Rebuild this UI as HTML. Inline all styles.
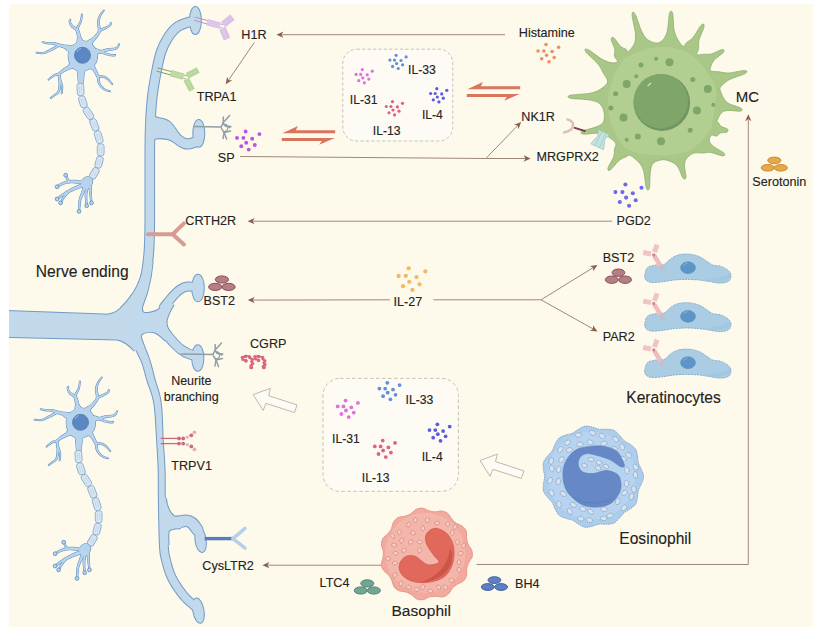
<!DOCTYPE html>
<html><head><meta charset="utf-8"><style>html,body{margin:0;padding:0;background:#fff;width:813px;height:630px;overflow:hidden}</style></head><body><svg width="813" height="630" viewBox="0 0 813 630" style="display:block;font-family:'Liberation Sans',sans-serif"><rect x="0" y="0" width="813" height="630" fill="#ffffff"/>
<rect x="9" y="4" width="804" height="623" fill="#FEFAEB"/>
<g id="nerve"><path d="M193,21.5C192.33,21.58 191.63,21.08 189,22C186.37,22.92 180.73,24.37 177.2,27C173.67,29.63 170.5,33.63 167.8,37.8C165.1,41.97 162.9,46.35 161,52C159.1,57.65 157.82,64.53 156.4,71.7C154.98,78.87 153.48,86.95 152.5,95C151.52,103.05 150.95,110.83 150.5,120C150.05,129.17 149.92,133.33 149.8,150C149.68,166.67 149.93,203.33 149.8,220C149.67,236.67 149.55,241.33 149,250C148.45,258.67 147.58,265.67 146.5,272C145.42,278.33 143.17,285.33 142.5,288" fill="none" stroke="#6F9BC6" stroke-width="10.6" stroke-linecap="round" stroke-linejoin="round"/><path d="M170,132C171.12,133.08 174.37,136.63 176.7,138.5C179.03,140.37 181.78,142.32 184,143.2C186.22,144.08 187.83,144.17 190,143.8C192.17,143.43 195.83,141.47 197,141" fill="none" stroke="#6F9BC6" stroke-width="11.2" stroke-linecap="round" stroke-linejoin="round"/><path d="M164,307C164.67,306.17 166.33,304 168,302C169.67,300 172,297.08 174,295C176,292.92 177.83,290.92 180,289.5C182.17,288.08 184.17,286.92 187,286.5C189.83,286.08 195.33,286.92 197,287" fill="none" stroke="#6F9BC6" stroke-width="10" stroke-linecap="round" stroke-linejoin="round"/><path d="M163,331C163.67,331.67 165.17,333 167,335C168.83,337 171.67,340.58 174,343C176.33,345.42 178.5,347.67 181,349.5C183.5,351.33 186.33,352.92 189,354C191.67,355.08 195.67,355.67 197,356" fill="none" stroke="#6F9BC6" stroke-width="10.4" stroke-linecap="round" stroke-linejoin="round"/><path d="M179,522.2C180.17,521.97 183.83,520.67 186,520.8C188.17,520.93 190.08,521.47 192,523C193.92,524.53 196.58,528.83 197.5,530" fill="none" stroke="#6F9BC6" stroke-width="12.5" stroke-linecap="round" stroke-linejoin="round"/><path d="M131.62,339.83 L131.96,340.52 L132.39,341.42 L132.89,342.49 L133.44,343.69 L134.03,344.98 L134.65,346.34 L135.28,347.71 L135.9,349.08 L136.51,350.4 L137.08,351.65 L137.65,352.85 L138.21,354 L138.77,355.1 L139.31,356.18 L139.84,357.25 L140.37,358.32 L140.89,359.43 L141.41,360.6 L141.92,361.84 L142.44,363.19 L142.93,364.64 L143.41,366.18 L143.89,367.8 L144.37,369.5 L144.85,371.26 L145.35,373.08 L145.87,374.97 L146.4,376.92 L146.95,378.92 L147.54,380.99 L148.21,383.1 L148.93,385.18 L149.68,387.23 L150.43,389.28 L151.18,391.37 L151.91,393.52 L152.6,395.78 L153.24,398.16 L153.83,400.72 L154.33,403.47 L154.77,406.52 L155.15,409.89 L155.47,413.51 L155.75,417.31 L156,421.21 L156.23,425.17 L156.44,429.1 L156.65,432.96 L156.87,436.67 L157.1,440.16 L157.3,443.46 L157.48,446.63 L157.67,449.7 L157.84,452.69 L158.01,455.61 L158.17,458.5 L158.31,461.37 L158.44,464.25 L158.56,467.15 L158.65,470.09 L158.73,473 L158.76,475.79 L158.78,478.54 L158.77,481.28 L158.76,484.06 L158.75,486.92 L158.75,489.91 L158.77,493.07 L158.82,496.45 L158.9,500.08 L158.94,504.13 L158.99,508.63 L159.08,513.46 L159.17,518.49 L159.28,523.58 L159.4,528.59 L159.53,533.4 L159.66,537.87 L159.79,541.87 L159.91,545.26 L160.1,547.99 L160.27,550.2 L160.44,552 L160.61,553.5 L160.79,554.81 L161.01,555.99 L161.25,557.11 L161.53,558.24 L161.84,559.47 L162.22,560.95 L162.64,562.63 L163.09,564.39 L163.57,566.21 L164.09,568.07 L164.66,569.98 L165.29,571.91 L165.98,573.86 L166.74,575.82 L167.58,577.79 L168.51,579.74 L169.52,581.68 L170.62,583.65 L171.8,585.62 L173.04,587.6 L174.33,589.55 L175.65,591.47 L176.99,593.34 L178.34,595.15 L179.68,596.87 L181.02,598.52 L182.45,600.14 L183.98,601.73 L185.56,603.26 L187.15,604.71 L188.7,606.07 L190.17,607.33 L191.52,608.46 L192.71,609.45 L193.68,610.27 L194.42,610.92 L199.58,605.08 L198.77,604.36 L197.72,603.47 L196.52,602.48 L195.21,601.37 L193.8,600.18 L192.36,598.91 L190.91,597.58 L189.5,596.22 L188.19,594.85 L186.98,593.48 L185.78,592.01 L184.54,590.42 L183.28,588.74 L182.03,586.99 L180.8,585.2 L179.6,583.38 L178.45,581.55 L177.38,579.74 L176.38,577.97 L175.49,576.26 L174.7,574.58 L173.97,572.88 L173.3,571.15 L172.68,569.4 L172.11,567.65 L171.58,565.9 L171.09,564.15 L170.63,562.42 L170.2,560.72 L169.78,559.05 L169.41,557.55 L169.1,556.34 L168.85,555.34 L168.66,554.46 L168.49,553.57 L168.35,552.53 L168.2,551.22 L168.05,549.55 L167.88,547.41 L167.69,544.74 L167.39,541.43 L167.09,537.49 L166.78,533.06 L166.48,528.29 L166.18,523.3 L165.89,518.23 L165.61,513.22 L165.35,508.41 L165.11,503.93 L164.9,499.92 L164.81,496.33 L164.75,493.01 L164.72,489.88 L164.71,486.92 L164.71,484.07 L164.71,481.28 L164.71,478.52 L164.68,475.73 L164.63,472.87 L164.55,469.91 L164.42,466.91 L164.28,463.97 L164.12,461.07 L163.94,458.17 L163.75,455.26 L163.55,452.32 L163.34,449.33 L163.13,446.27 L162.91,443.11 L162.7,439.84 L162.54,436.37 L162.41,432.69 L162.28,428.85 L162.14,424.9 L162,420.91 L161.82,416.95 L161.62,413.07 L161.36,409.34 L161.05,405.81 L160.67,402.53 L160.19,399.5 L159.63,396.68 L159.01,394.05 L158.34,391.58 L157.64,389.26 L156.94,387.05 L156.26,384.96 L155.61,382.94 L155.01,380.97 L154.46,379.01 L153.93,377.02 L153.41,375.05 L152.91,373.11 L152.43,371.22 L151.96,369.37 L151.49,367.56 L151.02,365.8 L150.55,364.09 L150.06,362.42 L149.56,360.81 L149.08,359.27 L148.59,357.83 L148.11,356.48 L147.63,355.21 L147.16,354 L146.69,352.84 L146.23,351.72 L145.79,350.61 L145.35,349.5 L144.92,348.35 L144.45,347.09 L143.94,345.73 L143.4,344.33 L142.87,342.91 L142.34,341.52 L141.84,340.19 L141.38,338.95 L140.97,337.84 L140.64,336.91 L140.38,336.17Z" fill="#6F9BC6" stroke="#6F9BC6" stroke-width="2" stroke-linejoin="round"/><path d="M149.5,150 C151,142 153,138.3 158,138.3 C164,138.3 169,138.5 173.5,141.7" fill="none" stroke="#6F9BC6" stroke-width="2"/><path d="M179.9,135.3 C176,130 172.5,124 169,121.5 C166,119.5 161,118.5 158,118 C153.5,117.5 151,112 149.5,104" fill="none" stroke="#6F9BC6" stroke-width="2"/><path d="M165.8,498 C166.5,505 169,512 173.8,516.3 C176,517 178,516.5 181,516.2" fill="none" stroke="#6F9BC6" stroke-width="2"/><path d="M181,528.2 C176,528.5 171,528.5 168.7,531 C168,535 168.3,540 168.6,545" fill="none" stroke="#6F9BC6" stroke-width="2"/><path d="M-5,310.6 L104,314.6 C110,315 115,313.5 120,309 C125,304 130,298 134,292 C139,284 143,272 144.9,262" fill="none" stroke="#6F9BC6" stroke-width="2" stroke-linejoin="round"/><path d="M152.6,262 C151.8,272 150,282 147.5,291 C146,297 143.5,302 142.3,306.5 C141,311.5 143,313.5 148,313 C153,312.6 157,311.5 160.5,307.8 L166.6,300.2" fill="none" stroke="#6F9BC6" stroke-width="2" stroke-linejoin="round"/><path d="M173.8,304.5 C170.5,310 167.6,315.5 166.6,320.5 C166,325.5 168,330 171.5,333.5" fill="none" stroke="#6F9BC6" stroke-width="2" stroke-linejoin="round"/><path d="M165.3,340.5 C161.5,337 157.5,332.6 153,332 C149,331.6 144,332.3 141.6,334.2 C140.2,336.5 140.6,341 143,348" fill="none" stroke="#6F9BC6" stroke-width="2" stroke-linejoin="round"/><path d="M134.6,351 C131,347 126,341 117,339.4 L-5,336.6" fill="none" stroke="#6F9BC6" stroke-width="2" stroke-linejoin="round"/><ellipse cx="195.4" cy="20.5" rx="5.5" ry="13.6" transform="rotate(0 195.4 20.5)" fill="#6F9BC6" stroke="#6F9BC6" stroke-width="2"/><ellipse cx="198.8" cy="133.3" rx="5.5" ry="13.4" transform="rotate(0 198.8 133.3)" fill="#6F9BC6" stroke="#6F9BC6" stroke-width="2"/><ellipse cx="198" cy="288" rx="5.8" ry="13.3" transform="rotate(0 198 288)" fill="#6F9BC6" stroke="#6F9BC6" stroke-width="2"/><ellipse cx="197.8" cy="358" rx="5.6" ry="12.8" transform="rotate(0 197.8 358)" fill="#6F9BC6" stroke="#6F9BC6" stroke-width="2"/><ellipse cx="200.6" cy="540.2" rx="5.1" ry="12" transform="rotate(-8 200.6 540.2)" fill="#6F9BC6" stroke="#6F9BC6" stroke-width="2"/><ellipse cx="198.4" cy="610.7" rx="5.1" ry="12.3" transform="rotate(-10 198.4 610.7)" fill="#6F9BC6" stroke="#6F9BC6" stroke-width="2"/><path d="M193,21.5C192.33,21.58 191.63,21.08 189,22C186.37,22.92 180.73,24.37 177.2,27C173.67,29.63 170.5,33.63 167.8,37.8C165.1,41.97 162.9,46.35 161,52C159.1,57.65 157.82,64.53 156.4,71.7C154.98,78.87 153.48,86.95 152.5,95C151.52,103.05 150.95,110.83 150.5,120C150.05,129.17 149.92,133.33 149.8,150C149.68,166.67 149.93,203.33 149.8,220C149.67,236.67 149.55,241.33 149,250C148.45,258.67 147.58,265.67 146.5,272C145.42,278.33 143.17,285.33 142.5,288" fill="none" stroke="#C2D9EB" stroke-width="8.6" stroke-linecap="round" stroke-linejoin="round"/><path d="M170,132C171.12,133.08 174.37,136.63 176.7,138.5C179.03,140.37 181.78,142.32 184,143.2C186.22,144.08 187.83,144.17 190,143.8C192.17,143.43 195.83,141.47 197,141" fill="none" stroke="#C2D9EB" stroke-width="9.2" stroke-linecap="round" stroke-linejoin="round"/><path d="M164,307C164.67,306.17 166.33,304 168,302C169.67,300 172,297.08 174,295C176,292.92 177.83,290.92 180,289.5C182.17,288.08 184.17,286.92 187,286.5C189.83,286.08 195.33,286.92 197,287" fill="none" stroke="#C2D9EB" stroke-width="8" stroke-linecap="round" stroke-linejoin="round"/><path d="M163,331C163.67,331.67 165.17,333 167,335C168.83,337 171.67,340.58 174,343C176.33,345.42 178.5,347.67 181,349.5C183.5,351.33 186.33,352.92 189,354C191.67,355.08 195.67,355.67 197,356" fill="none" stroke="#C2D9EB" stroke-width="8.4" stroke-linecap="round" stroke-linejoin="round"/><path d="M179,522.2C180.17,521.97 183.83,520.67 186,520.8C188.17,520.93 190.08,521.47 192,523C193.92,524.53 196.58,528.83 197.5,530" fill="none" stroke="#C2D9EB" stroke-width="10.5" stroke-linecap="round" stroke-linejoin="round"/><path d="M-5,310.6 L104,314.6 C110,315 115,313.5 120,309 C125,304 130,298 134,292 C139,284 143,272 144.9,262 L152.6,262 C151.8,272 150,282 147.5,291 C146,297 143.5,302 142.3,306.5 C141,311.5 143,313.5 148,313 C153,312.6 157,311.5 160.5,307.8 L166.6,300.2 L173.8,304.5 C170.5,310 167.6,315.5 166.6,320.5 C166,325.5 168,330 171.5,333.5 L165.3,340.5 C161.5,337 157.5,332.6 153,332 C149,331.6 144,332.3 141.6,334.2 C140.2,336.5 140.6,341 143,348 L134.6,351 C131,347 126,341 117,339.4 L-5,336.6 Z" fill="#C2D9EB"/><path d="M131.62,339.83 L131.96,340.52 L132.39,341.42 L132.89,342.49 L133.44,343.69 L134.03,344.98 L134.65,346.34 L135.28,347.71 L135.9,349.08 L136.51,350.4 L137.08,351.65 L137.65,352.85 L138.21,354 L138.77,355.1 L139.31,356.18 L139.84,357.25 L140.37,358.32 L140.89,359.43 L141.41,360.6 L141.92,361.84 L142.44,363.19 L142.93,364.64 L143.41,366.18 L143.89,367.8 L144.37,369.5 L144.85,371.26 L145.35,373.08 L145.87,374.97 L146.4,376.92 L146.95,378.92 L147.54,380.99 L148.21,383.1 L148.93,385.18 L149.68,387.23 L150.43,389.28 L151.18,391.37 L151.91,393.52 L152.6,395.78 L153.24,398.16 L153.83,400.72 L154.33,403.47 L154.77,406.52 L155.15,409.89 L155.47,413.51 L155.75,417.31 L156,421.21 L156.23,425.17 L156.44,429.1 L156.65,432.96 L156.87,436.67 L157.1,440.16 L157.3,443.46 L157.48,446.63 L157.67,449.7 L157.84,452.69 L158.01,455.61 L158.17,458.5 L158.31,461.37 L158.44,464.25 L158.56,467.15 L158.65,470.09 L158.73,473 L158.76,475.79 L158.78,478.54 L158.77,481.28 L158.76,484.06 L158.75,486.92 L158.75,489.91 L158.77,493.07 L158.82,496.45 L158.9,500.08 L158.94,504.13 L158.99,508.63 L159.08,513.46 L159.17,518.49 L159.28,523.58 L159.4,528.59 L159.53,533.4 L159.66,537.87 L159.79,541.87 L159.91,545.26 L160.1,547.99 L160.27,550.2 L160.44,552 L160.61,553.5 L160.79,554.81 L161.01,555.99 L161.25,557.11 L161.53,558.24 L161.84,559.47 L162.22,560.95 L162.64,562.63 L163.09,564.39 L163.57,566.21 L164.09,568.07 L164.66,569.98 L165.29,571.91 L165.98,573.86 L166.74,575.82 L167.58,577.79 L168.51,579.74 L169.52,581.68 L170.62,583.65 L171.8,585.62 L173.04,587.6 L174.33,589.55 L175.65,591.47 L176.99,593.34 L178.34,595.15 L179.68,596.87 L181.02,598.52 L182.45,600.14 L183.98,601.73 L185.56,603.26 L187.15,604.71 L188.7,606.07 L190.17,607.33 L191.52,608.46 L192.71,609.45 L193.68,610.27 L194.42,610.92 L199.58,605.08 L198.77,604.36 L197.72,603.47 L196.52,602.48 L195.21,601.37 L193.8,600.18 L192.36,598.91 L190.91,597.58 L189.5,596.22 L188.19,594.85 L186.98,593.48 L185.78,592.01 L184.54,590.42 L183.28,588.74 L182.03,586.99 L180.8,585.2 L179.6,583.38 L178.45,581.55 L177.38,579.74 L176.38,577.97 L175.49,576.26 L174.7,574.58 L173.97,572.88 L173.3,571.15 L172.68,569.4 L172.11,567.65 L171.58,565.9 L171.09,564.15 L170.63,562.42 L170.2,560.72 L169.78,559.05 L169.41,557.55 L169.1,556.34 L168.85,555.34 L168.66,554.46 L168.49,553.57 L168.35,552.53 L168.2,551.22 L168.05,549.55 L167.88,547.41 L167.69,544.74 L167.39,541.43 L167.09,537.49 L166.78,533.06 L166.48,528.29 L166.18,523.3 L165.89,518.23 L165.61,513.22 L165.35,508.41 L165.11,503.93 L164.9,499.92 L164.81,496.33 L164.75,493.01 L164.72,489.88 L164.71,486.92 L164.71,484.07 L164.71,481.28 L164.71,478.52 L164.68,475.73 L164.63,472.87 L164.55,469.91 L164.42,466.91 L164.28,463.97 L164.12,461.07 L163.94,458.17 L163.75,455.26 L163.55,452.32 L163.34,449.33 L163.13,446.27 L162.91,443.11 L162.7,439.84 L162.54,436.37 L162.41,432.69 L162.28,428.85 L162.14,424.9 L162,420.91 L161.82,416.95 L161.62,413.07 L161.36,409.34 L161.05,405.81 L160.67,402.53 L160.19,399.5 L159.63,396.68 L159.01,394.05 L158.34,391.58 L157.64,389.26 L156.94,387.05 L156.26,384.96 L155.61,382.94 L155.01,380.97 L154.46,379.01 L153.93,377.02 L153.41,375.05 L152.91,373.11 L152.43,371.22 L151.96,369.37 L151.49,367.56 L151.02,365.8 L150.55,364.09 L150.06,362.42 L149.56,360.81 L149.08,359.27 L148.59,357.83 L148.11,356.48 L147.63,355.21 L147.16,354 L146.69,352.84 L146.23,351.72 L145.79,350.61 L145.35,349.5 L144.92,348.35 L144.45,347.09 L143.94,345.73 L143.4,344.33 L142.87,342.91 L142.34,341.52 L141.84,340.19 L141.38,338.95 L140.97,337.84 L140.64,336.91 L140.38,336.17Z" fill="#C2D9EB"/><path d="M149.5,104 L149.5,150 C151,142 153,138.3 158,138.3 C164,138.3 169,138.5 173.5,141.7 L179.9,135.3 C176,130 172.5,124 169,121.5 C166,119.5 161,118.5 158,118 C153.5,117.5 151,112 149.5,104 Z" fill="#C2D9EB"/><path d="M161,495 L165.8,498 C166.5,505 169,512 173.8,516.3 C176,517 178,516.5 181,516.2 L181,528.2 C176,528.5 171,528.5 168.7,531 C168,535 168.3,540 168.6,545 L161,545 Z" fill="#C2D9EB"/><ellipse cx="195.4" cy="20.5" rx="5.5" ry="13.6" transform="rotate(0 195.4 20.5)" fill="#C2D9EB"/><ellipse cx="198.8" cy="133.3" rx="5.5" ry="13.4" transform="rotate(0 198.8 133.3)" fill="#C2D9EB"/><ellipse cx="198" cy="288" rx="5.8" ry="13.3" transform="rotate(0 198 288)" fill="#C2D9EB"/><ellipse cx="197.8" cy="358" rx="5.6" ry="12.8" transform="rotate(0 197.8 358)" fill="#C2D9EB"/><ellipse cx="200.6" cy="540.2" rx="5.1" ry="12" transform="rotate(-8 200.6 540.2)" fill="#C2D9EB"/><ellipse cx="198.4" cy="610.7" rx="5.1" ry="12.3" transform="rotate(-10 198.4 610.7)" fill="#C2D9EB"/></g>
<g transform="translate(0 0)"><g fill="#6592C4" stroke="#6592C4" stroke-width="1.1" stroke-linejoin="round"><path d="M81.67,41.7 L81.56,41.22 L81.42,40.58 L81.27,39.81 L81.09,38.94 L80.9,38.01 L80.71,37.06 L80.5,36.11 L80.3,35.2 L80.09,34.37 L79.89,33.65 L79.7,33.05 L79.54,32.51 L79.37,32 L79.2,31.51 L79.02,31.04 L78.81,30.57 L78.57,30.11 L78.29,29.66 L77.97,29.21 L77.58,28.75 L77.11,28.29 L76.58,27.88 L76.03,27.51 L75.47,27.18 L74.91,26.87 L74.37,26.58 L73.86,26.28 L73.39,25.99 L73,25.71 L72.67,25.41 L72.36,25.07 L72.06,24.67 L71.77,24.24 L71.5,23.8 L71.25,23.34 L71.02,22.89 L70.83,22.45 L70.65,22.05 L70.51,21.68 L70.41,21.38 L70.35,21.16 L70.33,20.97 L70.34,20.8 L70.37,20.63 L70.43,20.46 L70.51,20.3 L70.6,20.13 L70.68,19.97 L70.77,19.8 L70.81,19.66 L70.19,19.34 L70.12,19.41 L70.03,19.49 L69.9,19.62 L69.75,19.78 L69.59,19.97 L69.44,20.22 L69.3,20.5 L69.2,20.84 L69.16,21.22 L69.19,21.62 L69.27,22.03 L69.37,22.47 L69.51,22.94 L69.68,23.45 L69.88,23.97 L70.1,24.51 L70.36,25.04 L70.65,25.58 L70.97,26.09 L71.33,26.59 L71.77,27.07 L72.26,27.5 L72.78,27.9 L73.31,28.27 L73.84,28.63 L74.35,28.97 L74.82,29.3 L75.23,29.63 L75.56,29.94 L75.82,30.25 L76.03,30.58 L76.21,30.9 L76.35,31.22 L76.47,31.55 L76.58,31.9 L76.68,32.29 L76.77,32.72 L76.87,33.21 L76.99,33.75 L77.11,34.35 L77.25,35.02 L77.39,35.8 L77.54,36.68 L77.68,37.61 L77.82,38.55 L77.95,39.48 L78.07,40.35 L78.18,41.13 L78.26,41.8 L78.33,42.3Z"/><path d="M77.57,30.37 L77.64,30.16 L77.72,29.91 L77.82,29.63 L77.93,29.31 L78.06,28.95 L78.2,28.57 L78.35,28.16 L78.52,27.73 L78.69,27.28 L78.88,26.81 L79.09,26.33 L79.34,25.79 L79.62,25.22 L79.91,24.61 L80.22,23.98 L80.52,23.33 L80.81,22.67 L81.09,22 L81.33,21.33 L81.53,20.66 L81.69,19.96 L81.82,19.22 L81.92,18.45 L82.01,17.68 L82.07,16.92 L82.12,16.2 L82.16,15.52 L82.2,14.93 L82.22,14.43 L82.25,14.04 L81.55,13.96 L81.49,14.35 L81.42,14.86 L81.35,15.45 L81.27,16.12 L81.18,16.83 L81.07,17.57 L80.95,18.31 L80.81,19.04 L80.65,19.72 L80.47,20.34 L80.25,20.94 L80,21.55 L79.7,22.16 L79.39,22.78 L79.06,23.39 L78.72,23.99 L78.39,24.58 L78.08,25.14 L77.78,25.68 L77.52,26.19 L77.29,26.65 L77.07,27.1 L76.86,27.52 L76.67,27.92 L76.49,28.3 L76.33,28.64 L76.18,28.94 L76.04,29.21 L75.93,29.44 L75.83,29.63Z"/><path d="M70.42,46.35 L69.99,46.27 L69.41,46.15 L68.73,46 L67.97,45.84 L67.16,45.66 L66.33,45.47 L65.51,45.29 L64.72,45.11 L63.99,44.95 L63.36,44.82 L62.81,44.7 L62.31,44.6 L61.84,44.5 L61.41,44.42 L61,44.34 L60.6,44.26 L60.2,44.18 L59.8,44.09 L59.38,44 L58.95,43.89 L58.52,43.78 L58.09,43.65 L57.65,43.51 L57.19,43.35 L56.72,43.19 L56.22,43.03 L55.69,42.87 L55.14,42.73 L54.56,42.61 L53.94,42.52 L53.29,42.46 L52.6,42.43 L51.89,42.43 L51.17,42.44 L50.45,42.46 L49.73,42.48 L49.03,42.5 L48.37,42.51 L47.74,42.51 L47.17,42.48 L46.62,42.44 L46.06,42.37 L45.5,42.29 L44.96,42.2 L44.44,42.11 L43.96,42.02 L43.51,41.93 L43.11,41.86 L42.76,41.8 L42.48,41.76 L42.32,42.44 L42.58,42.53 L42.91,42.64 L43.29,42.77 L43.73,42.91 L44.22,43.05 L44.74,43.2 L45.29,43.35 L45.86,43.49 L46.44,43.61 L47.03,43.72 L47.65,43.8 L48.32,43.86 L49.01,43.9 L49.72,43.94 L50.44,43.97 L51.15,44 L51.84,44.05 L52.5,44.1 L53.11,44.18 L53.66,44.28 L54.16,44.4 L54.63,44.55 L55.09,44.72 L55.53,44.9 L55.97,45.1 L56.41,45.3 L56.85,45.51 L57.3,45.72 L57.77,45.92 L58.25,46.11 L58.71,46.27 L59.13,46.42 L59.53,46.57 L59.93,46.7 L60.33,46.84 L60.74,46.97 L61.16,47.11 L61.61,47.26 L62.1,47.41 L62.64,47.58 L63.26,47.77 L63.97,47.99 L64.75,48.22 L65.57,48.45 L66.39,48.69 L67.18,48.92 L67.93,49.14 L68.6,49.34 L69.16,49.51 L69.58,49.65Z"/><path d="M58.1,44.63 L57.66,44.92 L57.08,45.28 L56.41,45.7 L55.65,46.18 L54.83,46.68 L53.98,47.2 L53.11,47.72 L52.25,48.22 L51.43,48.68 L50.65,49.1 L49.89,49.5 L49.13,49.91 L48.36,50.31 L47.6,50.7 L46.84,51.08 L46.09,51.43 L45.35,51.75 L44.62,52.03 L43.9,52.26 L43.2,52.44 L42.48,52.56 L41.72,52.62 L40.92,52.63 L40.11,52.6 L39.32,52.54 L38.56,52.47 L37.85,52.39 L37.21,52.32 L36.66,52.27 L36.23,52.25 L36.17,52.95 L36.58,53.01 L37.1,53.1 L37.73,53.21 L38.44,53.34 L39.22,53.46 L40.04,53.56 L40.88,53.63 L41.74,53.67 L42.58,53.65 L43.4,53.56 L44.19,53.4 L44.99,53.19 L45.79,52.93 L46.59,52.64 L47.4,52.31 L48.2,51.96 L48.99,51.6 L49.79,51.23 L50.57,50.86 L51.35,50.5 L52.17,50.11 L53.04,49.67 L53.94,49.2 L54.84,48.71 L55.73,48.22 L56.58,47.75 L57.36,47.31 L58.05,46.93 L58.64,46.61 L59.1,46.37Z"/><path d="M88.96,44.4 L89.25,44.18 L89.63,43.89 L90.1,43.55 L90.63,43.17 L91.2,42.76 L91.79,42.33 L92.38,41.89 L92.94,41.46 L93.47,41.04 L93.93,40.65 L94.31,40.3 L94.65,39.98 L94.97,39.67 L95.28,39.36 L95.57,39.05 L95.86,38.72 L96.14,38.37 L96.42,37.99 L96.71,37.58 L97,37.14 L97.31,36.69 L97.66,36.22 L98.04,35.7 L98.44,35.14 L98.84,34.53 L99.23,33.89 L99.59,33.2 L99.9,32.47 L100.15,31.69 L100.31,30.85 L100.36,29.97 L100.31,29.05 L100.17,28.13 L99.99,27.2 L99.78,26.27 L99.57,25.36 L99.38,24.47 L99.22,23.63 L99.12,22.85 L99.1,22.13 L99.14,21.44 L99.21,20.75 L99.31,20.09 L99.45,19.43 L99.61,18.8 L99.79,18.17 L100,17.56 L100.22,16.95 L100.46,16.35 L100.71,15.76 L101,15.17 L101.35,14.56 L101.74,13.94 L102.15,13.32 L102.58,12.72 L103.01,12.15 L103.4,11.62 L103.76,11.15 L104.06,10.74 L104.28,10.41 L103.72,9.99 L103.47,10.28 L103.15,10.65 L102.75,11.1 L102.32,11.6 L101.85,12.15 L101.38,12.74 L100.9,13.36 L100.45,13.99 L100.04,14.62 L99.69,15.24 L99.38,15.85 L99.08,16.46 L98.8,17.09 L98.54,17.73 L98.29,18.39 L98.07,19.07 L97.88,19.78 L97.72,20.51 L97.59,21.27 L97.5,22.07 L97.48,22.93 L97.54,23.85 L97.67,24.77 L97.82,25.71 L97.99,26.64 L98.15,27.54 L98.28,28.41 L98.35,29.21 L98.36,29.93 L98.29,30.55 L98.14,31.11 L97.92,31.67 L97.64,32.21 L97.32,32.74 L96.96,33.25 L96.57,33.76 L96.17,34.25 L95.76,34.73 L95.36,35.2 L95,35.66 L94.68,36.05 L94.4,36.37 L94.14,36.65 L93.89,36.9 L93.64,37.13 L93.38,37.35 L93.1,37.57 L92.79,37.81 L92.45,38.07 L92.07,38.35 L91.65,38.66 L91.15,39 L90.6,39.37 L90.01,39.75 L89.42,40.13 L88.84,40.5 L88.29,40.84 L87.79,41.14 L87.37,41.4 L87.04,41.6Z"/><path d="M99.68,31.57 L100.05,31.39 L100.53,31.16 L101.1,30.89 L101.75,30.58 L102.45,30.26 L103.17,29.92 L103.89,29.57 L104.59,29.23 L105.25,28.89 L105.84,28.57 L106.39,28.26 L106.94,27.94 L107.48,27.63 L108.02,27.31 L108.54,26.98 L109.03,26.66 L109.49,26.34 L109.91,26.02 L110.28,25.7 L110.6,25.38 L110.86,25.03 L111.04,24.66 L111.15,24.29 L111.19,23.95 L111.19,23.63 L111.17,23.34 L111.13,23.09 L111.09,22.89 L111.06,22.74 L111.05,22.63 L110.35,22.57 L110.32,22.74 L110.31,22.95 L110.31,23.16 L110.31,23.38 L110.29,23.61 L110.26,23.83 L110.2,24.04 L110.11,24.24 L109.99,24.43 L109.8,24.62 L109.54,24.84 L109.2,25.08 L108.8,25.33 L108.36,25.59 L107.88,25.87 L107.36,26.14 L106.82,26.42 L106.27,26.69 L105.71,26.97 L105.16,27.23 L104.57,27.51 L103.92,27.8 L103.22,28.1 L102.49,28.4 L101.76,28.7 L101.06,28.99 L100.4,29.25 L99.81,29.49 L99.3,29.68 L98.92,29.83Z"/><path d="M94.59,52.1 L94.9,52.14 L95.29,52.23 L95.8,52.35 L96.39,52.5 L97.04,52.65 L97.74,52.8 L98.47,52.93 L99.23,53.02 L100,53.06 L100.77,53.02 L101.51,52.91 L102.23,52.74 L102.92,52.52 L103.59,52.28 L104.25,52.02 L104.91,51.74 L105.58,51.48 L106.24,51.22 L106.92,50.98 L107.61,50.78 L108.37,50.6 L109.21,50.45 L110.11,50.31 L111.05,50.17 L112.01,50.03 L112.96,49.88 L113.89,49.7 L114.76,49.49 L115.57,49.23 L116.3,48.91 L116.93,48.49 L117.47,47.99 L117.93,47.45 L118.31,46.88 L118.63,46.32 L118.9,45.77 L119.12,45.26 L119.31,44.82 L119.46,44.46 L119.59,44.19 L119.01,43.81 L118.8,44.08 L118.57,44.44 L118.32,44.86 L118.05,45.32 L117.75,45.79 L117.41,46.27 L117.04,46.71 L116.63,47.11 L116.19,47.44 L115.7,47.69 L115.12,47.89 L114.42,48.05 L113.61,48.18 L112.74,48.29 L111.81,48.37 L110.86,48.44 L109.91,48.51 L108.96,48.59 L108.05,48.69 L107.19,48.82 L106.38,48.99 L105.6,49.19 L104.86,49.4 L104.16,49.62 L103.48,49.82 L102.84,50.01 L102.24,50.17 L101.66,50.28 L101.13,50.36 L100.63,50.38 L100.13,50.34 L99.58,50.26 L99,50.13 L98.41,49.97 L97.82,49.78 L97.26,49.59 L96.72,49.39 L96.22,49.2 L95.77,49.03 L95.41,48.9Z"/><path d="M100.33,52.57 L100.66,52.69 L101.07,52.86 L101.56,53.06 L102.12,53.29 L102.74,53.54 L103.39,53.79 L104.07,54.05 L104.78,54.3 L105.49,54.52 L106.19,54.72 L106.93,54.9 L107.74,55.08 L108.6,55.26 L109.48,55.43 L110.37,55.59 L111.23,55.74 L112.05,55.86 L112.79,55.96 L113.43,56.02 L113.97,56.05 L114.42,56.02 L114.8,55.93 L115.11,55.75 L115.32,55.48 L115.41,55.2 L115.42,54.96 L115.39,54.78 L115.36,54.66 L115.33,54.63 L115.32,54.64 L114.68,54.36 L114.61,54.51 L114.58,54.69 L114.57,54.83 L114.56,54.94 L114.54,54.99 L114.52,54.99 L114.52,54.96 L114.48,54.96 L114.33,54.97 L114.03,54.95 L113.56,54.89 L112.96,54.79 L112.25,54.66 L111.46,54.5 L110.62,54.32 L109.76,54.12 L108.9,53.91 L108.07,53.7 L107.3,53.49 L106.61,53.28 L105.97,53.06 L105.32,52.81 L104.67,52.54 L104.03,52.26 L103.41,51.98 L102.83,51.7 L102.3,51.44 L101.82,51.2 L101.4,50.99 L101.07,50.83Z"/><path d="M72.24,63.98 L71.83,64.22 L71.26,64.52 L70.58,64.89 L69.82,65.29 L69.01,65.72 L68.18,66.16 L67.37,66.6 L66.6,67.02 L65.91,67.4 L65.33,67.74 L64.85,68.03 L64.44,68.28 L64.08,68.52 L63.76,68.73 L63.47,68.94 L63.2,69.15 L62.94,69.35 L62.67,69.56 L62.38,69.79 L62.04,70.04 L61.67,70.34 L61.3,70.65 L60.94,70.97 L60.58,71.29 L60.22,71.61 L59.86,71.93 L59.51,72.23 L59.14,72.51 L58.77,72.77 L58.4,73 L58.03,73.2 L57.62,73.37 L57.19,73.52 L56.72,73.67 L56.22,73.82 L55.7,73.98 L55.16,74.16 L54.61,74.38 L54.05,74.64 L53.49,74.96 L52.91,75.36 L52.31,75.82 L51.68,76.34 L51.05,76.88 L50.42,77.44 L49.83,77.98 L49.28,78.49 L48.79,78.95 L48.39,79.34 L48.08,79.63 L48.52,80.17 L48.87,79.91 L49.32,79.56 L49.84,79.14 L50.43,78.67 L51.05,78.18 L51.7,77.67 L52.35,77.18 L52.98,76.73 L53.58,76.34 L54.11,76.04 L54.6,75.81 L55.09,75.63 L55.58,75.49 L56.08,75.38 L56.58,75.28 L57.09,75.19 L57.61,75.09 L58.13,74.96 L58.67,74.8 L59.2,74.6 L59.7,74.35 L60.18,74.09 L60.63,73.81 L61.07,73.52 L61.49,73.22 L61.89,72.94 L62.28,72.66 L62.65,72.4 L63.01,72.17 L63.36,71.96 L63.7,71.76 L64.01,71.58 L64.3,71.43 L64.57,71.28 L64.84,71.14 L65.12,71 L65.43,70.85 L65.78,70.68 L66.19,70.49 L66.67,70.26 L67.25,69.99 L67.95,69.66 L68.73,69.3 L69.55,68.92 L70.4,68.53 L71.23,68.15 L72.01,67.79 L72.72,67.48 L73.31,67.21 L73.76,67.02Z"/><path d="M57.77,73.99 L57.86,74.42 L57.99,74.95 L58.14,75.55 L58.31,76.23 L58.47,76.96 L58.63,77.73 L58.78,78.54 L58.9,79.36 L58.98,80.18 L59.03,81.01 L59.04,81.9 L59.04,82.89 L59.03,83.94 L58.99,85.02 L58.93,86.1 L58.85,87.17 L58.73,88.2 L58.57,89.15 L58.38,90.01 L58.15,90.73 L57.87,91.34 L57.53,91.87 L57.13,92.36 L56.67,92.8 L56.18,93.22 L55.67,93.6 L55.14,93.97 L54.62,94.34 L54.12,94.71 L53.67,95.09 L53.26,95.46 L52.85,95.82 L52.45,96.15 L52.06,96.48 L51.69,96.78 L51.34,97.06 L51.01,97.32 L50.73,97.55 L50.48,97.75 L50.29,97.92 L50.71,98.48 L50.92,98.34 L51.18,98.17 L51.49,97.97 L51.83,97.74 L52.21,97.48 L52.61,97.2 L53.03,96.9 L53.47,96.58 L53.91,96.25 L54.33,95.91 L54.77,95.58 L55.25,95.27 L55.78,94.94 L56.34,94.58 L56.92,94.2 L57.49,93.76 L58.06,93.26 L58.58,92.69 L59.05,92.02 L59.45,91.27 L59.76,90.41 L60.01,89.46 L60.21,88.43 L60.38,87.35 L60.5,86.23 L60.6,85.11 L60.67,84 L60.72,82.93 L60.75,81.92 L60.77,80.99 L60.77,80.08 L60.71,79.17 L60.62,78.28 L60.5,77.41 L60.36,76.59 L60.23,75.83 L60.09,75.13 L59.98,74.52 L59.89,74.02 L59.83,73.61Z"/><path d="M59.05,80.29 L59.23,80.68 L59.46,81.17 L59.74,81.74 L60.04,82.38 L60.34,83.06 L60.65,83.77 L60.93,84.5 L61.19,85.22 L61.39,85.92 L61.53,86.57 L61.61,87.25 L61.64,88 L61.63,88.81 L61.59,89.63 L61.53,90.46 L61.46,91.25 L61.39,91.99 L61.32,92.66 L61.27,93.23 L61.25,93.67 L61.95,93.73 L62.01,93.31 L62.1,92.76 L62.22,92.1 L62.34,91.36 L62.45,90.56 L62.56,89.72 L62.65,88.86 L62.7,88.02 L62.71,87.2 L62.67,86.43 L62.56,85.66 L62.38,84.88 L62.15,84.09 L61.89,83.3 L61.62,82.54 L61.34,81.82 L61.08,81.16 L60.85,80.57 L60.67,80.09 L60.55,79.71Z"/><path d="M89.65,66.04 L89.86,66.26 L90.12,66.55 L90.41,66.87 L90.74,67.23 L91.08,67.62 L91.43,68.04 L91.79,68.47 L92.14,68.91 L92.48,69.34 L92.79,69.77 L93.11,70.22 L93.44,70.74 L93.78,71.29 L94.13,71.87 L94.48,72.46 L94.82,73.04 L95.15,73.6 L95.45,74.12 L95.74,74.59 L95.98,74.95 L96.11,75.15 L96.16,75.21 L96.18,75.22 L96.2,75.28 L96.23,75.49 L96.35,75.93 L96.67,76.34 L97.02,76.56 L97.37,76.7 L97.82,76.85 L98.43,76.99 L99.13,77.08 L99.89,77.15 L100.71,77.21 L101.56,77.29 L102.43,77.38 L103.29,77.51 L104.12,77.69 L104.89,77.93 L105.59,78.24 L106.29,78.67 L107.03,79.24 L107.8,79.91 L108.57,80.66 L109.33,81.43 L110.05,82.2 L110.72,82.93 L111.32,83.59 L111.83,84.14 L112.24,84.54 L112.76,84.06 L112.39,83.63 L111.93,83.06 L111.37,82.37 L110.74,81.6 L110.05,80.78 L109.31,79.95 L108.55,79.14 L107.77,78.38 L106.99,77.71 L106.21,77.16 L105.38,76.73 L104.5,76.4 L103.59,76.14 L102.66,75.94 L101.75,75.79 L100.88,75.66 L100.08,75.54 L99.37,75.43 L98.8,75.3 L98.38,75.15 L98.09,75.01 L97.95,74.91 L98,74.92 L98.18,75.14 L98.27,75.37 L98.31,75.34 L98.34,75.09 L98.31,74.71 L98.2,74.28 L98.02,73.85 L97.81,73.43 L97.59,72.96 L97.33,72.43 L97.06,71.85 L96.76,71.24 L96.45,70.61 L96.14,69.98 L95.82,69.37 L95.51,68.78 L95.21,68.23 L94.89,67.71 L94.56,67.18 L94.22,66.67 L93.88,66.17 L93.55,65.7 L93.23,65.26 L92.95,64.85 L92.7,64.5 L92.5,64.2 L92.35,63.96Z"/><path d="M97.16,76.11 L97.22,76.52 L97.29,77.07 L97.35,77.74 L97.43,78.51 L97.52,79.33 L97.64,80.2 L97.79,81.07 L97.97,81.92 L98.21,82.74 L98.51,83.49 L98.85,84.17 L99.24,84.83 L99.66,85.47 L100.11,86.09 L100.6,86.69 L101.12,87.26 L101.65,87.81 L102.21,88.32 L102.78,88.8 L103.38,89.25 L104.03,89.65 L104.76,90.03 L105.54,90.36 L106.34,90.66 L107.13,90.92 L107.9,91.16 L108.61,91.37 L109.25,91.55 L109.78,91.7 L110.18,91.83 L110.42,91.17 L110.02,91 L109.49,90.81 L108.86,90.59 L108.17,90.35 L107.43,90.08 L106.67,89.78 L105.93,89.46 L105.22,89.11 L104.58,88.74 L104.02,88.35 L103.51,87.93 L103.01,87.46 L102.52,86.96 L102.06,86.43 L101.61,85.87 L101.2,85.3 L100.81,84.71 L100.46,84.11 L100.15,83.51 L99.89,82.91 L99.68,82.28 L99.51,81.57 L99.38,80.79 L99.29,79.98 L99.21,79.17 L99.16,78.37 L99.13,77.62 L99.1,76.94 L99.08,76.35 L99.04,75.89Z"/><path d="M87.75,179.22 L87.27,179.32 L86.64,179.44 L85.92,179.58 L85.12,179.74 L84.26,179.9 L83.37,180.05 L82.46,180.2 L81.58,180.33 L80.73,180.43 L79.96,180.5 L79.23,180.53 L78.49,180.53 L77.73,180.49 L76.95,180.44 L76.15,180.38 L75.34,180.32 L74.51,180.26 L73.66,180.24 L72.8,180.25 L71.94,180.3 L71.1,180.39 L70.26,180.5 L69.42,180.63 L68.58,180.78 L67.74,180.95 L66.91,181.15 L66.09,181.36 L65.28,181.6 L64.48,181.86 L63.7,182.15 L62.9,182.5 L62.08,182.9 L61.26,183.35 L60.45,183.82 L59.67,184.3 L58.94,184.76 L58.27,185.2 L57.68,185.6 L57.19,185.93 L56.8,186.18 L57.4,187.22 L57.82,187.01 L58.36,186.73 L58.99,186.38 L59.68,186 L60.43,185.59 L61.21,185.18 L62.01,184.78 L62.8,184.42 L63.57,184.1 L64.3,183.85 L65.03,183.64 L65.78,183.45 L66.55,183.29 L67.33,183.14 L68.12,183.02 L68.91,182.92 L69.71,182.83 L70.5,182.77 L71.29,182.72 L72.06,182.7 L72.8,182.71 L73.54,182.75 L74.29,182.84 L75.06,182.94 L75.85,183.06 L76.65,183.18 L77.47,183.3 L78.31,183.4 L79.17,183.47 L80.04,183.5 L80.94,183.48 L81.88,183.43 L82.84,183.36 L83.8,183.27 L84.74,183.16 L85.63,183.06 L86.45,182.96 L87.18,182.88 L87.78,182.82 L88.25,182.78Z"/><path d="M69.78,181.05 L69.64,180.85 L69.46,180.58 L69.25,180.26 L69.02,179.91 L68.77,179.52 L68.52,179.13 L68.27,178.73 L68.03,178.35 L67.81,177.99 L67.62,177.68 L67.44,177.37 L67.27,177.06 L67.1,176.75 L66.93,176.44 L66.77,176.14 L66.62,175.85 L66.48,175.59 L66.36,175.35 L66.25,175.15 L66.16,174.99 L65.24,175.41 L65.3,175.58 L65.37,175.79 L65.46,176.04 L65.56,176.32 L65.68,176.63 L65.8,176.95 L65.94,177.29 L66.08,177.64 L66.23,177.98 L66.38,178.32 L66.55,178.68 L66.74,179.07 L66.95,179.48 L67.17,179.91 L67.39,180.33 L67.6,180.73 L67.8,181.11 L67.97,181.45 L68.12,181.73 L68.22,181.95Z"/><path d="M86.48,182.38 L85.96,182.58 L85.29,182.81 L84.5,183.09 L83.59,183.4 L82.61,183.74 L81.58,184.1 L80.53,184.47 L79.48,184.87 L78.45,185.27 L77.47,185.68 L76.52,186.1 L75.56,186.54 L74.57,187 L73.59,187.48 L72.6,187.97 L71.63,188.46 L70.68,188.95 L69.76,189.44 L68.89,189.92 L68.06,190.39 L67.27,190.84 L66.52,191.3 L65.81,191.76 L65.13,192.21 L64.47,192.65 L63.84,193.09 L63.24,193.53 L62.65,193.95 L62.08,194.36 L61.51,194.77 L60.94,195.19 L60.36,195.62 L59.79,196.06 L59.24,196.49 L58.7,196.91 L58.21,197.31 L57.75,197.68 L57.35,198.01 L57.01,198.29 L56.75,198.51 L57.45,199.49 L57.75,199.3 L58.13,199.06 L58.56,198.78 L59.05,198.45 L59.57,198.1 L60.13,197.73 L60.71,197.35 L61.3,196.97 L61.9,196.59 L62.49,196.23 L63.08,195.87 L63.68,195.5 L64.3,195.12 L64.92,194.74 L65.56,194.36 L66.23,193.97 L66.91,193.59 L67.62,193.2 L68.36,192.81 L69.14,192.41 L69.97,192.01 L70.85,191.59 L71.77,191.16 L72.72,190.73 L73.7,190.3 L74.68,189.87 L75.67,189.45 L76.65,189.05 L77.6,188.67 L78.53,188.32 L79.47,187.99 L80.46,187.66 L81.5,187.33 L82.54,187.01 L83.56,186.71 L84.54,186.43 L85.45,186.18 L86.27,185.96 L86.97,185.77 L87.52,185.62Z"/><path d="M67.3,191.43 L67.08,191.73 L66.79,192.11 L66.43,192.56 L66.03,193.07 L65.6,193.62 L65.14,194.2 L64.69,194.8 L64.24,195.41 L63.81,196.02 L63.42,196.61 L63.05,197.22 L62.66,197.88 L62.28,198.57 L61.89,199.27 L61.53,199.97 L61.18,200.64 L60.86,201.27 L60.58,201.82 L60.34,202.29 L60.16,202.66 L61.04,203.14 L61.25,202.8 L61.53,202.34 L61.84,201.8 L62.19,201.2 L62.57,200.55 L62.97,199.88 L63.38,199.21 L63.79,198.56 L64.19,197.94 L64.58,197.39 L64.98,196.86 L65.41,196.31 L65.88,195.75 L66.35,195.19 L66.83,194.64 L67.29,194.12 L67.72,193.65 L68.1,193.22 L68.44,192.86 L68.7,192.57Z"/><path d="M83.58,185.53 L83.49,185.89 L83.38,186.34 L83.24,186.86 L83.09,187.45 L82.91,188.08 L82.72,188.76 L82.52,189.46 L82.32,190.17 L82.1,190.89 L81.89,191.59 L81.66,192.28 L81.4,192.97 L81.12,193.7 L80.81,194.46 L80.5,195.26 L80.18,196.09 L79.88,196.96 L79.6,197.87 L79.35,198.82 L79.15,199.83 L78.99,200.93 L78.86,202.15 L78.75,203.46 L78.67,204.8 L78.61,206.15 L78.56,207.46 L78.52,208.67 L78.49,209.76 L78.47,210.67 L78.45,211.36 L79.55,211.44 L79.63,210.74 L79.72,209.83 L79.81,208.75 L79.91,207.54 L80.02,206.25 L80.15,204.92 L80.29,203.6 L80.45,202.34 L80.64,201.18 L80.85,200.17 L81.09,199.28 L81.37,198.43 L81.69,197.62 L82.03,196.83 L82.38,196.07 L82.74,195.32 L83.1,194.59 L83.46,193.86 L83.8,193.13 L84.11,192.41 L84.4,191.69 L84.68,190.98 L84.95,190.27 L85.21,189.58 L85.46,188.92 L85.7,188.3 L85.92,187.73 L86.11,187.23 L86.28,186.8 L86.42,186.47Z"/><path d="M85.81,186.83 L85.78,187.28 L85.72,187.86 L85.64,188.54 L85.54,189.32 L85.44,190.18 L85.34,191.09 L85.26,192.04 L85.19,193.02 L85.15,194 L85.15,194.99 L85.19,196.02 L85.26,197.17 L85.36,198.39 L85.48,199.65 L85.61,200.9 L85.75,202.12 L85.89,203.24 L86.01,204.25 L86.12,205.09 L86.2,205.74 L87.2,205.66 L87.18,205.01 L87.15,204.15 L87.09,203.14 L87.03,202.01 L86.96,200.8 L86.9,199.55 L86.85,198.3 L86.82,197.1 L86.82,195.99 L86.85,195.01 L86.92,194.1 L87.02,193.18 L87.16,192.26 L87.31,191.36 L87.47,190.49 L87.64,189.67 L87.8,188.91 L87.95,188.23 L88.08,187.64 L88.19,187.17Z"/><path d="M88.8,185.07 L88.86,185.54 L88.93,186.12 L89.01,186.81 L89.09,187.59 L89.17,188.44 L89.26,189.34 L89.35,190.27 L89.45,191.21 L89.55,192.15 L89.65,193.07 L89.77,194.03 L89.89,195.08 L90.03,196.21 L90.17,197.36 L90.31,198.51 L90.45,199.62 L90.58,200.65 L90.7,201.58 L90.81,202.35 L90.9,202.95 L91.9,202.85 L91.88,202.25 L91.84,201.47 L91.79,200.54 L91.72,199.5 L91.65,198.39 L91.58,197.23 L91.51,196.08 L91.45,194.95 L91.39,193.89 L91.35,192.93 L91.31,192.02 L91.28,191.09 L91.26,190.15 L91.24,189.22 L91.22,188.32 L91.2,187.47 L91.19,186.69 L91.19,185.99 L91.19,185.4 L91.2,184.93Z"/><path d="M85.23,45.2 L84.56,44.27 L83.79,42.87 L82.98,41.23 L82.18,39.6 L81.41,38.2 L80.74,37.27 L77.6,37.88 L77.32,38.99 L77.14,40.58 L77,42.39 L76.86,44.21 L76.67,45.79 L76.39,46.9Z"/><path d="M75.53,46.09 L74.36,46.13 L72.74,45.99 L70.89,45.75 L69.04,45.51 L67.42,45.36 L66.25,45.4 L65.03,48.36 L65.83,49.21 L67.08,50.25 L68.56,51.38 L70.04,52.52 L71.29,53.56 L72.09,54.41Z"/><path d="M89.87,49.63 L90.13,48.56 L90.69,47.14 L91.39,45.54 L92.09,43.94 L92.65,42.52 L92.92,41.44 L90.46,39.4 L89.45,39.85 L88.15,40.65 L86.71,41.63 L85.26,42.61 L83.96,43.42 L82.95,43.87Z"/><path d="M91.63,56.49 L92.57,55.94 L93.96,55.35 L95.57,54.76 L97.19,54.16 L98.58,53.57 L99.52,53.02 L99.29,49.83 L98.28,49.42 L96.82,49.04 L95.14,48.67 L93.46,48.31 L92,47.92 L90.99,47.51Z"/><path d="M73.27,58.85 L72.72,59.85 L71.79,61.12 L70.66,62.53 L69.53,63.95 L68.59,65.22 L68.04,66.22 L69.91,68.81 L71.03,68.6 L72.53,68.11 L74.23,67.48 L75.93,66.85 L77.43,66.36 L78.55,66.15Z"/><path d="M85,64.97 L86.01,65.44 L87.29,66.28 L88.73,67.29 L90.16,68.3 L91.45,69.13 L92.45,69.6 L94.95,67.6 L94.7,66.52 L94.16,65.08 L93.48,63.46 L92.8,61.85 L92.26,60.41 L92.02,59.33Z"/><path d="M82.7,41C86.28,40.67 90.08,42.83 92.5,45C94.92,47.17 96.7,50.92 97.2,54C97.7,57.08 97.03,60.92 95.5,63.5C93.97,66.08 90.5,68.17 88,69.5C85.5,70.83 83.17,71.92 80.5,71.5C77.83,71.08 74.03,69.42 72,67C69.97,64.58 68.47,60.33 68.3,57C68.13,53.67 68.6,49.67 71,47C73.4,44.33 79.12,41.33 82.7,41Z"/><path d="M77,67 L85,67 L83,84 L78.5,84Z"/><path d="M86,177C87.67,176.58 91.08,177.17 92,178.5C92.92,179.83 92.33,183.25 91.5,185C90.67,186.75 88.58,188.83 87,189C85.42,189.17 82.83,187.33 82,186C81.17,184.67 81.33,182.5 82,181C82.67,179.5 84.33,177.42 86,177Z"/></g><g fill="#B8D4EC"><path d="M81.67,41.7 L81.56,41.22 L81.42,40.58 L81.27,39.81 L81.09,38.94 L80.9,38.01 L80.71,37.06 L80.5,36.11 L80.3,35.2 L80.09,34.37 L79.89,33.65 L79.7,33.05 L79.54,32.51 L79.37,32 L79.2,31.51 L79.02,31.04 L78.81,30.57 L78.57,30.11 L78.29,29.66 L77.97,29.21 L77.58,28.75 L77.11,28.29 L76.58,27.88 L76.03,27.51 L75.47,27.18 L74.91,26.87 L74.37,26.58 L73.86,26.28 L73.39,25.99 L73,25.71 L72.67,25.41 L72.36,25.07 L72.06,24.67 L71.77,24.24 L71.5,23.8 L71.25,23.34 L71.02,22.89 L70.83,22.45 L70.65,22.05 L70.51,21.68 L70.41,21.38 L70.35,21.16 L70.33,20.97 L70.34,20.8 L70.37,20.63 L70.43,20.46 L70.51,20.3 L70.6,20.13 L70.68,19.97 L70.77,19.8 L70.81,19.66 L70.19,19.34 L70.12,19.41 L70.03,19.49 L69.9,19.62 L69.75,19.78 L69.59,19.97 L69.44,20.22 L69.3,20.5 L69.2,20.84 L69.16,21.22 L69.19,21.62 L69.27,22.03 L69.37,22.47 L69.51,22.94 L69.68,23.45 L69.88,23.97 L70.1,24.51 L70.36,25.04 L70.65,25.58 L70.97,26.09 L71.33,26.59 L71.77,27.07 L72.26,27.5 L72.78,27.9 L73.31,28.27 L73.84,28.63 L74.35,28.97 L74.82,29.3 L75.23,29.63 L75.56,29.94 L75.82,30.25 L76.03,30.58 L76.21,30.9 L76.35,31.22 L76.47,31.55 L76.58,31.9 L76.68,32.29 L76.77,32.72 L76.87,33.21 L76.99,33.75 L77.11,34.35 L77.25,35.02 L77.39,35.8 L77.54,36.68 L77.68,37.61 L77.82,38.55 L77.95,39.48 L78.07,40.35 L78.18,41.13 L78.26,41.8 L78.33,42.3Z"/><path d="M77.57,30.37 L77.64,30.16 L77.72,29.91 L77.82,29.63 L77.93,29.31 L78.06,28.95 L78.2,28.57 L78.35,28.16 L78.52,27.73 L78.69,27.28 L78.88,26.81 L79.09,26.33 L79.34,25.79 L79.62,25.22 L79.91,24.61 L80.22,23.98 L80.52,23.33 L80.81,22.67 L81.09,22 L81.33,21.33 L81.53,20.66 L81.69,19.96 L81.82,19.22 L81.92,18.45 L82.01,17.68 L82.07,16.92 L82.12,16.2 L82.16,15.52 L82.2,14.93 L82.22,14.43 L82.25,14.04 L81.55,13.96 L81.49,14.35 L81.42,14.86 L81.35,15.45 L81.27,16.12 L81.18,16.83 L81.07,17.57 L80.95,18.31 L80.81,19.04 L80.65,19.72 L80.47,20.34 L80.25,20.94 L80,21.55 L79.7,22.16 L79.39,22.78 L79.06,23.39 L78.72,23.99 L78.39,24.58 L78.08,25.14 L77.78,25.68 L77.52,26.19 L77.29,26.65 L77.07,27.1 L76.86,27.52 L76.67,27.92 L76.49,28.3 L76.33,28.64 L76.18,28.94 L76.04,29.21 L75.93,29.44 L75.83,29.63Z"/><path d="M70.42,46.35 L69.99,46.27 L69.41,46.15 L68.73,46 L67.97,45.84 L67.16,45.66 L66.33,45.47 L65.51,45.29 L64.72,45.11 L63.99,44.95 L63.36,44.82 L62.81,44.7 L62.31,44.6 L61.84,44.5 L61.41,44.42 L61,44.34 L60.6,44.26 L60.2,44.18 L59.8,44.09 L59.38,44 L58.95,43.89 L58.52,43.78 L58.09,43.65 L57.65,43.51 L57.19,43.35 L56.72,43.19 L56.22,43.03 L55.69,42.87 L55.14,42.73 L54.56,42.61 L53.94,42.52 L53.29,42.46 L52.6,42.43 L51.89,42.43 L51.17,42.44 L50.45,42.46 L49.73,42.48 L49.03,42.5 L48.37,42.51 L47.74,42.51 L47.17,42.48 L46.62,42.44 L46.06,42.37 L45.5,42.29 L44.96,42.2 L44.44,42.11 L43.96,42.02 L43.51,41.93 L43.11,41.86 L42.76,41.8 L42.48,41.76 L42.32,42.44 L42.58,42.53 L42.91,42.64 L43.29,42.77 L43.73,42.91 L44.22,43.05 L44.74,43.2 L45.29,43.35 L45.86,43.49 L46.44,43.61 L47.03,43.72 L47.65,43.8 L48.32,43.86 L49.01,43.9 L49.72,43.94 L50.44,43.97 L51.15,44 L51.84,44.05 L52.5,44.1 L53.11,44.18 L53.66,44.28 L54.16,44.4 L54.63,44.55 L55.09,44.72 L55.53,44.9 L55.97,45.1 L56.41,45.3 L56.85,45.51 L57.3,45.72 L57.77,45.92 L58.25,46.11 L58.71,46.27 L59.13,46.42 L59.53,46.57 L59.93,46.7 L60.33,46.84 L60.74,46.97 L61.16,47.11 L61.61,47.26 L62.1,47.41 L62.64,47.58 L63.26,47.77 L63.97,47.99 L64.75,48.22 L65.57,48.45 L66.39,48.69 L67.18,48.92 L67.93,49.14 L68.6,49.34 L69.16,49.51 L69.58,49.65Z"/><path d="M58.1,44.63 L57.66,44.92 L57.08,45.28 L56.41,45.7 L55.65,46.18 L54.83,46.68 L53.98,47.2 L53.11,47.72 L52.25,48.22 L51.43,48.68 L50.65,49.1 L49.89,49.5 L49.13,49.91 L48.36,50.31 L47.6,50.7 L46.84,51.08 L46.09,51.43 L45.35,51.75 L44.62,52.03 L43.9,52.26 L43.2,52.44 L42.48,52.56 L41.72,52.62 L40.92,52.63 L40.11,52.6 L39.32,52.54 L38.56,52.47 L37.85,52.39 L37.21,52.32 L36.66,52.27 L36.23,52.25 L36.17,52.95 L36.58,53.01 L37.1,53.1 L37.73,53.21 L38.44,53.34 L39.22,53.46 L40.04,53.56 L40.88,53.63 L41.74,53.67 L42.58,53.65 L43.4,53.56 L44.19,53.4 L44.99,53.19 L45.79,52.93 L46.59,52.64 L47.4,52.31 L48.2,51.96 L48.99,51.6 L49.79,51.23 L50.57,50.86 L51.35,50.5 L52.17,50.11 L53.04,49.67 L53.94,49.2 L54.84,48.71 L55.73,48.22 L56.58,47.75 L57.36,47.31 L58.05,46.93 L58.64,46.61 L59.1,46.37Z"/><path d="M88.96,44.4 L89.25,44.18 L89.63,43.89 L90.1,43.55 L90.63,43.17 L91.2,42.76 L91.79,42.33 L92.38,41.89 L92.94,41.46 L93.47,41.04 L93.93,40.65 L94.31,40.3 L94.65,39.98 L94.97,39.67 L95.28,39.36 L95.57,39.05 L95.86,38.72 L96.14,38.37 L96.42,37.99 L96.71,37.58 L97,37.14 L97.31,36.69 L97.66,36.22 L98.04,35.7 L98.44,35.14 L98.84,34.53 L99.23,33.89 L99.59,33.2 L99.9,32.47 L100.15,31.69 L100.31,30.85 L100.36,29.97 L100.31,29.05 L100.17,28.13 L99.99,27.2 L99.78,26.27 L99.57,25.36 L99.38,24.47 L99.22,23.63 L99.12,22.85 L99.1,22.13 L99.14,21.44 L99.21,20.75 L99.31,20.09 L99.45,19.43 L99.61,18.8 L99.79,18.17 L100,17.56 L100.22,16.95 L100.46,16.35 L100.71,15.76 L101,15.17 L101.35,14.56 L101.74,13.94 L102.15,13.32 L102.58,12.72 L103.01,12.15 L103.4,11.62 L103.76,11.15 L104.06,10.74 L104.28,10.41 L103.72,9.99 L103.47,10.28 L103.15,10.65 L102.75,11.1 L102.32,11.6 L101.85,12.15 L101.38,12.74 L100.9,13.36 L100.45,13.99 L100.04,14.62 L99.69,15.24 L99.38,15.85 L99.08,16.46 L98.8,17.09 L98.54,17.73 L98.29,18.39 L98.07,19.07 L97.88,19.78 L97.72,20.51 L97.59,21.27 L97.5,22.07 L97.48,22.93 L97.54,23.85 L97.67,24.77 L97.82,25.71 L97.99,26.64 L98.15,27.54 L98.28,28.41 L98.35,29.21 L98.36,29.93 L98.29,30.55 L98.14,31.11 L97.92,31.67 L97.64,32.21 L97.32,32.74 L96.96,33.25 L96.57,33.76 L96.17,34.25 L95.76,34.73 L95.36,35.2 L95,35.66 L94.68,36.05 L94.4,36.37 L94.14,36.65 L93.89,36.9 L93.64,37.13 L93.38,37.35 L93.1,37.57 L92.79,37.81 L92.45,38.07 L92.07,38.35 L91.65,38.66 L91.15,39 L90.6,39.37 L90.01,39.75 L89.42,40.13 L88.84,40.5 L88.29,40.84 L87.79,41.14 L87.37,41.4 L87.04,41.6Z"/><path d="M99.68,31.57 L100.05,31.39 L100.53,31.16 L101.1,30.89 L101.75,30.58 L102.45,30.26 L103.17,29.92 L103.89,29.57 L104.59,29.23 L105.25,28.89 L105.84,28.57 L106.39,28.26 L106.94,27.94 L107.48,27.63 L108.02,27.31 L108.54,26.98 L109.03,26.66 L109.49,26.34 L109.91,26.02 L110.28,25.7 L110.6,25.38 L110.86,25.03 L111.04,24.66 L111.15,24.29 L111.19,23.95 L111.19,23.63 L111.17,23.34 L111.13,23.09 L111.09,22.89 L111.06,22.74 L111.05,22.63 L110.35,22.57 L110.32,22.74 L110.31,22.95 L110.31,23.16 L110.31,23.38 L110.29,23.61 L110.26,23.83 L110.2,24.04 L110.11,24.24 L109.99,24.43 L109.8,24.62 L109.54,24.84 L109.2,25.08 L108.8,25.33 L108.36,25.59 L107.88,25.87 L107.36,26.14 L106.82,26.42 L106.27,26.69 L105.71,26.97 L105.16,27.23 L104.57,27.51 L103.92,27.8 L103.22,28.1 L102.49,28.4 L101.76,28.7 L101.06,28.99 L100.4,29.25 L99.81,29.49 L99.3,29.68 L98.92,29.83Z"/><path d="M94.59,52.1 L94.9,52.14 L95.29,52.23 L95.8,52.35 L96.39,52.5 L97.04,52.65 L97.74,52.8 L98.47,52.93 L99.23,53.02 L100,53.06 L100.77,53.02 L101.51,52.91 L102.23,52.74 L102.92,52.52 L103.59,52.28 L104.25,52.02 L104.91,51.74 L105.58,51.48 L106.24,51.22 L106.92,50.98 L107.61,50.78 L108.37,50.6 L109.21,50.45 L110.11,50.31 L111.05,50.17 L112.01,50.03 L112.96,49.88 L113.89,49.7 L114.76,49.49 L115.57,49.23 L116.3,48.91 L116.93,48.49 L117.47,47.99 L117.93,47.45 L118.31,46.88 L118.63,46.32 L118.9,45.77 L119.12,45.26 L119.31,44.82 L119.46,44.46 L119.59,44.19 L119.01,43.81 L118.8,44.08 L118.57,44.44 L118.32,44.86 L118.05,45.32 L117.75,45.79 L117.41,46.27 L117.04,46.71 L116.63,47.11 L116.19,47.44 L115.7,47.69 L115.12,47.89 L114.42,48.05 L113.61,48.18 L112.74,48.29 L111.81,48.37 L110.86,48.44 L109.91,48.51 L108.96,48.59 L108.05,48.69 L107.19,48.82 L106.38,48.99 L105.6,49.19 L104.86,49.4 L104.16,49.62 L103.48,49.82 L102.84,50.01 L102.24,50.17 L101.66,50.28 L101.13,50.36 L100.63,50.38 L100.13,50.34 L99.58,50.26 L99,50.13 L98.41,49.97 L97.82,49.78 L97.26,49.59 L96.72,49.39 L96.22,49.2 L95.77,49.03 L95.41,48.9Z"/><path d="M100.33,52.57 L100.66,52.69 L101.07,52.86 L101.56,53.06 L102.12,53.29 L102.74,53.54 L103.39,53.79 L104.07,54.05 L104.78,54.3 L105.49,54.52 L106.19,54.72 L106.93,54.9 L107.74,55.08 L108.6,55.26 L109.48,55.43 L110.37,55.59 L111.23,55.74 L112.05,55.86 L112.79,55.96 L113.43,56.02 L113.97,56.05 L114.42,56.02 L114.8,55.93 L115.11,55.75 L115.32,55.48 L115.41,55.2 L115.42,54.96 L115.39,54.78 L115.36,54.66 L115.33,54.63 L115.32,54.64 L114.68,54.36 L114.61,54.51 L114.58,54.69 L114.57,54.83 L114.56,54.94 L114.54,54.99 L114.52,54.99 L114.52,54.96 L114.48,54.96 L114.33,54.97 L114.03,54.95 L113.56,54.89 L112.96,54.79 L112.25,54.66 L111.46,54.5 L110.62,54.32 L109.76,54.12 L108.9,53.91 L108.07,53.7 L107.3,53.49 L106.61,53.28 L105.97,53.06 L105.32,52.81 L104.67,52.54 L104.03,52.26 L103.41,51.98 L102.83,51.7 L102.3,51.44 L101.82,51.2 L101.4,50.99 L101.07,50.83Z"/><path d="M72.24,63.98 L71.83,64.22 L71.26,64.52 L70.58,64.89 L69.82,65.29 L69.01,65.72 L68.18,66.16 L67.37,66.6 L66.6,67.02 L65.91,67.4 L65.33,67.74 L64.85,68.03 L64.44,68.28 L64.08,68.52 L63.76,68.73 L63.47,68.94 L63.2,69.15 L62.94,69.35 L62.67,69.56 L62.38,69.79 L62.04,70.04 L61.67,70.34 L61.3,70.65 L60.94,70.97 L60.58,71.29 L60.22,71.61 L59.86,71.93 L59.51,72.23 L59.14,72.51 L58.77,72.77 L58.4,73 L58.03,73.2 L57.62,73.37 L57.19,73.52 L56.72,73.67 L56.22,73.82 L55.7,73.98 L55.16,74.16 L54.61,74.38 L54.05,74.64 L53.49,74.96 L52.91,75.36 L52.31,75.82 L51.68,76.34 L51.05,76.88 L50.42,77.44 L49.83,77.98 L49.28,78.49 L48.79,78.95 L48.39,79.34 L48.08,79.63 L48.52,80.17 L48.87,79.91 L49.32,79.56 L49.84,79.14 L50.43,78.67 L51.05,78.18 L51.7,77.67 L52.35,77.18 L52.98,76.73 L53.58,76.34 L54.11,76.04 L54.6,75.81 L55.09,75.63 L55.58,75.49 L56.08,75.38 L56.58,75.28 L57.09,75.19 L57.61,75.09 L58.13,74.96 L58.67,74.8 L59.2,74.6 L59.7,74.35 L60.18,74.09 L60.63,73.81 L61.07,73.52 L61.49,73.22 L61.89,72.94 L62.28,72.66 L62.65,72.4 L63.01,72.17 L63.36,71.96 L63.7,71.76 L64.01,71.58 L64.3,71.43 L64.57,71.28 L64.84,71.14 L65.12,71 L65.43,70.85 L65.78,70.68 L66.19,70.49 L66.67,70.26 L67.25,69.99 L67.95,69.66 L68.73,69.3 L69.55,68.92 L70.4,68.53 L71.23,68.15 L72.01,67.79 L72.72,67.48 L73.31,67.21 L73.76,67.02Z"/><path d="M57.77,73.99 L57.86,74.42 L57.99,74.95 L58.14,75.55 L58.31,76.23 L58.47,76.96 L58.63,77.73 L58.78,78.54 L58.9,79.36 L58.98,80.18 L59.03,81.01 L59.04,81.9 L59.04,82.89 L59.03,83.94 L58.99,85.02 L58.93,86.1 L58.85,87.17 L58.73,88.2 L58.57,89.15 L58.38,90.01 L58.15,90.73 L57.87,91.34 L57.53,91.87 L57.13,92.36 L56.67,92.8 L56.18,93.22 L55.67,93.6 L55.14,93.97 L54.62,94.34 L54.12,94.71 L53.67,95.09 L53.26,95.46 L52.85,95.82 L52.45,96.15 L52.06,96.48 L51.69,96.78 L51.34,97.06 L51.01,97.32 L50.73,97.55 L50.48,97.75 L50.29,97.92 L50.71,98.48 L50.92,98.34 L51.18,98.17 L51.49,97.97 L51.83,97.74 L52.21,97.48 L52.61,97.2 L53.03,96.9 L53.47,96.58 L53.91,96.25 L54.33,95.91 L54.77,95.58 L55.25,95.27 L55.78,94.94 L56.34,94.58 L56.92,94.2 L57.49,93.76 L58.06,93.26 L58.58,92.69 L59.05,92.02 L59.45,91.27 L59.76,90.41 L60.01,89.46 L60.21,88.43 L60.38,87.35 L60.5,86.23 L60.6,85.11 L60.67,84 L60.72,82.93 L60.75,81.92 L60.77,80.99 L60.77,80.08 L60.71,79.17 L60.62,78.28 L60.5,77.41 L60.36,76.59 L60.23,75.83 L60.09,75.13 L59.98,74.52 L59.89,74.02 L59.83,73.61Z"/><path d="M59.05,80.29 L59.23,80.68 L59.46,81.17 L59.74,81.74 L60.04,82.38 L60.34,83.06 L60.65,83.77 L60.93,84.5 L61.19,85.22 L61.39,85.92 L61.53,86.57 L61.61,87.25 L61.64,88 L61.63,88.81 L61.59,89.63 L61.53,90.46 L61.46,91.25 L61.39,91.99 L61.32,92.66 L61.27,93.23 L61.25,93.67 L61.95,93.73 L62.01,93.31 L62.1,92.76 L62.22,92.1 L62.34,91.36 L62.45,90.56 L62.56,89.72 L62.65,88.86 L62.7,88.02 L62.71,87.2 L62.67,86.43 L62.56,85.66 L62.38,84.88 L62.15,84.09 L61.89,83.3 L61.62,82.54 L61.34,81.82 L61.08,81.16 L60.85,80.57 L60.67,80.09 L60.55,79.71Z"/><path d="M89.65,66.04 L89.86,66.26 L90.12,66.55 L90.41,66.87 L90.74,67.23 L91.08,67.62 L91.43,68.04 L91.79,68.47 L92.14,68.91 L92.48,69.34 L92.79,69.77 L93.11,70.22 L93.44,70.74 L93.78,71.29 L94.13,71.87 L94.48,72.46 L94.82,73.04 L95.15,73.6 L95.45,74.12 L95.74,74.59 L95.98,74.95 L96.11,75.15 L96.16,75.21 L96.18,75.22 L96.2,75.28 L96.23,75.49 L96.35,75.93 L96.67,76.34 L97.02,76.56 L97.37,76.7 L97.82,76.85 L98.43,76.99 L99.13,77.08 L99.89,77.15 L100.71,77.21 L101.56,77.29 L102.43,77.38 L103.29,77.51 L104.12,77.69 L104.89,77.93 L105.59,78.24 L106.29,78.67 L107.03,79.24 L107.8,79.91 L108.57,80.66 L109.33,81.43 L110.05,82.2 L110.72,82.93 L111.32,83.59 L111.83,84.14 L112.24,84.54 L112.76,84.06 L112.39,83.63 L111.93,83.06 L111.37,82.37 L110.74,81.6 L110.05,80.78 L109.31,79.95 L108.55,79.14 L107.77,78.38 L106.99,77.71 L106.21,77.16 L105.38,76.73 L104.5,76.4 L103.59,76.14 L102.66,75.94 L101.75,75.79 L100.88,75.66 L100.08,75.54 L99.37,75.43 L98.8,75.3 L98.38,75.15 L98.09,75.01 L97.95,74.91 L98,74.92 L98.18,75.14 L98.27,75.37 L98.31,75.34 L98.34,75.09 L98.31,74.71 L98.2,74.28 L98.02,73.85 L97.81,73.43 L97.59,72.96 L97.33,72.43 L97.06,71.85 L96.76,71.24 L96.45,70.61 L96.14,69.98 L95.82,69.37 L95.51,68.78 L95.21,68.23 L94.89,67.71 L94.56,67.18 L94.22,66.67 L93.88,66.17 L93.55,65.7 L93.23,65.26 L92.95,64.85 L92.7,64.5 L92.5,64.2 L92.35,63.96Z"/><path d="M97.16,76.11 L97.22,76.52 L97.29,77.07 L97.35,77.74 L97.43,78.51 L97.52,79.33 L97.64,80.2 L97.79,81.07 L97.97,81.92 L98.21,82.74 L98.51,83.49 L98.85,84.17 L99.24,84.83 L99.66,85.47 L100.11,86.09 L100.6,86.69 L101.12,87.26 L101.65,87.81 L102.21,88.32 L102.78,88.8 L103.38,89.25 L104.03,89.65 L104.76,90.03 L105.54,90.36 L106.34,90.66 L107.13,90.92 L107.9,91.16 L108.61,91.37 L109.25,91.55 L109.78,91.7 L110.18,91.83 L110.42,91.17 L110.02,91 L109.49,90.81 L108.86,90.59 L108.17,90.35 L107.43,90.08 L106.67,89.78 L105.93,89.46 L105.22,89.11 L104.58,88.74 L104.02,88.35 L103.51,87.93 L103.01,87.46 L102.52,86.96 L102.06,86.43 L101.61,85.87 L101.2,85.3 L100.81,84.71 L100.46,84.11 L100.15,83.51 L99.89,82.91 L99.68,82.28 L99.51,81.57 L99.38,80.79 L99.29,79.98 L99.21,79.17 L99.16,78.37 L99.13,77.62 L99.1,76.94 L99.08,76.35 L99.04,75.89Z"/><path d="M87.75,179.22 L87.27,179.32 L86.64,179.44 L85.92,179.58 L85.12,179.74 L84.26,179.9 L83.37,180.05 L82.46,180.2 L81.58,180.33 L80.73,180.43 L79.96,180.5 L79.23,180.53 L78.49,180.53 L77.73,180.49 L76.95,180.44 L76.15,180.38 L75.34,180.32 L74.51,180.26 L73.66,180.24 L72.8,180.25 L71.94,180.3 L71.1,180.39 L70.26,180.5 L69.42,180.63 L68.58,180.78 L67.74,180.95 L66.91,181.15 L66.09,181.36 L65.28,181.6 L64.48,181.86 L63.7,182.15 L62.9,182.5 L62.08,182.9 L61.26,183.35 L60.45,183.82 L59.67,184.3 L58.94,184.76 L58.27,185.2 L57.68,185.6 L57.19,185.93 L56.8,186.18 L57.4,187.22 L57.82,187.01 L58.36,186.73 L58.99,186.38 L59.68,186 L60.43,185.59 L61.21,185.18 L62.01,184.78 L62.8,184.42 L63.57,184.1 L64.3,183.85 L65.03,183.64 L65.78,183.45 L66.55,183.29 L67.33,183.14 L68.12,183.02 L68.91,182.92 L69.71,182.83 L70.5,182.77 L71.29,182.72 L72.06,182.7 L72.8,182.71 L73.54,182.75 L74.29,182.84 L75.06,182.94 L75.85,183.06 L76.65,183.18 L77.47,183.3 L78.31,183.4 L79.17,183.47 L80.04,183.5 L80.94,183.48 L81.88,183.43 L82.84,183.36 L83.8,183.27 L84.74,183.16 L85.63,183.06 L86.45,182.96 L87.18,182.88 L87.78,182.82 L88.25,182.78Z"/><path d="M69.78,181.05 L69.64,180.85 L69.46,180.58 L69.25,180.26 L69.02,179.91 L68.77,179.52 L68.52,179.13 L68.27,178.73 L68.03,178.35 L67.81,177.99 L67.62,177.68 L67.44,177.37 L67.27,177.06 L67.1,176.75 L66.93,176.44 L66.77,176.14 L66.62,175.85 L66.48,175.59 L66.36,175.35 L66.25,175.15 L66.16,174.99 L65.24,175.41 L65.3,175.58 L65.37,175.79 L65.46,176.04 L65.56,176.32 L65.68,176.63 L65.8,176.95 L65.94,177.29 L66.08,177.64 L66.23,177.98 L66.38,178.32 L66.55,178.68 L66.74,179.07 L66.95,179.48 L67.17,179.91 L67.39,180.33 L67.6,180.73 L67.8,181.11 L67.97,181.45 L68.12,181.73 L68.22,181.95Z"/><path d="M86.48,182.38 L85.96,182.58 L85.29,182.81 L84.5,183.09 L83.59,183.4 L82.61,183.74 L81.58,184.1 L80.53,184.47 L79.48,184.87 L78.45,185.27 L77.47,185.68 L76.52,186.1 L75.56,186.54 L74.57,187 L73.59,187.48 L72.6,187.97 L71.63,188.46 L70.68,188.95 L69.76,189.44 L68.89,189.92 L68.06,190.39 L67.27,190.84 L66.52,191.3 L65.81,191.76 L65.13,192.21 L64.47,192.65 L63.84,193.09 L63.24,193.53 L62.65,193.95 L62.08,194.36 L61.51,194.77 L60.94,195.19 L60.36,195.62 L59.79,196.06 L59.24,196.49 L58.7,196.91 L58.21,197.31 L57.75,197.68 L57.35,198.01 L57.01,198.29 L56.75,198.51 L57.45,199.49 L57.75,199.3 L58.13,199.06 L58.56,198.78 L59.05,198.45 L59.57,198.1 L60.13,197.73 L60.71,197.35 L61.3,196.97 L61.9,196.59 L62.49,196.23 L63.08,195.87 L63.68,195.5 L64.3,195.12 L64.92,194.74 L65.56,194.36 L66.23,193.97 L66.91,193.59 L67.62,193.2 L68.36,192.81 L69.14,192.41 L69.97,192.01 L70.85,191.59 L71.77,191.16 L72.72,190.73 L73.7,190.3 L74.68,189.87 L75.67,189.45 L76.65,189.05 L77.6,188.67 L78.53,188.32 L79.47,187.99 L80.46,187.66 L81.5,187.33 L82.54,187.01 L83.56,186.71 L84.54,186.43 L85.45,186.18 L86.27,185.96 L86.97,185.77 L87.52,185.62Z"/><path d="M67.3,191.43 L67.08,191.73 L66.79,192.11 L66.43,192.56 L66.03,193.07 L65.6,193.62 L65.14,194.2 L64.69,194.8 L64.24,195.41 L63.81,196.02 L63.42,196.61 L63.05,197.22 L62.66,197.88 L62.28,198.57 L61.89,199.27 L61.53,199.97 L61.18,200.64 L60.86,201.27 L60.58,201.82 L60.34,202.29 L60.16,202.66 L61.04,203.14 L61.25,202.8 L61.53,202.34 L61.84,201.8 L62.19,201.2 L62.57,200.55 L62.97,199.88 L63.38,199.21 L63.79,198.56 L64.19,197.94 L64.58,197.39 L64.98,196.86 L65.41,196.31 L65.88,195.75 L66.35,195.19 L66.83,194.64 L67.29,194.12 L67.72,193.65 L68.1,193.22 L68.44,192.86 L68.7,192.57Z"/><path d="M83.58,185.53 L83.49,185.89 L83.38,186.34 L83.24,186.86 L83.09,187.45 L82.91,188.08 L82.72,188.76 L82.52,189.46 L82.32,190.17 L82.1,190.89 L81.89,191.59 L81.66,192.28 L81.4,192.97 L81.12,193.7 L80.81,194.46 L80.5,195.26 L80.18,196.09 L79.88,196.96 L79.6,197.87 L79.35,198.82 L79.15,199.83 L78.99,200.93 L78.86,202.15 L78.75,203.46 L78.67,204.8 L78.61,206.15 L78.56,207.46 L78.52,208.67 L78.49,209.76 L78.47,210.67 L78.45,211.36 L79.55,211.44 L79.63,210.74 L79.72,209.83 L79.81,208.75 L79.91,207.54 L80.02,206.25 L80.15,204.92 L80.29,203.6 L80.45,202.34 L80.64,201.18 L80.85,200.17 L81.09,199.28 L81.37,198.43 L81.69,197.62 L82.03,196.83 L82.38,196.07 L82.74,195.32 L83.1,194.59 L83.46,193.86 L83.8,193.13 L84.11,192.41 L84.4,191.69 L84.68,190.98 L84.95,190.27 L85.21,189.58 L85.46,188.92 L85.7,188.3 L85.92,187.73 L86.11,187.23 L86.28,186.8 L86.42,186.47Z"/><path d="M85.81,186.83 L85.78,187.28 L85.72,187.86 L85.64,188.54 L85.54,189.32 L85.44,190.18 L85.34,191.09 L85.26,192.04 L85.19,193.02 L85.15,194 L85.15,194.99 L85.19,196.02 L85.26,197.17 L85.36,198.39 L85.48,199.65 L85.61,200.9 L85.75,202.12 L85.89,203.24 L86.01,204.25 L86.12,205.09 L86.2,205.74 L87.2,205.66 L87.18,205.01 L87.15,204.15 L87.09,203.14 L87.03,202.01 L86.96,200.8 L86.9,199.55 L86.85,198.3 L86.82,197.1 L86.82,195.99 L86.85,195.01 L86.92,194.1 L87.02,193.18 L87.16,192.26 L87.31,191.36 L87.47,190.49 L87.64,189.67 L87.8,188.91 L87.95,188.23 L88.08,187.64 L88.19,187.17Z"/><path d="M88.8,185.07 L88.86,185.54 L88.93,186.12 L89.01,186.81 L89.09,187.59 L89.17,188.44 L89.26,189.34 L89.35,190.27 L89.45,191.21 L89.55,192.15 L89.65,193.07 L89.77,194.03 L89.89,195.08 L90.03,196.21 L90.17,197.36 L90.31,198.51 L90.45,199.62 L90.58,200.65 L90.7,201.58 L90.81,202.35 L90.9,202.95 L91.9,202.85 L91.88,202.25 L91.84,201.47 L91.79,200.54 L91.72,199.5 L91.65,198.39 L91.58,197.23 L91.51,196.08 L91.45,194.95 L91.39,193.89 L91.35,192.93 L91.31,192.02 L91.28,191.09 L91.26,190.15 L91.24,189.22 L91.22,188.32 L91.2,187.47 L91.19,186.69 L91.19,185.99 L91.19,185.4 L91.2,184.93Z"/><path d="M85.23,45.2 L84.56,44.27 L83.79,42.87 L82.98,41.23 L82.18,39.6 L81.41,38.2 L80.74,37.27 L77.6,37.88 L77.32,38.99 L77.14,40.58 L77,42.39 L76.86,44.21 L76.67,45.79 L76.39,46.9Z"/><path d="M75.53,46.09 L74.36,46.13 L72.74,45.99 L70.89,45.75 L69.04,45.51 L67.42,45.36 L66.25,45.4 L65.03,48.36 L65.83,49.21 L67.08,50.25 L68.56,51.38 L70.04,52.52 L71.29,53.56 L72.09,54.41Z"/><path d="M89.87,49.63 L90.13,48.56 L90.69,47.14 L91.39,45.54 L92.09,43.94 L92.65,42.52 L92.92,41.44 L90.46,39.4 L89.45,39.85 L88.15,40.65 L86.71,41.63 L85.26,42.61 L83.96,43.42 L82.95,43.87Z"/><path d="M91.63,56.49 L92.57,55.94 L93.96,55.35 L95.57,54.76 L97.19,54.16 L98.58,53.57 L99.52,53.02 L99.29,49.83 L98.28,49.42 L96.82,49.04 L95.14,48.67 L93.46,48.31 L92,47.92 L90.99,47.51Z"/><path d="M73.27,58.85 L72.72,59.85 L71.79,61.12 L70.66,62.53 L69.53,63.95 L68.59,65.22 L68.04,66.22 L69.91,68.81 L71.03,68.6 L72.53,68.11 L74.23,67.48 L75.93,66.85 L77.43,66.36 L78.55,66.15Z"/><path d="M85,64.97 L86.01,65.44 L87.29,66.28 L88.73,67.29 L90.16,68.3 L91.45,69.13 L92.45,69.6 L94.95,67.6 L94.7,66.52 L94.16,65.08 L93.48,63.46 L92.8,61.85 L92.26,60.41 L92.02,59.33Z"/><path d="M82.7,41C86.28,40.67 90.08,42.83 92.5,45C94.92,47.17 96.7,50.92 97.2,54C97.7,57.08 97.03,60.92 95.5,63.5C93.97,66.08 90.5,68.17 88,69.5C85.5,70.83 83.17,71.92 80.5,71.5C77.83,71.08 74.03,69.42 72,67C69.97,64.58 68.47,60.33 68.3,57C68.13,53.67 68.6,49.67 71,47C73.4,44.33 79.12,41.33 82.7,41Z"/><path d="M77,67 L85,67 L83,84 L78.5,84Z"/><path d="M86,177C87.67,176.58 91.08,177.17 92,178.5C92.92,179.83 92.33,183.25 91.5,185C90.67,186.75 88.58,188.83 87,189C85.42,189.17 82.83,187.33 82,186C81.17,184.67 81.33,182.5 82,181C82.67,179.5 84.33,177.42 86,177Z"/></g><circle cx="82.5" cy="55.3" r="8" fill="#5B87C3" stroke="#4E78B2" stroke-width="0.8"/><path d="M77,52 Q78,49 81,48.5" stroke="#9DBBE0" stroke-width="1" fill="none"/><g transform="translate(80.5 89.55) rotate(86.4)"><rect x="-6.06" y="-3.4" width="12.13" height="6.8" rx="2.6" fill="#DAE7F3" stroke="#8AADCF" stroke-width="0.9"/><line x1="-3.56" y1="-1.1" x2="3.56" y2="-1.1" stroke="#B5CDE3" stroke-width="0.6"/><line x1="-3.56" y1="1.1" x2="3.56" y2="1.1" stroke="#B5CDE3" stroke-width="0.6"/></g><g transform="translate(82.85 101.85) rotate(71.85)"><rect x="-5.96" y="-3.4" width="11.92" height="6.8" rx="2.6" fill="#DAE7F3" stroke="#8AADCF" stroke-width="0.9"/><line x1="-3.46" y1="-1.1" x2="3.46" y2="-1.1" stroke="#B5CDE3" stroke-width="0.6"/><line x1="-3.46" y1="1.1" x2="3.46" y2="1.1" stroke="#B5CDE3" stroke-width="0.6"/></g><g transform="translate(88.4 113.35) rotate(57.03)"><rect x="-6.32" y="-3.4" width="12.63" height="6.8" rx="2.6" fill="#DAE7F3" stroke="#8AADCF" stroke-width="0.9"/><line x1="-3.82" y1="-1.1" x2="3.82" y2="-1.1" stroke="#B5CDE3" stroke-width="0.6"/><line x1="-3.82" y1="1.1" x2="3.82" y2="1.1" stroke="#B5CDE3" stroke-width="0.6"/></g><g transform="translate(94.35 124.85) rotate(68.45)"><rect x="-6.1" y="-3.4" width="12.19" height="6.8" rx="2.6" fill="#DAE7F3" stroke="#8AADCF" stroke-width="0.9"/><line x1="-3.6" y1="-1.1" x2="3.6" y2="-1.1" stroke="#B5CDE3" stroke-width="0.6"/><line x1="-3.6" y1="1.1" x2="3.6" y2="1.1" stroke="#B5CDE3" stroke-width="0.6"/></g><g transform="translate(98.7 137.15) rotate(72.52)"><rect x="-6.36" y="-3.4" width="12.72" height="6.8" rx="2.6" fill="#DAE7F3" stroke="#8AADCF" stroke-width="0.9"/><line x1="-3.86" y1="-1.1" x2="3.86" y2="-1.1" stroke="#B5CDE3" stroke-width="0.6"/><line x1="-3.86" y1="1.1" x2="3.86" y2="1.1" stroke="#B5CDE3" stroke-width="0.6"/></g><g transform="translate(100.7 149.85) rotate(90)"><rect x="-6.05" y="-3.4" width="12.1" height="6.8" rx="2.6" fill="#DAE7F3" stroke="#8AADCF" stroke-width="0.9"/><line x1="-3.55" y1="-1.1" x2="3.55" y2="-1.1" stroke="#B5CDE3" stroke-width="0.6"/><line x1="-3.55" y1="1.1" x2="3.55" y2="1.1" stroke="#B5CDE3" stroke-width="0.6"/></g><g transform="translate(99.1 162.15) rotate(105.05)"><rect x="-5.86" y="-3.4" width="11.72" height="6.8" rx="2.6" fill="#DAE7F3" stroke="#8AADCF" stroke-width="0.9"/><line x1="-3.36" y1="-1.1" x2="3.36" y2="-1.1" stroke="#B5CDE3" stroke-width="0.6"/><line x1="-3.36" y1="1.1" x2="3.36" y2="1.1" stroke="#B5CDE3" stroke-width="0.6"/></g><g transform="translate(94.35 173.25) rotate(121.45)"><rect x="-5.74" y="-3.4" width="11.47" height="6.8" rx="2.6" fill="#DAE7F3" stroke="#8AADCF" stroke-width="0.9"/><line x1="-3.24" y1="-1.1" x2="3.24" y2="-1.1" stroke="#B5CDE3" stroke-width="0.6"/><line x1="-3.24" y1="1.1" x2="3.24" y2="1.1" stroke="#B5CDE3" stroke-width="0.6"/></g><circle cx="57.1" cy="186.7" r="1.9" fill="#B8D4EC" stroke="#6592C4" stroke-width="0.9"/><circle cx="65.7" cy="175.2" r="1.9" fill="#B8D4EC" stroke="#6592C4" stroke-width="0.9"/><circle cx="57.1" cy="199" r="1.9" fill="#B8D4EC" stroke="#6592C4" stroke-width="0.9"/><circle cx="60.6" cy="202.9" r="1.9" fill="#B8D4EC" stroke="#6592C4" stroke-width="0.9"/><circle cx="79" cy="211.4" r="1.9" fill="#B8D4EC" stroke="#6592C4" stroke-width="0.9"/><circle cx="86.7" cy="205.7" r="1.9" fill="#B8D4EC" stroke="#6592C4" stroke-width="0.9"/><circle cx="91.4" cy="202.9" r="1.9" fill="#B8D4EC" stroke="#6592C4" stroke-width="0.9"/></g>
<g transform="translate(-2 367)"><g fill="#6592C4" stroke="#6592C4" stroke-width="1.1" stroke-linejoin="round"><path d="M81.67,41.7 L81.56,41.22 L81.42,40.58 L81.27,39.81 L81.09,38.94 L80.9,38.01 L80.71,37.06 L80.5,36.11 L80.3,35.2 L80.09,34.37 L79.89,33.65 L79.7,33.05 L79.54,32.51 L79.37,32 L79.2,31.51 L79.02,31.04 L78.81,30.57 L78.57,30.11 L78.29,29.66 L77.97,29.21 L77.58,28.75 L77.11,28.29 L76.58,27.88 L76.03,27.51 L75.47,27.18 L74.91,26.87 L74.37,26.58 L73.86,26.28 L73.39,25.99 L73,25.71 L72.67,25.41 L72.36,25.07 L72.06,24.67 L71.77,24.24 L71.5,23.8 L71.25,23.34 L71.02,22.89 L70.83,22.45 L70.65,22.05 L70.51,21.68 L70.41,21.38 L70.35,21.16 L70.33,20.97 L70.34,20.8 L70.37,20.63 L70.43,20.46 L70.51,20.3 L70.6,20.13 L70.68,19.97 L70.77,19.8 L70.81,19.66 L70.19,19.34 L70.12,19.41 L70.03,19.49 L69.9,19.62 L69.75,19.78 L69.59,19.97 L69.44,20.22 L69.3,20.5 L69.2,20.84 L69.16,21.22 L69.19,21.62 L69.27,22.03 L69.37,22.47 L69.51,22.94 L69.68,23.45 L69.88,23.97 L70.1,24.51 L70.36,25.04 L70.65,25.58 L70.97,26.09 L71.33,26.59 L71.77,27.07 L72.26,27.5 L72.78,27.9 L73.31,28.27 L73.84,28.63 L74.35,28.97 L74.82,29.3 L75.23,29.63 L75.56,29.94 L75.82,30.25 L76.03,30.58 L76.21,30.9 L76.35,31.22 L76.47,31.55 L76.58,31.9 L76.68,32.29 L76.77,32.72 L76.87,33.21 L76.99,33.75 L77.11,34.35 L77.25,35.02 L77.39,35.8 L77.54,36.68 L77.68,37.61 L77.82,38.55 L77.95,39.48 L78.07,40.35 L78.18,41.13 L78.26,41.8 L78.33,42.3Z"/><path d="M77.57,30.37 L77.64,30.16 L77.72,29.91 L77.82,29.63 L77.93,29.31 L78.06,28.95 L78.2,28.57 L78.35,28.16 L78.52,27.73 L78.69,27.28 L78.88,26.81 L79.09,26.33 L79.34,25.79 L79.62,25.22 L79.91,24.61 L80.22,23.98 L80.52,23.33 L80.81,22.67 L81.09,22 L81.33,21.33 L81.53,20.66 L81.69,19.96 L81.82,19.22 L81.92,18.45 L82.01,17.68 L82.07,16.92 L82.12,16.2 L82.16,15.52 L82.2,14.93 L82.22,14.43 L82.25,14.04 L81.55,13.96 L81.49,14.35 L81.42,14.86 L81.35,15.45 L81.27,16.12 L81.18,16.83 L81.07,17.57 L80.95,18.31 L80.81,19.04 L80.65,19.72 L80.47,20.34 L80.25,20.94 L80,21.55 L79.7,22.16 L79.39,22.78 L79.06,23.39 L78.72,23.99 L78.39,24.58 L78.08,25.14 L77.78,25.68 L77.52,26.19 L77.29,26.65 L77.07,27.1 L76.86,27.52 L76.67,27.92 L76.49,28.3 L76.33,28.64 L76.18,28.94 L76.04,29.21 L75.93,29.44 L75.83,29.63Z"/><path d="M70.42,46.35 L69.99,46.27 L69.41,46.15 L68.73,46 L67.97,45.84 L67.16,45.66 L66.33,45.47 L65.51,45.29 L64.72,45.11 L63.99,44.95 L63.36,44.82 L62.81,44.7 L62.31,44.6 L61.84,44.5 L61.41,44.42 L61,44.34 L60.6,44.26 L60.2,44.18 L59.8,44.09 L59.38,44 L58.95,43.89 L58.52,43.78 L58.09,43.65 L57.65,43.51 L57.19,43.35 L56.72,43.19 L56.22,43.03 L55.69,42.87 L55.14,42.73 L54.56,42.61 L53.94,42.52 L53.29,42.46 L52.6,42.43 L51.89,42.43 L51.17,42.44 L50.45,42.46 L49.73,42.48 L49.03,42.5 L48.37,42.51 L47.74,42.51 L47.17,42.48 L46.62,42.44 L46.06,42.37 L45.5,42.29 L44.96,42.2 L44.44,42.11 L43.96,42.02 L43.51,41.93 L43.11,41.86 L42.76,41.8 L42.48,41.76 L42.32,42.44 L42.58,42.53 L42.91,42.64 L43.29,42.77 L43.73,42.91 L44.22,43.05 L44.74,43.2 L45.29,43.35 L45.86,43.49 L46.44,43.61 L47.03,43.72 L47.65,43.8 L48.32,43.86 L49.01,43.9 L49.72,43.94 L50.44,43.97 L51.15,44 L51.84,44.05 L52.5,44.1 L53.11,44.18 L53.66,44.28 L54.16,44.4 L54.63,44.55 L55.09,44.72 L55.53,44.9 L55.97,45.1 L56.41,45.3 L56.85,45.51 L57.3,45.72 L57.77,45.92 L58.25,46.11 L58.71,46.27 L59.13,46.42 L59.53,46.57 L59.93,46.7 L60.33,46.84 L60.74,46.97 L61.16,47.11 L61.61,47.26 L62.1,47.41 L62.64,47.58 L63.26,47.77 L63.97,47.99 L64.75,48.22 L65.57,48.45 L66.39,48.69 L67.18,48.92 L67.93,49.14 L68.6,49.34 L69.16,49.51 L69.58,49.65Z"/><path d="M58.1,44.63 L57.66,44.92 L57.08,45.28 L56.41,45.7 L55.65,46.18 L54.83,46.68 L53.98,47.2 L53.11,47.72 L52.25,48.22 L51.43,48.68 L50.65,49.1 L49.89,49.5 L49.13,49.91 L48.36,50.31 L47.6,50.7 L46.84,51.08 L46.09,51.43 L45.35,51.75 L44.62,52.03 L43.9,52.26 L43.2,52.44 L42.48,52.56 L41.72,52.62 L40.92,52.63 L40.11,52.6 L39.32,52.54 L38.56,52.47 L37.85,52.39 L37.21,52.32 L36.66,52.27 L36.23,52.25 L36.17,52.95 L36.58,53.01 L37.1,53.1 L37.73,53.21 L38.44,53.34 L39.22,53.46 L40.04,53.56 L40.88,53.63 L41.74,53.67 L42.58,53.65 L43.4,53.56 L44.19,53.4 L44.99,53.19 L45.79,52.93 L46.59,52.64 L47.4,52.31 L48.2,51.96 L48.99,51.6 L49.79,51.23 L50.57,50.86 L51.35,50.5 L52.17,50.11 L53.04,49.67 L53.94,49.2 L54.84,48.71 L55.73,48.22 L56.58,47.75 L57.36,47.31 L58.05,46.93 L58.64,46.61 L59.1,46.37Z"/><path d="M88.96,44.4 L89.25,44.18 L89.63,43.89 L90.1,43.55 L90.63,43.17 L91.2,42.76 L91.79,42.33 L92.38,41.89 L92.94,41.46 L93.47,41.04 L93.93,40.65 L94.31,40.3 L94.65,39.98 L94.97,39.67 L95.28,39.36 L95.57,39.05 L95.86,38.72 L96.14,38.37 L96.42,37.99 L96.71,37.58 L97,37.14 L97.31,36.69 L97.66,36.22 L98.04,35.7 L98.44,35.14 L98.84,34.53 L99.23,33.89 L99.59,33.2 L99.9,32.47 L100.15,31.69 L100.31,30.85 L100.36,29.97 L100.31,29.05 L100.17,28.13 L99.99,27.2 L99.78,26.27 L99.57,25.36 L99.38,24.47 L99.22,23.63 L99.12,22.85 L99.1,22.13 L99.14,21.44 L99.21,20.75 L99.31,20.09 L99.45,19.43 L99.61,18.8 L99.79,18.17 L100,17.56 L100.22,16.95 L100.46,16.35 L100.71,15.76 L101,15.17 L101.35,14.56 L101.74,13.94 L102.15,13.32 L102.58,12.72 L103.01,12.15 L103.4,11.62 L103.76,11.15 L104.06,10.74 L104.28,10.41 L103.72,9.99 L103.47,10.28 L103.15,10.65 L102.75,11.1 L102.32,11.6 L101.85,12.15 L101.38,12.74 L100.9,13.36 L100.45,13.99 L100.04,14.62 L99.69,15.24 L99.38,15.85 L99.08,16.46 L98.8,17.09 L98.54,17.73 L98.29,18.39 L98.07,19.07 L97.88,19.78 L97.72,20.51 L97.59,21.27 L97.5,22.07 L97.48,22.93 L97.54,23.85 L97.67,24.77 L97.82,25.71 L97.99,26.64 L98.15,27.54 L98.28,28.41 L98.35,29.21 L98.36,29.93 L98.29,30.55 L98.14,31.11 L97.92,31.67 L97.64,32.21 L97.32,32.74 L96.96,33.25 L96.57,33.76 L96.17,34.25 L95.76,34.73 L95.36,35.2 L95,35.66 L94.68,36.05 L94.4,36.37 L94.14,36.65 L93.89,36.9 L93.64,37.13 L93.38,37.35 L93.1,37.57 L92.79,37.81 L92.45,38.07 L92.07,38.35 L91.65,38.66 L91.15,39 L90.6,39.37 L90.01,39.75 L89.42,40.13 L88.84,40.5 L88.29,40.84 L87.79,41.14 L87.37,41.4 L87.04,41.6Z"/><path d="M99.68,31.57 L100.05,31.39 L100.53,31.16 L101.1,30.89 L101.75,30.58 L102.45,30.26 L103.17,29.92 L103.89,29.57 L104.59,29.23 L105.25,28.89 L105.84,28.57 L106.39,28.26 L106.94,27.94 L107.48,27.63 L108.02,27.31 L108.54,26.98 L109.03,26.66 L109.49,26.34 L109.91,26.02 L110.28,25.7 L110.6,25.38 L110.86,25.03 L111.04,24.66 L111.15,24.29 L111.19,23.95 L111.19,23.63 L111.17,23.34 L111.13,23.09 L111.09,22.89 L111.06,22.74 L111.05,22.63 L110.35,22.57 L110.32,22.74 L110.31,22.95 L110.31,23.16 L110.31,23.38 L110.29,23.61 L110.26,23.83 L110.2,24.04 L110.11,24.24 L109.99,24.43 L109.8,24.62 L109.54,24.84 L109.2,25.08 L108.8,25.33 L108.36,25.59 L107.88,25.87 L107.36,26.14 L106.82,26.42 L106.27,26.69 L105.71,26.97 L105.16,27.23 L104.57,27.51 L103.92,27.8 L103.22,28.1 L102.49,28.4 L101.76,28.7 L101.06,28.99 L100.4,29.25 L99.81,29.49 L99.3,29.68 L98.92,29.83Z"/><path d="M94.59,52.1 L94.9,52.14 L95.29,52.23 L95.8,52.35 L96.39,52.5 L97.04,52.65 L97.74,52.8 L98.47,52.93 L99.23,53.02 L100,53.06 L100.77,53.02 L101.51,52.91 L102.23,52.74 L102.92,52.52 L103.59,52.28 L104.25,52.02 L104.91,51.74 L105.58,51.48 L106.24,51.22 L106.92,50.98 L107.61,50.78 L108.37,50.6 L109.21,50.45 L110.11,50.31 L111.05,50.17 L112.01,50.03 L112.96,49.88 L113.89,49.7 L114.76,49.49 L115.57,49.23 L116.3,48.91 L116.93,48.49 L117.47,47.99 L117.93,47.45 L118.31,46.88 L118.63,46.32 L118.9,45.77 L119.12,45.26 L119.31,44.82 L119.46,44.46 L119.59,44.19 L119.01,43.81 L118.8,44.08 L118.57,44.44 L118.32,44.86 L118.05,45.32 L117.75,45.79 L117.41,46.27 L117.04,46.71 L116.63,47.11 L116.19,47.44 L115.7,47.69 L115.12,47.89 L114.42,48.05 L113.61,48.18 L112.74,48.29 L111.81,48.37 L110.86,48.44 L109.91,48.51 L108.96,48.59 L108.05,48.69 L107.19,48.82 L106.38,48.99 L105.6,49.19 L104.86,49.4 L104.16,49.62 L103.48,49.82 L102.84,50.01 L102.24,50.17 L101.66,50.28 L101.13,50.36 L100.63,50.38 L100.13,50.34 L99.58,50.26 L99,50.13 L98.41,49.97 L97.82,49.78 L97.26,49.59 L96.72,49.39 L96.22,49.2 L95.77,49.03 L95.41,48.9Z"/><path d="M100.33,52.57 L100.66,52.69 L101.07,52.86 L101.56,53.06 L102.12,53.29 L102.74,53.54 L103.39,53.79 L104.07,54.05 L104.78,54.3 L105.49,54.52 L106.19,54.72 L106.93,54.9 L107.74,55.08 L108.6,55.26 L109.48,55.43 L110.37,55.59 L111.23,55.74 L112.05,55.86 L112.79,55.96 L113.43,56.02 L113.97,56.05 L114.42,56.02 L114.8,55.93 L115.11,55.75 L115.32,55.48 L115.41,55.2 L115.42,54.96 L115.39,54.78 L115.36,54.66 L115.33,54.63 L115.32,54.64 L114.68,54.36 L114.61,54.51 L114.58,54.69 L114.57,54.83 L114.56,54.94 L114.54,54.99 L114.52,54.99 L114.52,54.96 L114.48,54.96 L114.33,54.97 L114.03,54.95 L113.56,54.89 L112.96,54.79 L112.25,54.66 L111.46,54.5 L110.62,54.32 L109.76,54.12 L108.9,53.91 L108.07,53.7 L107.3,53.49 L106.61,53.28 L105.97,53.06 L105.32,52.81 L104.67,52.54 L104.03,52.26 L103.41,51.98 L102.83,51.7 L102.3,51.44 L101.82,51.2 L101.4,50.99 L101.07,50.83Z"/><path d="M72.24,63.98 L71.83,64.22 L71.26,64.52 L70.58,64.89 L69.82,65.29 L69.01,65.72 L68.18,66.16 L67.37,66.6 L66.6,67.02 L65.91,67.4 L65.33,67.74 L64.85,68.03 L64.44,68.28 L64.08,68.52 L63.76,68.73 L63.47,68.94 L63.2,69.15 L62.94,69.35 L62.67,69.56 L62.38,69.79 L62.04,70.04 L61.67,70.34 L61.3,70.65 L60.94,70.97 L60.58,71.29 L60.22,71.61 L59.86,71.93 L59.51,72.23 L59.14,72.51 L58.77,72.77 L58.4,73 L58.03,73.2 L57.62,73.37 L57.19,73.52 L56.72,73.67 L56.22,73.82 L55.7,73.98 L55.16,74.16 L54.61,74.38 L54.05,74.64 L53.49,74.96 L52.91,75.36 L52.31,75.82 L51.68,76.34 L51.05,76.88 L50.42,77.44 L49.83,77.98 L49.28,78.49 L48.79,78.95 L48.39,79.34 L48.08,79.63 L48.52,80.17 L48.87,79.91 L49.32,79.56 L49.84,79.14 L50.43,78.67 L51.05,78.18 L51.7,77.67 L52.35,77.18 L52.98,76.73 L53.58,76.34 L54.11,76.04 L54.6,75.81 L55.09,75.63 L55.58,75.49 L56.08,75.38 L56.58,75.28 L57.09,75.19 L57.61,75.09 L58.13,74.96 L58.67,74.8 L59.2,74.6 L59.7,74.35 L60.18,74.09 L60.63,73.81 L61.07,73.52 L61.49,73.22 L61.89,72.94 L62.28,72.66 L62.65,72.4 L63.01,72.17 L63.36,71.96 L63.7,71.76 L64.01,71.58 L64.3,71.43 L64.57,71.28 L64.84,71.14 L65.12,71 L65.43,70.85 L65.78,70.68 L66.19,70.49 L66.67,70.26 L67.25,69.99 L67.95,69.66 L68.73,69.3 L69.55,68.92 L70.4,68.53 L71.23,68.15 L72.01,67.79 L72.72,67.48 L73.31,67.21 L73.76,67.02Z"/><path d="M57.77,73.99 L57.86,74.42 L57.99,74.95 L58.14,75.55 L58.31,76.23 L58.47,76.96 L58.63,77.73 L58.78,78.54 L58.9,79.36 L58.98,80.18 L59.03,81.01 L59.04,81.9 L59.04,82.89 L59.03,83.94 L58.99,85.02 L58.93,86.1 L58.85,87.17 L58.73,88.2 L58.57,89.15 L58.38,90.01 L58.15,90.73 L57.87,91.34 L57.53,91.87 L57.13,92.36 L56.67,92.8 L56.18,93.22 L55.67,93.6 L55.14,93.97 L54.62,94.34 L54.12,94.71 L53.67,95.09 L53.26,95.46 L52.85,95.82 L52.45,96.15 L52.06,96.48 L51.69,96.78 L51.34,97.06 L51.01,97.32 L50.73,97.55 L50.48,97.75 L50.29,97.92 L50.71,98.48 L50.92,98.34 L51.18,98.17 L51.49,97.97 L51.83,97.74 L52.21,97.48 L52.61,97.2 L53.03,96.9 L53.47,96.58 L53.91,96.25 L54.33,95.91 L54.77,95.58 L55.25,95.27 L55.78,94.94 L56.34,94.58 L56.92,94.2 L57.49,93.76 L58.06,93.26 L58.58,92.69 L59.05,92.02 L59.45,91.27 L59.76,90.41 L60.01,89.46 L60.21,88.43 L60.38,87.35 L60.5,86.23 L60.6,85.11 L60.67,84 L60.72,82.93 L60.75,81.92 L60.77,80.99 L60.77,80.08 L60.71,79.17 L60.62,78.28 L60.5,77.41 L60.36,76.59 L60.23,75.83 L60.09,75.13 L59.98,74.52 L59.89,74.02 L59.83,73.61Z"/><path d="M59.05,80.29 L59.23,80.68 L59.46,81.17 L59.74,81.74 L60.04,82.38 L60.34,83.06 L60.65,83.77 L60.93,84.5 L61.19,85.22 L61.39,85.92 L61.53,86.57 L61.61,87.25 L61.64,88 L61.63,88.81 L61.59,89.63 L61.53,90.46 L61.46,91.25 L61.39,91.99 L61.32,92.66 L61.27,93.23 L61.25,93.67 L61.95,93.73 L62.01,93.31 L62.1,92.76 L62.22,92.1 L62.34,91.36 L62.45,90.56 L62.56,89.72 L62.65,88.86 L62.7,88.02 L62.71,87.2 L62.67,86.43 L62.56,85.66 L62.38,84.88 L62.15,84.09 L61.89,83.3 L61.62,82.54 L61.34,81.82 L61.08,81.16 L60.85,80.57 L60.67,80.09 L60.55,79.71Z"/><path d="M89.65,66.04 L89.86,66.26 L90.12,66.55 L90.41,66.87 L90.74,67.23 L91.08,67.62 L91.43,68.04 L91.79,68.47 L92.14,68.91 L92.48,69.34 L92.79,69.77 L93.11,70.22 L93.44,70.74 L93.78,71.29 L94.13,71.87 L94.48,72.46 L94.82,73.04 L95.15,73.6 L95.45,74.12 L95.74,74.59 L95.98,74.95 L96.11,75.15 L96.16,75.21 L96.18,75.22 L96.2,75.28 L96.23,75.49 L96.35,75.93 L96.67,76.34 L97.02,76.56 L97.37,76.7 L97.82,76.85 L98.43,76.99 L99.13,77.08 L99.89,77.15 L100.71,77.21 L101.56,77.29 L102.43,77.38 L103.29,77.51 L104.12,77.69 L104.89,77.93 L105.59,78.24 L106.29,78.67 L107.03,79.24 L107.8,79.91 L108.57,80.66 L109.33,81.43 L110.05,82.2 L110.72,82.93 L111.32,83.59 L111.83,84.14 L112.24,84.54 L112.76,84.06 L112.39,83.63 L111.93,83.06 L111.37,82.37 L110.74,81.6 L110.05,80.78 L109.31,79.95 L108.55,79.14 L107.77,78.38 L106.99,77.71 L106.21,77.16 L105.38,76.73 L104.5,76.4 L103.59,76.14 L102.66,75.94 L101.75,75.79 L100.88,75.66 L100.08,75.54 L99.37,75.43 L98.8,75.3 L98.38,75.15 L98.09,75.01 L97.95,74.91 L98,74.92 L98.18,75.14 L98.27,75.37 L98.31,75.34 L98.34,75.09 L98.31,74.71 L98.2,74.28 L98.02,73.85 L97.81,73.43 L97.59,72.96 L97.33,72.43 L97.06,71.85 L96.76,71.24 L96.45,70.61 L96.14,69.98 L95.82,69.37 L95.51,68.78 L95.21,68.23 L94.89,67.71 L94.56,67.18 L94.22,66.67 L93.88,66.17 L93.55,65.7 L93.23,65.26 L92.95,64.85 L92.7,64.5 L92.5,64.2 L92.35,63.96Z"/><path d="M97.16,76.11 L97.22,76.52 L97.29,77.07 L97.35,77.74 L97.43,78.51 L97.52,79.33 L97.64,80.2 L97.79,81.07 L97.97,81.92 L98.21,82.74 L98.51,83.49 L98.85,84.17 L99.24,84.83 L99.66,85.47 L100.11,86.09 L100.6,86.69 L101.12,87.26 L101.65,87.81 L102.21,88.32 L102.78,88.8 L103.38,89.25 L104.03,89.65 L104.76,90.03 L105.54,90.36 L106.34,90.66 L107.13,90.92 L107.9,91.16 L108.61,91.37 L109.25,91.55 L109.78,91.7 L110.18,91.83 L110.42,91.17 L110.02,91 L109.49,90.81 L108.86,90.59 L108.17,90.35 L107.43,90.08 L106.67,89.78 L105.93,89.46 L105.22,89.11 L104.58,88.74 L104.02,88.35 L103.51,87.93 L103.01,87.46 L102.52,86.96 L102.06,86.43 L101.61,85.87 L101.2,85.3 L100.81,84.71 L100.46,84.11 L100.15,83.51 L99.89,82.91 L99.68,82.28 L99.51,81.57 L99.38,80.79 L99.29,79.98 L99.21,79.17 L99.16,78.37 L99.13,77.62 L99.1,76.94 L99.08,76.35 L99.04,75.89Z"/><path d="M87.75,179.22 L87.27,179.32 L86.64,179.44 L85.92,179.58 L85.12,179.74 L84.26,179.9 L83.37,180.05 L82.46,180.2 L81.58,180.33 L80.73,180.43 L79.96,180.5 L79.23,180.53 L78.49,180.53 L77.73,180.49 L76.95,180.44 L76.15,180.38 L75.34,180.32 L74.51,180.26 L73.66,180.24 L72.8,180.25 L71.94,180.3 L71.1,180.39 L70.26,180.5 L69.42,180.63 L68.58,180.78 L67.74,180.95 L66.91,181.15 L66.09,181.36 L65.28,181.6 L64.48,181.86 L63.7,182.15 L62.9,182.5 L62.08,182.9 L61.26,183.35 L60.45,183.82 L59.67,184.3 L58.94,184.76 L58.27,185.2 L57.68,185.6 L57.19,185.93 L56.8,186.18 L57.4,187.22 L57.82,187.01 L58.36,186.73 L58.99,186.38 L59.68,186 L60.43,185.59 L61.21,185.18 L62.01,184.78 L62.8,184.42 L63.57,184.1 L64.3,183.85 L65.03,183.64 L65.78,183.45 L66.55,183.29 L67.33,183.14 L68.12,183.02 L68.91,182.92 L69.71,182.83 L70.5,182.77 L71.29,182.72 L72.06,182.7 L72.8,182.71 L73.54,182.75 L74.29,182.84 L75.06,182.94 L75.85,183.06 L76.65,183.18 L77.47,183.3 L78.31,183.4 L79.17,183.47 L80.04,183.5 L80.94,183.48 L81.88,183.43 L82.84,183.36 L83.8,183.27 L84.74,183.16 L85.63,183.06 L86.45,182.96 L87.18,182.88 L87.78,182.82 L88.25,182.78Z"/><path d="M69.78,181.05 L69.64,180.85 L69.46,180.58 L69.25,180.26 L69.02,179.91 L68.77,179.52 L68.52,179.13 L68.27,178.73 L68.03,178.35 L67.81,177.99 L67.62,177.68 L67.44,177.37 L67.27,177.06 L67.1,176.75 L66.93,176.44 L66.77,176.14 L66.62,175.85 L66.48,175.59 L66.36,175.35 L66.25,175.15 L66.16,174.99 L65.24,175.41 L65.3,175.58 L65.37,175.79 L65.46,176.04 L65.56,176.32 L65.68,176.63 L65.8,176.95 L65.94,177.29 L66.08,177.64 L66.23,177.98 L66.38,178.32 L66.55,178.68 L66.74,179.07 L66.95,179.48 L67.17,179.91 L67.39,180.33 L67.6,180.73 L67.8,181.11 L67.97,181.45 L68.12,181.73 L68.22,181.95Z"/><path d="M86.48,182.38 L85.96,182.58 L85.29,182.81 L84.5,183.09 L83.59,183.4 L82.61,183.74 L81.58,184.1 L80.53,184.47 L79.48,184.87 L78.45,185.27 L77.47,185.68 L76.52,186.1 L75.56,186.54 L74.57,187 L73.59,187.48 L72.6,187.97 L71.63,188.46 L70.68,188.95 L69.76,189.44 L68.89,189.92 L68.06,190.39 L67.27,190.84 L66.52,191.3 L65.81,191.76 L65.13,192.21 L64.47,192.65 L63.84,193.09 L63.24,193.53 L62.65,193.95 L62.08,194.36 L61.51,194.77 L60.94,195.19 L60.36,195.62 L59.79,196.06 L59.24,196.49 L58.7,196.91 L58.21,197.31 L57.75,197.68 L57.35,198.01 L57.01,198.29 L56.75,198.51 L57.45,199.49 L57.75,199.3 L58.13,199.06 L58.56,198.78 L59.05,198.45 L59.57,198.1 L60.13,197.73 L60.71,197.35 L61.3,196.97 L61.9,196.59 L62.49,196.23 L63.08,195.87 L63.68,195.5 L64.3,195.12 L64.92,194.74 L65.56,194.36 L66.23,193.97 L66.91,193.59 L67.62,193.2 L68.36,192.81 L69.14,192.41 L69.97,192.01 L70.85,191.59 L71.77,191.16 L72.72,190.73 L73.7,190.3 L74.68,189.87 L75.67,189.45 L76.65,189.05 L77.6,188.67 L78.53,188.32 L79.47,187.99 L80.46,187.66 L81.5,187.33 L82.54,187.01 L83.56,186.71 L84.54,186.43 L85.45,186.18 L86.27,185.96 L86.97,185.77 L87.52,185.62Z"/><path d="M67.3,191.43 L67.08,191.73 L66.79,192.11 L66.43,192.56 L66.03,193.07 L65.6,193.62 L65.14,194.2 L64.69,194.8 L64.24,195.41 L63.81,196.02 L63.42,196.61 L63.05,197.22 L62.66,197.88 L62.28,198.57 L61.89,199.27 L61.53,199.97 L61.18,200.64 L60.86,201.27 L60.58,201.82 L60.34,202.29 L60.16,202.66 L61.04,203.14 L61.25,202.8 L61.53,202.34 L61.84,201.8 L62.19,201.2 L62.57,200.55 L62.97,199.88 L63.38,199.21 L63.79,198.56 L64.19,197.94 L64.58,197.39 L64.98,196.86 L65.41,196.31 L65.88,195.75 L66.35,195.19 L66.83,194.64 L67.29,194.12 L67.72,193.65 L68.1,193.22 L68.44,192.86 L68.7,192.57Z"/><path d="M83.58,185.53 L83.49,185.89 L83.38,186.34 L83.24,186.86 L83.09,187.45 L82.91,188.08 L82.72,188.76 L82.52,189.46 L82.32,190.17 L82.1,190.89 L81.89,191.59 L81.66,192.28 L81.4,192.97 L81.12,193.7 L80.81,194.46 L80.5,195.26 L80.18,196.09 L79.88,196.96 L79.6,197.87 L79.35,198.82 L79.15,199.83 L78.99,200.93 L78.86,202.15 L78.75,203.46 L78.67,204.8 L78.61,206.15 L78.56,207.46 L78.52,208.67 L78.49,209.76 L78.47,210.67 L78.45,211.36 L79.55,211.44 L79.63,210.74 L79.72,209.83 L79.81,208.75 L79.91,207.54 L80.02,206.25 L80.15,204.92 L80.29,203.6 L80.45,202.34 L80.64,201.18 L80.85,200.17 L81.09,199.28 L81.37,198.43 L81.69,197.62 L82.03,196.83 L82.38,196.07 L82.74,195.32 L83.1,194.59 L83.46,193.86 L83.8,193.13 L84.11,192.41 L84.4,191.69 L84.68,190.98 L84.95,190.27 L85.21,189.58 L85.46,188.92 L85.7,188.3 L85.92,187.73 L86.11,187.23 L86.28,186.8 L86.42,186.47Z"/><path d="M85.81,186.83 L85.78,187.28 L85.72,187.86 L85.64,188.54 L85.54,189.32 L85.44,190.18 L85.34,191.09 L85.26,192.04 L85.19,193.02 L85.15,194 L85.15,194.99 L85.19,196.02 L85.26,197.17 L85.36,198.39 L85.48,199.65 L85.61,200.9 L85.75,202.12 L85.89,203.24 L86.01,204.25 L86.12,205.09 L86.2,205.74 L87.2,205.66 L87.18,205.01 L87.15,204.15 L87.09,203.14 L87.03,202.01 L86.96,200.8 L86.9,199.55 L86.85,198.3 L86.82,197.1 L86.82,195.99 L86.85,195.01 L86.92,194.1 L87.02,193.18 L87.16,192.26 L87.31,191.36 L87.47,190.49 L87.64,189.67 L87.8,188.91 L87.95,188.23 L88.08,187.64 L88.19,187.17Z"/><path d="M88.8,185.07 L88.86,185.54 L88.93,186.12 L89.01,186.81 L89.09,187.59 L89.17,188.44 L89.26,189.34 L89.35,190.27 L89.45,191.21 L89.55,192.15 L89.65,193.07 L89.77,194.03 L89.89,195.08 L90.03,196.21 L90.17,197.36 L90.31,198.51 L90.45,199.62 L90.58,200.65 L90.7,201.58 L90.81,202.35 L90.9,202.95 L91.9,202.85 L91.88,202.25 L91.84,201.47 L91.79,200.54 L91.72,199.5 L91.65,198.39 L91.58,197.23 L91.51,196.08 L91.45,194.95 L91.39,193.89 L91.35,192.93 L91.31,192.02 L91.28,191.09 L91.26,190.15 L91.24,189.22 L91.22,188.32 L91.2,187.47 L91.19,186.69 L91.19,185.99 L91.19,185.4 L91.2,184.93Z"/><path d="M85.23,45.2 L84.56,44.27 L83.79,42.87 L82.98,41.23 L82.18,39.6 L81.41,38.2 L80.74,37.27 L77.6,37.88 L77.32,38.99 L77.14,40.58 L77,42.39 L76.86,44.21 L76.67,45.79 L76.39,46.9Z"/><path d="M75.53,46.09 L74.36,46.13 L72.74,45.99 L70.89,45.75 L69.04,45.51 L67.42,45.36 L66.25,45.4 L65.03,48.36 L65.83,49.21 L67.08,50.25 L68.56,51.38 L70.04,52.52 L71.29,53.56 L72.09,54.41Z"/><path d="M89.87,49.63 L90.13,48.56 L90.69,47.14 L91.39,45.54 L92.09,43.94 L92.65,42.52 L92.92,41.44 L90.46,39.4 L89.45,39.85 L88.15,40.65 L86.71,41.63 L85.26,42.61 L83.96,43.42 L82.95,43.87Z"/><path d="M91.63,56.49 L92.57,55.94 L93.96,55.35 L95.57,54.76 L97.19,54.16 L98.58,53.57 L99.52,53.02 L99.29,49.83 L98.28,49.42 L96.82,49.04 L95.14,48.67 L93.46,48.31 L92,47.92 L90.99,47.51Z"/><path d="M73.27,58.85 L72.72,59.85 L71.79,61.12 L70.66,62.53 L69.53,63.95 L68.59,65.22 L68.04,66.22 L69.91,68.81 L71.03,68.6 L72.53,68.11 L74.23,67.48 L75.93,66.85 L77.43,66.36 L78.55,66.15Z"/><path d="M85,64.97 L86.01,65.44 L87.29,66.28 L88.73,67.29 L90.16,68.3 L91.45,69.13 L92.45,69.6 L94.95,67.6 L94.7,66.52 L94.16,65.08 L93.48,63.46 L92.8,61.85 L92.26,60.41 L92.02,59.33Z"/><path d="M82.7,41C86.28,40.67 90.08,42.83 92.5,45C94.92,47.17 96.7,50.92 97.2,54C97.7,57.08 97.03,60.92 95.5,63.5C93.97,66.08 90.5,68.17 88,69.5C85.5,70.83 83.17,71.92 80.5,71.5C77.83,71.08 74.03,69.42 72,67C69.97,64.58 68.47,60.33 68.3,57C68.13,53.67 68.6,49.67 71,47C73.4,44.33 79.12,41.33 82.7,41Z"/><path d="M77,67 L85,67 L83,84 L78.5,84Z"/><path d="M86,177C87.67,176.58 91.08,177.17 92,178.5C92.92,179.83 92.33,183.25 91.5,185C90.67,186.75 88.58,188.83 87,189C85.42,189.17 82.83,187.33 82,186C81.17,184.67 81.33,182.5 82,181C82.67,179.5 84.33,177.42 86,177Z"/></g><g fill="#B8D4EC"><path d="M81.67,41.7 L81.56,41.22 L81.42,40.58 L81.27,39.81 L81.09,38.94 L80.9,38.01 L80.71,37.06 L80.5,36.11 L80.3,35.2 L80.09,34.37 L79.89,33.65 L79.7,33.05 L79.54,32.51 L79.37,32 L79.2,31.51 L79.02,31.04 L78.81,30.57 L78.57,30.11 L78.29,29.66 L77.97,29.21 L77.58,28.75 L77.11,28.29 L76.58,27.88 L76.03,27.51 L75.47,27.18 L74.91,26.87 L74.37,26.58 L73.86,26.28 L73.39,25.99 L73,25.71 L72.67,25.41 L72.36,25.07 L72.06,24.67 L71.77,24.24 L71.5,23.8 L71.25,23.34 L71.02,22.89 L70.83,22.45 L70.65,22.05 L70.51,21.68 L70.41,21.38 L70.35,21.16 L70.33,20.97 L70.34,20.8 L70.37,20.63 L70.43,20.46 L70.51,20.3 L70.6,20.13 L70.68,19.97 L70.77,19.8 L70.81,19.66 L70.19,19.34 L70.12,19.41 L70.03,19.49 L69.9,19.62 L69.75,19.78 L69.59,19.97 L69.44,20.22 L69.3,20.5 L69.2,20.84 L69.16,21.22 L69.19,21.62 L69.27,22.03 L69.37,22.47 L69.51,22.94 L69.68,23.45 L69.88,23.97 L70.1,24.51 L70.36,25.04 L70.65,25.58 L70.97,26.09 L71.33,26.59 L71.77,27.07 L72.26,27.5 L72.78,27.9 L73.31,28.27 L73.84,28.63 L74.35,28.97 L74.82,29.3 L75.23,29.63 L75.56,29.94 L75.82,30.25 L76.03,30.58 L76.21,30.9 L76.35,31.22 L76.47,31.55 L76.58,31.9 L76.68,32.29 L76.77,32.72 L76.87,33.21 L76.99,33.75 L77.11,34.35 L77.25,35.02 L77.39,35.8 L77.54,36.68 L77.68,37.61 L77.82,38.55 L77.95,39.48 L78.07,40.35 L78.18,41.13 L78.26,41.8 L78.33,42.3Z"/><path d="M77.57,30.37 L77.64,30.16 L77.72,29.91 L77.82,29.63 L77.93,29.31 L78.06,28.95 L78.2,28.57 L78.35,28.16 L78.52,27.73 L78.69,27.28 L78.88,26.81 L79.09,26.33 L79.34,25.79 L79.62,25.22 L79.91,24.61 L80.22,23.98 L80.52,23.33 L80.81,22.67 L81.09,22 L81.33,21.33 L81.53,20.66 L81.69,19.96 L81.82,19.22 L81.92,18.45 L82.01,17.68 L82.07,16.92 L82.12,16.2 L82.16,15.52 L82.2,14.93 L82.22,14.43 L82.25,14.04 L81.55,13.96 L81.49,14.35 L81.42,14.86 L81.35,15.45 L81.27,16.12 L81.18,16.83 L81.07,17.57 L80.95,18.31 L80.81,19.04 L80.65,19.72 L80.47,20.34 L80.25,20.94 L80,21.55 L79.7,22.16 L79.39,22.78 L79.06,23.39 L78.72,23.99 L78.39,24.58 L78.08,25.14 L77.78,25.68 L77.52,26.19 L77.29,26.65 L77.07,27.1 L76.86,27.52 L76.67,27.92 L76.49,28.3 L76.33,28.64 L76.18,28.94 L76.04,29.21 L75.93,29.44 L75.83,29.63Z"/><path d="M70.42,46.35 L69.99,46.27 L69.41,46.15 L68.73,46 L67.97,45.84 L67.16,45.66 L66.33,45.47 L65.51,45.29 L64.72,45.11 L63.99,44.95 L63.36,44.82 L62.81,44.7 L62.31,44.6 L61.84,44.5 L61.41,44.42 L61,44.34 L60.6,44.26 L60.2,44.18 L59.8,44.09 L59.38,44 L58.95,43.89 L58.52,43.78 L58.09,43.65 L57.65,43.51 L57.19,43.35 L56.72,43.19 L56.22,43.03 L55.69,42.87 L55.14,42.73 L54.56,42.61 L53.94,42.52 L53.29,42.46 L52.6,42.43 L51.89,42.43 L51.17,42.44 L50.45,42.46 L49.73,42.48 L49.03,42.5 L48.37,42.51 L47.74,42.51 L47.17,42.48 L46.62,42.44 L46.06,42.37 L45.5,42.29 L44.96,42.2 L44.44,42.11 L43.96,42.02 L43.51,41.93 L43.11,41.86 L42.76,41.8 L42.48,41.76 L42.32,42.44 L42.58,42.53 L42.91,42.64 L43.29,42.77 L43.73,42.91 L44.22,43.05 L44.74,43.2 L45.29,43.35 L45.86,43.49 L46.44,43.61 L47.03,43.72 L47.65,43.8 L48.32,43.86 L49.01,43.9 L49.72,43.94 L50.44,43.97 L51.15,44 L51.84,44.05 L52.5,44.1 L53.11,44.18 L53.66,44.28 L54.16,44.4 L54.63,44.55 L55.09,44.72 L55.53,44.9 L55.97,45.1 L56.41,45.3 L56.85,45.51 L57.3,45.72 L57.77,45.92 L58.25,46.11 L58.71,46.27 L59.13,46.42 L59.53,46.57 L59.93,46.7 L60.33,46.84 L60.74,46.97 L61.16,47.11 L61.61,47.26 L62.1,47.41 L62.64,47.58 L63.26,47.77 L63.97,47.99 L64.75,48.22 L65.57,48.45 L66.39,48.69 L67.18,48.92 L67.93,49.14 L68.6,49.34 L69.16,49.51 L69.58,49.65Z"/><path d="M58.1,44.63 L57.66,44.92 L57.08,45.28 L56.41,45.7 L55.65,46.18 L54.83,46.68 L53.98,47.2 L53.11,47.72 L52.25,48.22 L51.43,48.68 L50.65,49.1 L49.89,49.5 L49.13,49.91 L48.36,50.31 L47.6,50.7 L46.84,51.08 L46.09,51.43 L45.35,51.75 L44.62,52.03 L43.9,52.26 L43.2,52.44 L42.48,52.56 L41.72,52.62 L40.92,52.63 L40.11,52.6 L39.32,52.54 L38.56,52.47 L37.85,52.39 L37.21,52.32 L36.66,52.27 L36.23,52.25 L36.17,52.95 L36.58,53.01 L37.1,53.1 L37.73,53.21 L38.44,53.34 L39.22,53.46 L40.04,53.56 L40.88,53.63 L41.74,53.67 L42.58,53.65 L43.4,53.56 L44.19,53.4 L44.99,53.19 L45.79,52.93 L46.59,52.64 L47.4,52.31 L48.2,51.96 L48.99,51.6 L49.79,51.23 L50.57,50.86 L51.35,50.5 L52.17,50.11 L53.04,49.67 L53.94,49.2 L54.84,48.71 L55.73,48.22 L56.58,47.75 L57.36,47.31 L58.05,46.93 L58.64,46.61 L59.1,46.37Z"/><path d="M88.96,44.4 L89.25,44.18 L89.63,43.89 L90.1,43.55 L90.63,43.17 L91.2,42.76 L91.79,42.33 L92.38,41.89 L92.94,41.46 L93.47,41.04 L93.93,40.65 L94.31,40.3 L94.65,39.98 L94.97,39.67 L95.28,39.36 L95.57,39.05 L95.86,38.72 L96.14,38.37 L96.42,37.99 L96.71,37.58 L97,37.14 L97.31,36.69 L97.66,36.22 L98.04,35.7 L98.44,35.14 L98.84,34.53 L99.23,33.89 L99.59,33.2 L99.9,32.47 L100.15,31.69 L100.31,30.85 L100.36,29.97 L100.31,29.05 L100.17,28.13 L99.99,27.2 L99.78,26.27 L99.57,25.36 L99.38,24.47 L99.22,23.63 L99.12,22.85 L99.1,22.13 L99.14,21.44 L99.21,20.75 L99.31,20.09 L99.45,19.43 L99.61,18.8 L99.79,18.17 L100,17.56 L100.22,16.95 L100.46,16.35 L100.71,15.76 L101,15.17 L101.35,14.56 L101.74,13.94 L102.15,13.32 L102.58,12.72 L103.01,12.15 L103.4,11.62 L103.76,11.15 L104.06,10.74 L104.28,10.41 L103.72,9.99 L103.47,10.28 L103.15,10.65 L102.75,11.1 L102.32,11.6 L101.85,12.15 L101.38,12.74 L100.9,13.36 L100.45,13.99 L100.04,14.62 L99.69,15.24 L99.38,15.85 L99.08,16.46 L98.8,17.09 L98.54,17.73 L98.29,18.39 L98.07,19.07 L97.88,19.78 L97.72,20.51 L97.59,21.27 L97.5,22.07 L97.48,22.93 L97.54,23.85 L97.67,24.77 L97.82,25.71 L97.99,26.64 L98.15,27.54 L98.28,28.41 L98.35,29.21 L98.36,29.93 L98.29,30.55 L98.14,31.11 L97.92,31.67 L97.64,32.21 L97.32,32.74 L96.96,33.25 L96.57,33.76 L96.17,34.25 L95.76,34.73 L95.36,35.2 L95,35.66 L94.68,36.05 L94.4,36.37 L94.14,36.65 L93.89,36.9 L93.64,37.13 L93.38,37.35 L93.1,37.57 L92.79,37.81 L92.45,38.07 L92.07,38.35 L91.65,38.66 L91.15,39 L90.6,39.37 L90.01,39.75 L89.42,40.13 L88.84,40.5 L88.29,40.84 L87.79,41.14 L87.37,41.4 L87.04,41.6Z"/><path d="M99.68,31.57 L100.05,31.39 L100.53,31.16 L101.1,30.89 L101.75,30.58 L102.45,30.26 L103.17,29.92 L103.89,29.57 L104.59,29.23 L105.25,28.89 L105.84,28.57 L106.39,28.26 L106.94,27.94 L107.48,27.63 L108.02,27.31 L108.54,26.98 L109.03,26.66 L109.49,26.34 L109.91,26.02 L110.28,25.7 L110.6,25.38 L110.86,25.03 L111.04,24.66 L111.15,24.29 L111.19,23.95 L111.19,23.63 L111.17,23.34 L111.13,23.09 L111.09,22.89 L111.06,22.74 L111.05,22.63 L110.35,22.57 L110.32,22.74 L110.31,22.95 L110.31,23.16 L110.31,23.38 L110.29,23.61 L110.26,23.83 L110.2,24.04 L110.11,24.24 L109.99,24.43 L109.8,24.62 L109.54,24.84 L109.2,25.08 L108.8,25.33 L108.36,25.59 L107.88,25.87 L107.36,26.14 L106.82,26.42 L106.27,26.69 L105.71,26.97 L105.16,27.23 L104.57,27.51 L103.92,27.8 L103.22,28.1 L102.49,28.4 L101.76,28.7 L101.06,28.99 L100.4,29.25 L99.81,29.49 L99.3,29.68 L98.92,29.83Z"/><path d="M94.59,52.1 L94.9,52.14 L95.29,52.23 L95.8,52.35 L96.39,52.5 L97.04,52.65 L97.74,52.8 L98.47,52.93 L99.23,53.02 L100,53.06 L100.77,53.02 L101.51,52.91 L102.23,52.74 L102.92,52.52 L103.59,52.28 L104.25,52.02 L104.91,51.74 L105.58,51.48 L106.24,51.22 L106.92,50.98 L107.61,50.78 L108.37,50.6 L109.21,50.45 L110.11,50.31 L111.05,50.17 L112.01,50.03 L112.96,49.88 L113.89,49.7 L114.76,49.49 L115.57,49.23 L116.3,48.91 L116.93,48.49 L117.47,47.99 L117.93,47.45 L118.31,46.88 L118.63,46.32 L118.9,45.77 L119.12,45.26 L119.31,44.82 L119.46,44.46 L119.59,44.19 L119.01,43.81 L118.8,44.08 L118.57,44.44 L118.32,44.86 L118.05,45.32 L117.75,45.79 L117.41,46.27 L117.04,46.71 L116.63,47.11 L116.19,47.44 L115.7,47.69 L115.12,47.89 L114.42,48.05 L113.61,48.18 L112.74,48.29 L111.81,48.37 L110.86,48.44 L109.91,48.51 L108.96,48.59 L108.05,48.69 L107.19,48.82 L106.38,48.99 L105.6,49.19 L104.86,49.4 L104.16,49.62 L103.48,49.82 L102.84,50.01 L102.24,50.17 L101.66,50.28 L101.13,50.36 L100.63,50.38 L100.13,50.34 L99.58,50.26 L99,50.13 L98.41,49.97 L97.82,49.78 L97.26,49.59 L96.72,49.39 L96.22,49.2 L95.77,49.03 L95.41,48.9Z"/><path d="M100.33,52.57 L100.66,52.69 L101.07,52.86 L101.56,53.06 L102.12,53.29 L102.74,53.54 L103.39,53.79 L104.07,54.05 L104.78,54.3 L105.49,54.52 L106.19,54.72 L106.93,54.9 L107.74,55.08 L108.6,55.26 L109.48,55.43 L110.37,55.59 L111.23,55.74 L112.05,55.86 L112.79,55.96 L113.43,56.02 L113.97,56.05 L114.42,56.02 L114.8,55.93 L115.11,55.75 L115.32,55.48 L115.41,55.2 L115.42,54.96 L115.39,54.78 L115.36,54.66 L115.33,54.63 L115.32,54.64 L114.68,54.36 L114.61,54.51 L114.58,54.69 L114.57,54.83 L114.56,54.94 L114.54,54.99 L114.52,54.99 L114.52,54.96 L114.48,54.96 L114.33,54.97 L114.03,54.95 L113.56,54.89 L112.96,54.79 L112.25,54.66 L111.46,54.5 L110.62,54.32 L109.76,54.12 L108.9,53.91 L108.07,53.7 L107.3,53.49 L106.61,53.28 L105.97,53.06 L105.32,52.81 L104.67,52.54 L104.03,52.26 L103.41,51.98 L102.83,51.7 L102.3,51.44 L101.82,51.2 L101.4,50.99 L101.07,50.83Z"/><path d="M72.24,63.98 L71.83,64.22 L71.26,64.52 L70.58,64.89 L69.82,65.29 L69.01,65.72 L68.18,66.16 L67.37,66.6 L66.6,67.02 L65.91,67.4 L65.33,67.74 L64.85,68.03 L64.44,68.28 L64.08,68.52 L63.76,68.73 L63.47,68.94 L63.2,69.15 L62.94,69.35 L62.67,69.56 L62.38,69.79 L62.04,70.04 L61.67,70.34 L61.3,70.65 L60.94,70.97 L60.58,71.29 L60.22,71.61 L59.86,71.93 L59.51,72.23 L59.14,72.51 L58.77,72.77 L58.4,73 L58.03,73.2 L57.62,73.37 L57.19,73.52 L56.72,73.67 L56.22,73.82 L55.7,73.98 L55.16,74.16 L54.61,74.38 L54.05,74.64 L53.49,74.96 L52.91,75.36 L52.31,75.82 L51.68,76.34 L51.05,76.88 L50.42,77.44 L49.83,77.98 L49.28,78.49 L48.79,78.95 L48.39,79.34 L48.08,79.63 L48.52,80.17 L48.87,79.91 L49.32,79.56 L49.84,79.14 L50.43,78.67 L51.05,78.18 L51.7,77.67 L52.35,77.18 L52.98,76.73 L53.58,76.34 L54.11,76.04 L54.6,75.81 L55.09,75.63 L55.58,75.49 L56.08,75.38 L56.58,75.28 L57.09,75.19 L57.61,75.09 L58.13,74.96 L58.67,74.8 L59.2,74.6 L59.7,74.35 L60.18,74.09 L60.63,73.81 L61.07,73.52 L61.49,73.22 L61.89,72.94 L62.28,72.66 L62.65,72.4 L63.01,72.17 L63.36,71.96 L63.7,71.76 L64.01,71.58 L64.3,71.43 L64.57,71.28 L64.84,71.14 L65.12,71 L65.43,70.85 L65.78,70.68 L66.19,70.49 L66.67,70.26 L67.25,69.99 L67.95,69.66 L68.73,69.3 L69.55,68.92 L70.4,68.53 L71.23,68.15 L72.01,67.79 L72.72,67.48 L73.31,67.21 L73.76,67.02Z"/><path d="M57.77,73.99 L57.86,74.42 L57.99,74.95 L58.14,75.55 L58.31,76.23 L58.47,76.96 L58.63,77.73 L58.78,78.54 L58.9,79.36 L58.98,80.18 L59.03,81.01 L59.04,81.9 L59.04,82.89 L59.03,83.94 L58.99,85.02 L58.93,86.1 L58.85,87.17 L58.73,88.2 L58.57,89.15 L58.38,90.01 L58.15,90.73 L57.87,91.34 L57.53,91.87 L57.13,92.36 L56.67,92.8 L56.18,93.22 L55.67,93.6 L55.14,93.97 L54.62,94.34 L54.12,94.71 L53.67,95.09 L53.26,95.46 L52.85,95.82 L52.45,96.15 L52.06,96.48 L51.69,96.78 L51.34,97.06 L51.01,97.32 L50.73,97.55 L50.48,97.75 L50.29,97.92 L50.71,98.48 L50.92,98.34 L51.18,98.17 L51.49,97.97 L51.83,97.74 L52.21,97.48 L52.61,97.2 L53.03,96.9 L53.47,96.58 L53.91,96.25 L54.33,95.91 L54.77,95.58 L55.25,95.27 L55.78,94.94 L56.34,94.58 L56.92,94.2 L57.49,93.76 L58.06,93.26 L58.58,92.69 L59.05,92.02 L59.45,91.27 L59.76,90.41 L60.01,89.46 L60.21,88.43 L60.38,87.35 L60.5,86.23 L60.6,85.11 L60.67,84 L60.72,82.93 L60.75,81.92 L60.77,80.99 L60.77,80.08 L60.71,79.17 L60.62,78.28 L60.5,77.41 L60.36,76.59 L60.23,75.83 L60.09,75.13 L59.98,74.52 L59.89,74.02 L59.83,73.61Z"/><path d="M59.05,80.29 L59.23,80.68 L59.46,81.17 L59.74,81.74 L60.04,82.38 L60.34,83.06 L60.65,83.77 L60.93,84.5 L61.19,85.22 L61.39,85.92 L61.53,86.57 L61.61,87.25 L61.64,88 L61.63,88.81 L61.59,89.63 L61.53,90.46 L61.46,91.25 L61.39,91.99 L61.32,92.66 L61.27,93.23 L61.25,93.67 L61.95,93.73 L62.01,93.31 L62.1,92.76 L62.22,92.1 L62.34,91.36 L62.45,90.56 L62.56,89.72 L62.65,88.86 L62.7,88.02 L62.71,87.2 L62.67,86.43 L62.56,85.66 L62.38,84.88 L62.15,84.09 L61.89,83.3 L61.62,82.54 L61.34,81.82 L61.08,81.16 L60.85,80.57 L60.67,80.09 L60.55,79.71Z"/><path d="M89.65,66.04 L89.86,66.26 L90.12,66.55 L90.41,66.87 L90.74,67.23 L91.08,67.62 L91.43,68.04 L91.79,68.47 L92.14,68.91 L92.48,69.34 L92.79,69.77 L93.11,70.22 L93.44,70.74 L93.78,71.29 L94.13,71.87 L94.48,72.46 L94.82,73.04 L95.15,73.6 L95.45,74.12 L95.74,74.59 L95.98,74.95 L96.11,75.15 L96.16,75.21 L96.18,75.22 L96.2,75.28 L96.23,75.49 L96.35,75.93 L96.67,76.34 L97.02,76.56 L97.37,76.7 L97.82,76.85 L98.43,76.99 L99.13,77.08 L99.89,77.15 L100.71,77.21 L101.56,77.29 L102.43,77.38 L103.29,77.51 L104.12,77.69 L104.89,77.93 L105.59,78.24 L106.29,78.67 L107.03,79.24 L107.8,79.91 L108.57,80.66 L109.33,81.43 L110.05,82.2 L110.72,82.93 L111.32,83.59 L111.83,84.14 L112.24,84.54 L112.76,84.06 L112.39,83.63 L111.93,83.06 L111.37,82.37 L110.74,81.6 L110.05,80.78 L109.31,79.95 L108.55,79.14 L107.77,78.38 L106.99,77.71 L106.21,77.16 L105.38,76.73 L104.5,76.4 L103.59,76.14 L102.66,75.94 L101.75,75.79 L100.88,75.66 L100.08,75.54 L99.37,75.43 L98.8,75.3 L98.38,75.15 L98.09,75.01 L97.95,74.91 L98,74.92 L98.18,75.14 L98.27,75.37 L98.31,75.34 L98.34,75.09 L98.31,74.71 L98.2,74.28 L98.02,73.85 L97.81,73.43 L97.59,72.96 L97.33,72.43 L97.06,71.85 L96.76,71.24 L96.45,70.61 L96.14,69.98 L95.82,69.37 L95.51,68.78 L95.21,68.23 L94.89,67.71 L94.56,67.18 L94.22,66.67 L93.88,66.17 L93.55,65.7 L93.23,65.26 L92.95,64.85 L92.7,64.5 L92.5,64.2 L92.35,63.96Z"/><path d="M97.16,76.11 L97.22,76.52 L97.29,77.07 L97.35,77.74 L97.43,78.51 L97.52,79.33 L97.64,80.2 L97.79,81.07 L97.97,81.92 L98.21,82.74 L98.51,83.49 L98.85,84.17 L99.24,84.83 L99.66,85.47 L100.11,86.09 L100.6,86.69 L101.12,87.26 L101.65,87.81 L102.21,88.32 L102.78,88.8 L103.38,89.25 L104.03,89.65 L104.76,90.03 L105.54,90.36 L106.34,90.66 L107.13,90.92 L107.9,91.16 L108.61,91.37 L109.25,91.55 L109.78,91.7 L110.18,91.83 L110.42,91.17 L110.02,91 L109.49,90.81 L108.86,90.59 L108.17,90.35 L107.43,90.08 L106.67,89.78 L105.93,89.46 L105.22,89.11 L104.58,88.74 L104.02,88.35 L103.51,87.93 L103.01,87.46 L102.52,86.96 L102.06,86.43 L101.61,85.87 L101.2,85.3 L100.81,84.71 L100.46,84.11 L100.15,83.51 L99.89,82.91 L99.68,82.28 L99.51,81.57 L99.38,80.79 L99.29,79.98 L99.21,79.17 L99.16,78.37 L99.13,77.62 L99.1,76.94 L99.08,76.35 L99.04,75.89Z"/><path d="M87.75,179.22 L87.27,179.32 L86.64,179.44 L85.92,179.58 L85.12,179.74 L84.26,179.9 L83.37,180.05 L82.46,180.2 L81.58,180.33 L80.73,180.43 L79.96,180.5 L79.23,180.53 L78.49,180.53 L77.73,180.49 L76.95,180.44 L76.15,180.38 L75.34,180.32 L74.51,180.26 L73.66,180.24 L72.8,180.25 L71.94,180.3 L71.1,180.39 L70.26,180.5 L69.42,180.63 L68.58,180.78 L67.74,180.95 L66.91,181.15 L66.09,181.36 L65.28,181.6 L64.48,181.86 L63.7,182.15 L62.9,182.5 L62.08,182.9 L61.26,183.35 L60.45,183.82 L59.67,184.3 L58.94,184.76 L58.27,185.2 L57.68,185.6 L57.19,185.93 L56.8,186.18 L57.4,187.22 L57.82,187.01 L58.36,186.73 L58.99,186.38 L59.68,186 L60.43,185.59 L61.21,185.18 L62.01,184.78 L62.8,184.42 L63.57,184.1 L64.3,183.85 L65.03,183.64 L65.78,183.45 L66.55,183.29 L67.33,183.14 L68.12,183.02 L68.91,182.92 L69.71,182.83 L70.5,182.77 L71.29,182.72 L72.06,182.7 L72.8,182.71 L73.54,182.75 L74.29,182.84 L75.06,182.94 L75.85,183.06 L76.65,183.18 L77.47,183.3 L78.31,183.4 L79.17,183.47 L80.04,183.5 L80.94,183.48 L81.88,183.43 L82.84,183.36 L83.8,183.27 L84.74,183.16 L85.63,183.06 L86.45,182.96 L87.18,182.88 L87.78,182.82 L88.25,182.78Z"/><path d="M69.78,181.05 L69.64,180.85 L69.46,180.58 L69.25,180.26 L69.02,179.91 L68.77,179.52 L68.52,179.13 L68.27,178.73 L68.03,178.35 L67.81,177.99 L67.62,177.68 L67.44,177.37 L67.27,177.06 L67.1,176.75 L66.93,176.44 L66.77,176.14 L66.62,175.85 L66.48,175.59 L66.36,175.35 L66.25,175.15 L66.16,174.99 L65.24,175.41 L65.3,175.58 L65.37,175.79 L65.46,176.04 L65.56,176.32 L65.68,176.63 L65.8,176.95 L65.94,177.29 L66.08,177.64 L66.23,177.98 L66.38,178.32 L66.55,178.68 L66.74,179.07 L66.95,179.48 L67.17,179.91 L67.39,180.33 L67.6,180.73 L67.8,181.11 L67.97,181.45 L68.12,181.73 L68.22,181.95Z"/><path d="M86.48,182.38 L85.96,182.58 L85.29,182.81 L84.5,183.09 L83.59,183.4 L82.61,183.74 L81.58,184.1 L80.53,184.47 L79.48,184.87 L78.45,185.27 L77.47,185.68 L76.52,186.1 L75.56,186.54 L74.57,187 L73.59,187.48 L72.6,187.97 L71.63,188.46 L70.68,188.95 L69.76,189.44 L68.89,189.92 L68.06,190.39 L67.27,190.84 L66.52,191.3 L65.81,191.76 L65.13,192.21 L64.47,192.65 L63.84,193.09 L63.24,193.53 L62.65,193.95 L62.08,194.36 L61.51,194.77 L60.94,195.19 L60.36,195.62 L59.79,196.06 L59.24,196.49 L58.7,196.91 L58.21,197.31 L57.75,197.68 L57.35,198.01 L57.01,198.29 L56.75,198.51 L57.45,199.49 L57.75,199.3 L58.13,199.06 L58.56,198.78 L59.05,198.45 L59.57,198.1 L60.13,197.73 L60.71,197.35 L61.3,196.97 L61.9,196.59 L62.49,196.23 L63.08,195.87 L63.68,195.5 L64.3,195.12 L64.92,194.74 L65.56,194.36 L66.23,193.97 L66.91,193.59 L67.62,193.2 L68.36,192.81 L69.14,192.41 L69.97,192.01 L70.85,191.59 L71.77,191.16 L72.72,190.73 L73.7,190.3 L74.68,189.87 L75.67,189.45 L76.65,189.05 L77.6,188.67 L78.53,188.32 L79.47,187.99 L80.46,187.66 L81.5,187.33 L82.54,187.01 L83.56,186.71 L84.54,186.43 L85.45,186.18 L86.27,185.96 L86.97,185.77 L87.52,185.62Z"/><path d="M67.3,191.43 L67.08,191.73 L66.79,192.11 L66.43,192.56 L66.03,193.07 L65.6,193.62 L65.14,194.2 L64.69,194.8 L64.24,195.41 L63.81,196.02 L63.42,196.61 L63.05,197.22 L62.66,197.88 L62.28,198.57 L61.89,199.27 L61.53,199.97 L61.18,200.64 L60.86,201.27 L60.58,201.82 L60.34,202.29 L60.16,202.66 L61.04,203.14 L61.25,202.8 L61.53,202.34 L61.84,201.8 L62.19,201.2 L62.57,200.55 L62.97,199.88 L63.38,199.21 L63.79,198.56 L64.19,197.94 L64.58,197.39 L64.98,196.86 L65.41,196.31 L65.88,195.75 L66.35,195.19 L66.83,194.64 L67.29,194.12 L67.72,193.65 L68.1,193.22 L68.44,192.86 L68.7,192.57Z"/><path d="M83.58,185.53 L83.49,185.89 L83.38,186.34 L83.24,186.86 L83.09,187.45 L82.91,188.08 L82.72,188.76 L82.52,189.46 L82.32,190.17 L82.1,190.89 L81.89,191.59 L81.66,192.28 L81.4,192.97 L81.12,193.7 L80.81,194.46 L80.5,195.26 L80.18,196.09 L79.88,196.96 L79.6,197.87 L79.35,198.82 L79.15,199.83 L78.99,200.93 L78.86,202.15 L78.75,203.46 L78.67,204.8 L78.61,206.15 L78.56,207.46 L78.52,208.67 L78.49,209.76 L78.47,210.67 L78.45,211.36 L79.55,211.44 L79.63,210.74 L79.72,209.83 L79.81,208.75 L79.91,207.54 L80.02,206.25 L80.15,204.92 L80.29,203.6 L80.45,202.34 L80.64,201.18 L80.85,200.17 L81.09,199.28 L81.37,198.43 L81.69,197.62 L82.03,196.83 L82.38,196.07 L82.74,195.32 L83.1,194.59 L83.46,193.86 L83.8,193.13 L84.11,192.41 L84.4,191.69 L84.68,190.98 L84.95,190.27 L85.21,189.58 L85.46,188.92 L85.7,188.3 L85.92,187.73 L86.11,187.23 L86.28,186.8 L86.42,186.47Z"/><path d="M85.81,186.83 L85.78,187.28 L85.72,187.86 L85.64,188.54 L85.54,189.32 L85.44,190.18 L85.34,191.09 L85.26,192.04 L85.19,193.02 L85.15,194 L85.15,194.99 L85.19,196.02 L85.26,197.17 L85.36,198.39 L85.48,199.65 L85.61,200.9 L85.75,202.12 L85.89,203.24 L86.01,204.25 L86.12,205.09 L86.2,205.74 L87.2,205.66 L87.18,205.01 L87.15,204.15 L87.09,203.14 L87.03,202.01 L86.96,200.8 L86.9,199.55 L86.85,198.3 L86.82,197.1 L86.82,195.99 L86.85,195.01 L86.92,194.1 L87.02,193.18 L87.16,192.26 L87.31,191.36 L87.47,190.49 L87.64,189.67 L87.8,188.91 L87.95,188.23 L88.08,187.64 L88.19,187.17Z"/><path d="M88.8,185.07 L88.86,185.54 L88.93,186.12 L89.01,186.81 L89.09,187.59 L89.17,188.44 L89.26,189.34 L89.35,190.27 L89.45,191.21 L89.55,192.15 L89.65,193.07 L89.77,194.03 L89.89,195.08 L90.03,196.21 L90.17,197.36 L90.31,198.51 L90.45,199.62 L90.58,200.65 L90.7,201.58 L90.81,202.35 L90.9,202.95 L91.9,202.85 L91.88,202.25 L91.84,201.47 L91.79,200.54 L91.72,199.5 L91.65,198.39 L91.58,197.23 L91.51,196.08 L91.45,194.95 L91.39,193.89 L91.35,192.93 L91.31,192.02 L91.28,191.09 L91.26,190.15 L91.24,189.22 L91.22,188.32 L91.2,187.47 L91.19,186.69 L91.19,185.99 L91.19,185.4 L91.2,184.93Z"/><path d="M85.23,45.2 L84.56,44.27 L83.79,42.87 L82.98,41.23 L82.18,39.6 L81.41,38.2 L80.74,37.27 L77.6,37.88 L77.32,38.99 L77.14,40.58 L77,42.39 L76.86,44.21 L76.67,45.79 L76.39,46.9Z"/><path d="M75.53,46.09 L74.36,46.13 L72.74,45.99 L70.89,45.75 L69.04,45.51 L67.42,45.36 L66.25,45.4 L65.03,48.36 L65.83,49.21 L67.08,50.25 L68.56,51.38 L70.04,52.52 L71.29,53.56 L72.09,54.41Z"/><path d="M89.87,49.63 L90.13,48.56 L90.69,47.14 L91.39,45.54 L92.09,43.94 L92.65,42.52 L92.92,41.44 L90.46,39.4 L89.45,39.85 L88.15,40.65 L86.71,41.63 L85.26,42.61 L83.96,43.42 L82.95,43.87Z"/><path d="M91.63,56.49 L92.57,55.94 L93.96,55.35 L95.57,54.76 L97.19,54.16 L98.58,53.57 L99.52,53.02 L99.29,49.83 L98.28,49.42 L96.82,49.04 L95.14,48.67 L93.46,48.31 L92,47.92 L90.99,47.51Z"/><path d="M73.27,58.85 L72.72,59.85 L71.79,61.12 L70.66,62.53 L69.53,63.95 L68.59,65.22 L68.04,66.22 L69.91,68.81 L71.03,68.6 L72.53,68.11 L74.23,67.48 L75.93,66.85 L77.43,66.36 L78.55,66.15Z"/><path d="M85,64.97 L86.01,65.44 L87.29,66.28 L88.73,67.29 L90.16,68.3 L91.45,69.13 L92.45,69.6 L94.95,67.6 L94.7,66.52 L94.16,65.08 L93.48,63.46 L92.8,61.85 L92.26,60.41 L92.02,59.33Z"/><path d="M82.7,41C86.28,40.67 90.08,42.83 92.5,45C94.92,47.17 96.7,50.92 97.2,54C97.7,57.08 97.03,60.92 95.5,63.5C93.97,66.08 90.5,68.17 88,69.5C85.5,70.83 83.17,71.92 80.5,71.5C77.83,71.08 74.03,69.42 72,67C69.97,64.58 68.47,60.33 68.3,57C68.13,53.67 68.6,49.67 71,47C73.4,44.33 79.12,41.33 82.7,41Z"/><path d="M77,67 L85,67 L83,84 L78.5,84Z"/><path d="M86,177C87.67,176.58 91.08,177.17 92,178.5C92.92,179.83 92.33,183.25 91.5,185C90.67,186.75 88.58,188.83 87,189C85.42,189.17 82.83,187.33 82,186C81.17,184.67 81.33,182.5 82,181C82.67,179.5 84.33,177.42 86,177Z"/></g><circle cx="82.5" cy="55.3" r="8" fill="#5B87C3" stroke="#4E78B2" stroke-width="0.8"/><path d="M77,52 Q78,49 81,48.5" stroke="#9DBBE0" stroke-width="1" fill="none"/><g transform="translate(80.5 89.55) rotate(86.4)"><rect x="-6.06" y="-3.4" width="12.13" height="6.8" rx="2.6" fill="#DAE7F3" stroke="#8AADCF" stroke-width="0.9"/><line x1="-3.56" y1="-1.1" x2="3.56" y2="-1.1" stroke="#B5CDE3" stroke-width="0.6"/><line x1="-3.56" y1="1.1" x2="3.56" y2="1.1" stroke="#B5CDE3" stroke-width="0.6"/></g><g transform="translate(82.85 101.85) rotate(71.85)"><rect x="-5.96" y="-3.4" width="11.92" height="6.8" rx="2.6" fill="#DAE7F3" stroke="#8AADCF" stroke-width="0.9"/><line x1="-3.46" y1="-1.1" x2="3.46" y2="-1.1" stroke="#B5CDE3" stroke-width="0.6"/><line x1="-3.46" y1="1.1" x2="3.46" y2="1.1" stroke="#B5CDE3" stroke-width="0.6"/></g><g transform="translate(88.4 113.35) rotate(57.03)"><rect x="-6.32" y="-3.4" width="12.63" height="6.8" rx="2.6" fill="#DAE7F3" stroke="#8AADCF" stroke-width="0.9"/><line x1="-3.82" y1="-1.1" x2="3.82" y2="-1.1" stroke="#B5CDE3" stroke-width="0.6"/><line x1="-3.82" y1="1.1" x2="3.82" y2="1.1" stroke="#B5CDE3" stroke-width="0.6"/></g><g transform="translate(94.35 124.85) rotate(68.45)"><rect x="-6.1" y="-3.4" width="12.19" height="6.8" rx="2.6" fill="#DAE7F3" stroke="#8AADCF" stroke-width="0.9"/><line x1="-3.6" y1="-1.1" x2="3.6" y2="-1.1" stroke="#B5CDE3" stroke-width="0.6"/><line x1="-3.6" y1="1.1" x2="3.6" y2="1.1" stroke="#B5CDE3" stroke-width="0.6"/></g><g transform="translate(98.7 137.15) rotate(72.52)"><rect x="-6.36" y="-3.4" width="12.72" height="6.8" rx="2.6" fill="#DAE7F3" stroke="#8AADCF" stroke-width="0.9"/><line x1="-3.86" y1="-1.1" x2="3.86" y2="-1.1" stroke="#B5CDE3" stroke-width="0.6"/><line x1="-3.86" y1="1.1" x2="3.86" y2="1.1" stroke="#B5CDE3" stroke-width="0.6"/></g><g transform="translate(100.7 149.85) rotate(90)"><rect x="-6.05" y="-3.4" width="12.1" height="6.8" rx="2.6" fill="#DAE7F3" stroke="#8AADCF" stroke-width="0.9"/><line x1="-3.55" y1="-1.1" x2="3.55" y2="-1.1" stroke="#B5CDE3" stroke-width="0.6"/><line x1="-3.55" y1="1.1" x2="3.55" y2="1.1" stroke="#B5CDE3" stroke-width="0.6"/></g><g transform="translate(99.1 162.15) rotate(105.05)"><rect x="-5.86" y="-3.4" width="11.72" height="6.8" rx="2.6" fill="#DAE7F3" stroke="#8AADCF" stroke-width="0.9"/><line x1="-3.36" y1="-1.1" x2="3.36" y2="-1.1" stroke="#B5CDE3" stroke-width="0.6"/><line x1="-3.36" y1="1.1" x2="3.36" y2="1.1" stroke="#B5CDE3" stroke-width="0.6"/></g><g transform="translate(94.35 173.25) rotate(121.45)"><rect x="-5.74" y="-3.4" width="11.47" height="6.8" rx="2.6" fill="#DAE7F3" stroke="#8AADCF" stroke-width="0.9"/><line x1="-3.24" y1="-1.1" x2="3.24" y2="-1.1" stroke="#B5CDE3" stroke-width="0.6"/><line x1="-3.24" y1="1.1" x2="3.24" y2="1.1" stroke="#B5CDE3" stroke-width="0.6"/></g><circle cx="57.1" cy="186.7" r="1.9" fill="#B8D4EC" stroke="#6592C4" stroke-width="0.9"/><circle cx="65.7" cy="175.2" r="1.9" fill="#B8D4EC" stroke="#6592C4" stroke-width="0.9"/><circle cx="57.1" cy="199" r="1.9" fill="#B8D4EC" stroke="#6592C4" stroke-width="0.9"/><circle cx="60.6" cy="202.9" r="1.9" fill="#B8D4EC" stroke="#6592C4" stroke-width="0.9"/><circle cx="79" cy="211.4" r="1.9" fill="#B8D4EC" stroke="#6592C4" stroke-width="0.9"/><circle cx="86.7" cy="205.7" r="1.9" fill="#B8D4EC" stroke="#6592C4" stroke-width="0.9"/><circle cx="91.4" cy="202.9" r="1.9" fill="#B8D4EC" stroke="#6592C4" stroke-width="0.9"/></g>
<path d="M599.47,103.46C597.16,101.54 593.67,100.81 590.05,100.07C586.43,99.32 580.88,99.26 577.74,98.99C574.6,98.71 572.86,98.78 571.22,98.39C569.58,98.01 567.9,97.27 567.9,96.7C567.9,96.13 569.58,95.38 571.22,95C572.86,94.61 574.6,94.67 577.73,94.39C580.87,94.1 586.42,94.02 590.04,93.27C593.66,92.51 596.52,91.72 599.45,89.86C602.37,87.99 606.93,84.84 607.58,82.08C608.24,79.32 604.84,76.16 603.37,73.32C601.9,70.49 600.9,67.81 598.77,65.07C596.65,62.32 592.7,58.94 590.62,56.84C588.55,54.74 587.25,53.75 586.32,52.48C585.39,51.2 584.67,49.63 585.03,49.19C585.39,48.76 587.07,49.18 588.49,49.86C589.92,50.55 591.13,51.65 593.57,53.31C596.01,54.97 600.04,58.25 603.13,59.84C606.21,61.44 609.68,62.62 612.08,62.87C614.47,63.12 617.08,62.46 617.48,61.35C617.88,60.23 614.9,58.08 614.47,56.17C614.03,54.26 615.2,52.03 614.87,49.89C614.53,47.74 613.07,44.98 612.46,43.3C611.85,41.62 611.31,40.78 611.2,39.81C611.1,38.83 611.35,37.74 611.85,37.46C612.34,37.19 613.4,37.55 614.18,38.15C614.95,38.75 615.38,39.66 616.48,41.07C617.59,42.47 619.16,45.17 620.81,46.58C622.45,48 625.1,48.71 626.35,49.56C627.6,50.41 626.95,52.71 628.31,51.66C629.67,50.62 633.35,46.32 634.52,43.31C635.69,40.3 635.57,37.18 635.35,33.6C635.13,30.01 633.76,24.8 633.22,21.79C632.67,18.78 632.16,17.17 632.1,15.54C632.05,13.91 632.33,12.14 632.88,11.99C633.43,11.84 634.58,13.2 635.38,14.63C636.17,16.06 636.56,17.7 637.65,20.56C638.74,23.42 640.24,28.59 641.9,31.78C643.57,34.96 645.05,37.78 647.62,39.67C650.2,41.55 654.64,43.23 657.35,43.09C660.05,42.96 662.19,40.93 663.86,38.83C665.54,36.73 666.59,33.72 667.39,30.51C668.19,27.3 668.33,22.37 668.66,19.58C668.99,16.79 668.94,15.24 669.35,13.79C669.76,12.35 670.53,10.89 671.1,10.9C671.66,10.91 672.39,12.39 672.75,13.85C673.11,15.31 673.02,16.86 673.26,19.65C673.5,22.45 673.49,27.39 674.19,30.62C674.89,33.85 675.95,36.42 677.46,39.04C678.97,41.67 681.77,45.76 683.27,46.36C684.77,46.97 684.88,44.11 686.46,42.67C688.05,41.23 690.86,39.88 692.8,37.73C694.73,35.57 696.74,31.78 698.09,29.74C699.45,27.71 700,26.47 700.91,25.52C701.83,24.58 703.06,23.81 703.56,24.07C704.07,24.32 704.17,25.77 703.95,27.07C703.72,28.36 703.04,29.54 702.19,31.83C701.35,34.12 699.46,37.98 698.86,40.81C698.25,43.65 698.93,46.54 698.58,48.84C698.24,51.14 695.9,53.71 696.8,54.6C697.7,55.49 701.69,54.27 704.01,54.19C706.33,54.12 708.42,54.64 710.72,54.15C713.01,53.65 715.97,51.96 717.77,51.22C719.57,50.47 720.47,49.86 721.52,49.68C722.56,49.5 723.75,49.67 724.04,50.15C724.33,50.64 723.91,51.76 723.26,52.6C722.61,53.44 721.64,53.94 720.13,55.17C718.62,56.4 715.73,58.2 714.2,59.99C712.67,61.77 711.56,64.06 710.98,65.87C710.39,67.68 709.36,69.87 710.7,70.86C712.05,71.85 716.19,71.46 719.03,71.82C721.87,72.18 724.53,73.11 727.74,73.04C730.95,72.97 735.59,71.82 738.27,71.4C740.96,70.99 742.4,70.54 743.85,70.55C745.31,70.56 746.87,70.93 747.01,71.48C747.15,72.02 745.98,73.11 744.72,73.84C743.46,74.57 741.99,74.89 739.44,75.85C736.9,76.81 732.3,78.1 729.47,79.62C726.65,81.14 724.09,83.36 722.5,84.97C720.91,86.59 719.64,86.92 719.94,89.31C720.25,91.71 722.75,96.91 724.33,99.33C725.91,101.76 727.35,102.66 729.42,103.85C731.49,105.04 734.88,105.8 736.75,106.47C738.61,107.14 739.71,107.3 740.62,107.88C741.53,108.46 742.32,109.38 742.21,109.94C742.09,110.49 741,111.04 739.94,111.21C738.87,111.38 737.8,111.1 735.82,110.98C733.84,110.86 730.42,110.23 728.05,110.51C725.68,110.79 723.47,110.85 721.6,112.66C719.73,114.46 717.37,119.67 716.82,121.33C716.26,122.98 717.57,121.75 718.28,122.59C718.99,123.43 719.92,125.47 721.07,126.37C722.21,127.26 724.09,127.57 725.13,127.98C726.16,128.4 726.8,128.41 727.28,128.86C727.76,129.3 728.07,130.1 728,130.66C727.93,131.22 727.43,131.92 726.85,132.23C726.28,132.55 725.66,132.4 724.56,132.55C723.45,132.69 721.55,132.52 720.22,133.11C718.89,133.7 718.03,135.74 716.59,136.08C715.14,136.43 712.77,134.43 711.54,135.18C710.31,135.94 708.92,138.78 709.21,140.62C709.5,142.46 711.49,144.58 713.3,146.22C715.1,147.87 718.32,149.41 720.03,150.51C721.75,151.6 722.81,152.01 723.59,152.79C724.37,153.57 724.96,154.66 724.73,155.18C724.49,155.69 723.28,155.96 722.18,155.88C721.08,155.8 720.07,155.27 718.12,154.69C716.17,154.11 712.9,152.69 710.48,152.41C708.05,152.13 706.4,152.85 703.57,152.99C700.73,153.14 696.34,152.29 693.45,153.3C690.57,154.3 687.74,156.99 686.26,159.01C684.78,161.03 684.67,163.11 684.55,165.42C684.43,167.73 685.28,170.97 685.53,172.88C685.78,174.78 686.14,175.79 686.03,176.83C685.93,177.87 685.46,178.96 684.92,179.11C684.37,179.27 683.4,178.59 682.77,177.76C682.13,176.93 681.9,175.88 681.11,174.14C680.32,172.39 679.33,169.18 678.01,167.28C676.69,165.38 675.61,164 673.18,162.74C670.75,161.48 666.72,159.68 663.44,159.7C660.15,159.73 655.63,160.99 653.47,162.89C651.31,164.79 651.07,167.98 650.47,171.12C649.87,174.25 650.03,179.01 649.88,181.71C649.72,184.41 649.86,185.9 649.55,187.32C649.23,188.73 648.55,190.17 647.99,190.2C647.42,190.23 646.6,188.86 646.15,187.48C645.7,186.1 645.7,184.6 645.28,181.93C644.87,179.26 644.57,174.51 643.67,171.44C642.77,168.38 642.08,166.19 639.89,163.55C637.69,160.9 632.86,156.66 630.5,155.57C628.14,154.47 627.57,156.21 625.72,156.98C623.86,157.76 621.35,158.66 619.36,160.22C617.38,161.78 615.23,164.79 613.82,166.35C612.4,167.91 611.79,168.91 610.87,169.58C609.94,170.25 608.74,170.67 608.27,170.35C607.8,170.03 607.77,168.75 608.06,167.65C608.36,166.55 609.08,165.62 610.03,163.74C610.98,161.86 613.01,158.78 613.76,156.37C614.51,153.96 614.22,151.53 614.51,149.28C614.8,147.03 616.93,145.19 615.49,142.87C614.05,140.54 608.77,136.93 605.88,135.34C602.99,133.74 601.03,133.52 598.16,133.28C595.29,133.03 591.09,133.73 588.67,133.88C586.25,134.03 584.93,134.33 583.64,134.18C582.34,134.02 581,133.5 580.9,132.95C580.79,132.39 581.87,131.43 583.03,130.83C584.19,130.23 585.53,130.06 587.85,129.35C590.17,128.64 594.35,127.82 596.95,126.59C599.55,125.35 602.3,124.46 603.46,121.95C604.61,119.45 604.54,114.64 603.87,111.56C603.21,108.48 601.77,105.37 599.47,103.46Z" fill="#A9C787" stroke="#86A86A" stroke-width="0.7" stroke-linejoin="round"/>
<path d="M611.29,83.16C613.41,75.38 617.33,68.61 620.56,63.9C623.78,59.19 624.46,57.73 630.64,54.9C636.82,52.06 649.12,47.72 657.64,46.89C666.16,46.06 675.64,48.16 681.76,49.95C687.88,51.73 690.1,53.8 694.36,57.6C698.62,61.4 703.73,67.33 707.32,72.72C710.9,78.11 714.92,82.08 715.87,89.91C716.82,97.74 714.29,112.59 712.99,119.7C711.69,126.81 711.67,127.62 708.04,132.57C704.41,137.52 698.67,145.59 691.21,149.4C683.75,153.21 673.06,155.09 663.31,155.43C653.56,155.78 640.13,154.1 632.71,151.47C625.29,148.85 622.9,146.49 618.76,139.68C614.62,132.87 609.12,120.03 607.87,110.61C606.62,101.19 609.18,90.95 611.29,83.16Z" fill="#B3CE91"/>
<g fill="#7DA668"><circle cx="669.5" cy="62.3" r="4"/><circle cx="656.2" cy="58.7" r="2"/><circle cx="641" cy="65" r="2.5"/><circle cx="636.2" cy="76.2" r="2"/><circle cx="626.7" cy="84.1" r="4"/><circle cx="615.6" cy="93.7" r="2.5"/><circle cx="610.8" cy="108" r="2.5"/><circle cx="623.5" cy="117.5" r="4"/><circle cx="637.8" cy="136.5" r="3"/><circle cx="626.7" cy="139.7" r="2"/><circle cx="661" cy="141.3" r="4"/><circle cx="690.2" cy="130.2" r="2.5"/><circle cx="697" cy="110.5" r="4"/><circle cx="713.3" cy="104.8" r="2"/><circle cx="707.8" cy="88.9" r="4"/><circle cx="692.8" cy="79.6" r="2.5"/></g>
<circle cx="661.8" cy="102.6" r="28.3" fill="#6F9660"/>
<circle cx="660.8" cy="101.2" r="27.2" fill="#7FA56B"/>
<path d="M648,85.8 L650.8,83.2" stroke="#CFE2C0" stroke-width="1.3" stroke-linecap="round"/>
<line x1="574" y1="127.6" x2="585.5" y2="131.2" stroke="#7A3E4C" stroke-width="2"/>
<path d="M567.5,119.5 C575,121 576,130 564,132.5" fill="none" stroke="#DCC0BC" stroke-width="2.6" stroke-linecap="round"/>
<g transform="translate(600.5 139.5) rotate(25)"><path d="M-6,-8 L6,-8 L4,-2 L7,8 L-7,8 L-4,-2Z" fill="#C5E2DE" stroke="#9CC6C2" stroke-width="0.7"/><line x1="-2" y1="-8" x2="-2.5" y2="8" stroke="#9CC6C2" stroke-width="0.6"/><line x1="2" y1="-8" x2="2.5" y2="8" stroke="#9CC6C2" stroke-width="0.6"/></g>
<path d="M467.3,89.2 L483,82 L480.8,86.2 L520.2,86.2 L520.2,89.2 Z" fill="#D9745D"/><path d="M466.8,93.9 L519.8,93.9 L504.2,100.7 L506.7,96.9 L466.8,96.9 Z" fill="#D9745D"/>
<path d="M282.3,133.2 L298,126 L295.8,130.2 L335.2,130.2 L335.2,133.2 Z" fill="#D9745D"/><path d="M281.8,137.9 L334.8,137.9 L319.2,144.7 L321.7,140.9 L281.8,140.9 Z" fill="#D9745D"/>
<rect x="342.8" y="49.2" width="110" height="91.8" rx="14" fill="#FDFBF3" stroke="#BDBDB5" stroke-width="0.9" stroke-dasharray="3.2 2.2"/>
<rect x="323" y="378.4" width="135.4" height="113" rx="17" fill="#FDFBF3" stroke="#BDBDB5" stroke-width="0.9" stroke-dasharray="3.6 2.4"/>
<g fill="#E070DC"><circle cx="362.3" cy="69.6" r="1.6"/><circle cx="372.3" cy="71.2" r="1.6"/><circle cx="356.1" cy="74.4" r="1.6"/><circle cx="360.7" cy="74.4" r="1.6"/><circle cx="367.2" cy="74.8" r="1.6"/><circle cx="362.8" cy="77.9" r="1.6"/><circle cx="368.8" cy="79.1" r="1.6"/><circle cx="358.8" cy="80.7" r="1.6"/><circle cx="364.4" cy="82.8" r="1.6"/></g>
<g fill="#5F8FE0"><circle cx="396.1" cy="55.3" r="1.6"/><circle cx="406.1" cy="56.9" r="1.6"/><circle cx="389.9" cy="60.1" r="1.6"/><circle cx="394.5" cy="60.1" r="1.6"/><circle cx="401" cy="60.5" r="1.6"/><circle cx="396.6" cy="63.6" r="1.6"/><circle cx="402.6" cy="64.8" r="1.6"/><circle cx="392.6" cy="66.4" r="1.6"/><circle cx="398.2" cy="68.5" r="1.6"/></g>
<g fill="#E06084"><circle cx="392.5" cy="101.7" r="1.6"/><circle cx="402.5" cy="103.3" r="1.6"/><circle cx="386.3" cy="106.5" r="1.6"/><circle cx="390.9" cy="106.5" r="1.6"/><circle cx="397.4" cy="106.9" r="1.6"/><circle cx="393" cy="110" r="1.6"/><circle cx="399" cy="111.2" r="1.6"/><circle cx="389" cy="112.8" r="1.6"/><circle cx="394.6" cy="114.9" r="1.6"/></g>
<g fill="#5A5CE0"><circle cx="436.8" cy="88.7" r="1.6"/><circle cx="446.8" cy="90.3" r="1.6"/><circle cx="430.6" cy="93.5" r="1.6"/><circle cx="435.2" cy="93.5" r="1.6"/><circle cx="441.7" cy="93.9" r="1.6"/><circle cx="437.3" cy="97" r="1.6"/><circle cx="443.3" cy="98.2" r="1.6"/><circle cx="433.3" cy="99.8" r="1.6"/><circle cx="438.9" cy="101.9" r="1.6"/></g>
<g fill="#5F8FE0"><circle cx="387.3" cy="382.8" r="1.9"/><circle cx="399.6" cy="385.1" r="1.9"/><circle cx="379.4" cy="388.6" r="1.9"/><circle cx="385.2" cy="388.6" r="1.9"/><circle cx="393" cy="389.6" r="1.9"/><circle cx="387.7" cy="392.7" r="1.9"/><circle cx="395.5" cy="394.8" r="1.9"/><circle cx="383.1" cy="396.2" r="1.9"/><circle cx="390.4" cy="399.3" r="1.9"/></g>
<g fill="#E070DC"><circle cx="345.6" cy="400.6" r="1.9"/><circle cx="357.9" cy="402.9" r="1.9"/><circle cx="337.7" cy="406.4" r="1.9"/><circle cx="343.5" cy="406.4" r="1.9"/><circle cx="351.3" cy="407.4" r="1.9"/><circle cx="346" cy="410.5" r="1.9"/><circle cx="353.8" cy="412.6" r="1.9"/><circle cx="341.4" cy="414" r="1.9"/><circle cx="348.7" cy="417.1" r="1.9"/></g>
<g fill="#E06084"><circle cx="382.7" cy="440.6" r="1.9"/><circle cx="395" cy="442.9" r="1.9"/><circle cx="374.8" cy="446.4" r="1.9"/><circle cx="380.6" cy="446.4" r="1.9"/><circle cx="388.4" cy="447.4" r="1.9"/><circle cx="383.1" cy="450.5" r="1.9"/><circle cx="390.9" cy="452.6" r="1.9"/><circle cx="378.5" cy="454" r="1.9"/><circle cx="385.8" cy="457.1" r="1.9"/></g>
<g fill="#5A5CE0"><circle cx="437.4" cy="424.3" r="1.9"/><circle cx="449.7" cy="426.6" r="1.9"/><circle cx="429.5" cy="430.1" r="1.9"/><circle cx="435.3" cy="430.1" r="1.9"/><circle cx="443.1" cy="431.1" r="1.9"/><circle cx="437.8" cy="434.2" r="1.9"/><circle cx="445.6" cy="436.3" r="1.9"/><circle cx="433.2" cy="437.7" r="1.9"/><circle cx="440.5" cy="440.8" r="1.9"/></g>
<g fill="#F08B62"><circle cx="546" cy="44.5" r="1.75"/><circle cx="558.6" cy="47.2" r="1.75"/><circle cx="538" cy="50.9" r="1.75"/><circle cx="543.9" cy="50.9" r="1.75"/><circle cx="552.1" cy="51.5" r="1.75"/><circle cx="546.6" cy="55.3" r="1.75"/><circle cx="554.2" cy="57.4" r="1.75"/><circle cx="541.7" cy="58.7" r="1.75"/><circle cx="549" cy="61.7" r="1.75"/></g>
<g fill="#C050E0"><circle cx="245.6" cy="131.5" r="1.95"/><circle cx="259.4" cy="134.1" r="1.95"/><circle cx="237" cy="137.9" r="1.95"/><circle cx="243.4" cy="137.9" r="1.95"/><circle cx="252.2" cy="138.8" r="1.95"/><circle cx="246.2" cy="142.7" r="1.95"/><circle cx="254.8" cy="145" r="1.95"/><circle cx="241.3" cy="146.2" r="1.95"/><circle cx="248.7" cy="149.6" r="1.95"/></g>
<g fill="#6A6AF0"><circle cx="625.4" cy="184.5" r="2.05"/><circle cx="641.5" cy="187.7" r="2.05"/><circle cx="615.4" cy="192.1" r="2.05"/><circle cx="622.4" cy="192.1" r="2.05"/><circle cx="632.8" cy="193.2" r="2.05"/><circle cx="626.1" cy="197.6" r="2.05"/><circle cx="635.7" cy="200.3" r="2.05"/><circle cx="619.8" cy="202" r="2.05"/><circle cx="629.1" cy="205.7" r="2.05"/></g>
<g fill="#F5B862"><circle cx="408.7" cy="268.3" r="2.15"/><circle cx="425.4" cy="271.4" r="2.15"/><circle cx="398.6" cy="276" r="2.15"/><circle cx="405.8" cy="275.8" r="2.15"/><circle cx="416.5" cy="277.1" r="2.15"/><circle cx="409.3" cy="281.8" r="2.15"/><circle cx="419.5" cy="284.3" r="2.15"/><circle cx="403" cy="286.2" r="2.15"/><circle cx="412.4" cy="289.9" r="2.15"/></g>
<g fill="#B57D85" stroke="#8C4F58" stroke-width="1"><ellipse cx="221.9" cy="279.5" rx="6.6" ry="3.6"/><ellipse cx="215.2" cy="286.9" rx="6.6" ry="3.6"/><ellipse cx="228.6" cy="286.9" rx="6.6" ry="3.6"/></g>
<g fill="#B57D85" stroke="#8C4F58" stroke-width="1"><ellipse cx="618.4" cy="272.7" rx="6.4" ry="3.7"/><ellipse cx="611.7" cy="279.7" rx="6.4" ry="3.7"/><ellipse cx="625.1" cy="279.7" rx="6.4" ry="3.7"/></g>
<g fill="#E6A849" stroke="#C88D2E" stroke-width="1"><ellipse cx="774.3" cy="160.4" rx="6.6" ry="3.3"/><ellipse cx="767.8" cy="167.8" rx="6.6" ry="3.3"/><ellipse cx="780.8" cy="167.8" rx="6.6" ry="3.3"/></g>
<g fill="#72A594" stroke="#4F8574" stroke-width="1"><ellipse cx="367.3" cy="583.4" rx="6.5" ry="3.6"/><ellipse cx="360.7" cy="590.5" rx="6.5" ry="3.6"/><ellipse cx="373.9" cy="590.5" rx="6.5" ry="3.6"/></g>
<g fill="#5D80C4" stroke="#40629F" stroke-width="1"><ellipse cx="494.4" cy="580.1" rx="6.4" ry="3.4"/><ellipse cx="487.7" cy="587" rx="6.4" ry="3.4"/><ellipse cx="501.1" cy="587" rx="6.4" ry="3.4"/></g>
<g transform="translate(221.5 26) rotate(15)"><line x1="-28" y1="-1.7" x2="-14" y2="-1.7" stroke="#B48EC8" stroke-width="0.9"/><line x1="-28" y1="1.7" x2="-14" y2="1.7" stroke="#B48EC8" stroke-width="0.9"/><rect x="-15" y="-3.25" width="13.5" height="6.5" fill="#D9C2E5"/><line x1="-14" y1="-1" x2="-2" y2="-1" stroke="#ffffff" stroke-opacity="0.35" stroke-width="0.6"/><line x1="-14" y1="1" x2="-2" y2="1" stroke="#ffffff" stroke-opacity="0.35" stroke-width="0.6"/><path d="M-1.5,-1.5 L1.29,-1.78 M-1.5,1.5 L1.35,1.73" stroke="#B48EC8" stroke-width="0.7"/><g transform="rotate(-54)"><rect x="2.2" y="-3.5" width="12" height="7" fill="#D9C2E5"/><line x1="3.2" y1="0" x2="13.2" y2="0" stroke="#ffffff" stroke-opacity="0.3" stroke-width="0.6"/></g><g transform="rotate(52)"><rect x="2.2" y="-3.5" width="12" height="7" fill="#D9C2E5"/><line x1="3.2" y1="0" x2="13.2" y2="0" stroke="#ffffff" stroke-opacity="0.3" stroke-width="0.6"/></g></g>
<g transform="translate(185 77) rotate(15)"><line x1="-29" y1="-1.7" x2="-14" y2="-1.7" stroke="#7E9C6C" stroke-width="0.9"/><line x1="-29" y1="1.7" x2="-14" y2="1.7" stroke="#7E9C6C" stroke-width="0.9"/><rect x="-15" y="-3.25" width="13.5" height="6.5" fill="#B6D69B"/><line x1="-14" y1="-1" x2="-2" y2="-1" stroke="#ffffff" stroke-opacity="0.35" stroke-width="0.6"/><line x1="-14" y1="1" x2="-2" y2="1" stroke="#ffffff" stroke-opacity="0.35" stroke-width="0.6"/><path d="M-1.5,-1.5 L1.83,-1.7 M-1.5,1.5 L1.7,1.83" stroke="#7E9C6C" stroke-width="0.7"/><g transform="rotate(-43)"><rect x="2.5" y="-3.1" width="12.5" height="6.2" fill="#B6D69B"/><line x1="3.5" y1="0" x2="14" y2="0" stroke="#ffffff" stroke-opacity="0.3" stroke-width="0.6"/></g><g transform="rotate(47)"><rect x="2.5" y="-3.1" width="12.5" height="6.2" fill="#B6D69B"/><line x1="3.5" y1="0" x2="14" y2="0" stroke="#ffffff" stroke-opacity="0.3" stroke-width="0.6"/></g></g>
<g stroke="#8E9FA9" stroke-width="1.5" fill="none" stroke-linecap="round"><path d="M193.8,126.5 L221.1,127.1"/><path d="M221.1,127.1 L223.3,122.6"/><path d="M223.3,122.6 L223.3,117.1"/><path d="M223.3,122.6 L229.6,115.6"/><path d="M223.6,124.3 L229.9,127.6"/><path d="M221.6,128.6 L224.1,132.6"/><path d="M224.1,132.6 L223.1,138.6"/><path d="M224.1,132.6 L226.6,139.1"/><path d="M224.1,132.6 L230.6,131.1"/><path d="M225.1,126.1 L230.9,126.6"/><path d="M223.6,124.1 C229.1,124.1 229.1,131.1 224.1,131.6" stroke-width="1.1"/></g>
<g stroke="#8E9FA9" stroke-width="1.5" fill="none" stroke-linecap="round"><path d="M181.4,354 L213,354.5"/><path d="M213,354.5 L215.2,350"/><path d="M215.2,350 L215.2,344.5"/><path d="M215.2,350 L221.5,343"/><path d="M215.5,351.7 L221.8,355"/><path d="M213.5,356 L216,360"/><path d="M216,360 L215,366"/><path d="M216,360 L218.5,366.5"/><path d="M216,360 L222.5,358.5"/><path d="M217,353.5 L222.8,354"/><path d="M215.5,351.5 C221,351.5 221,358.5 216,359" stroke-width="1.1"/></g>
<g stroke="#D89B92" stroke-width="4" stroke-linecap="round" fill="none"><path d="M148,234.3 L172.7,234.3"/><path d="M172.7,234.3 L183.9,223.4"/><path d="M172.7,234.3 L183.9,244.4"/></g>
<g><line x1="160.7" y1="438.4" x2="180" y2="438.4" stroke="#C96A80" stroke-width="1.3"/><line x1="160.7" y1="443.6" x2="180" y2="443.6" stroke="#C96A80" stroke-width="1.3"/><circle cx="179" cy="438.4" r="1.9" fill="#C96A80"/><circle cx="183.2" cy="438.4" r="1.9" fill="#C96A80"/><circle cx="179" cy="443.6" r="1.9" fill="#C96A80"/><circle cx="183.2" cy="443.6" r="1.9" fill="#C96A80"/><circle cx="187.3" cy="437.1" r="1.7" fill="#DDB3BA"/><circle cx="187.3" cy="444.6" r="1.7" fill="#DDB3BA"/><circle cx="191.3" cy="435.3" r="1.9" fill="#C96A80"/><circle cx="191.3" cy="446.4" r="1.9" fill="#C96A80"/><circle cx="194.4" cy="432.3" r="1.9" fill="#DDB3BA"/><circle cx="194.4" cy="449.4" r="1.9" fill="#DDB3BA"/></g>
<line x1="204.6" y1="538.6" x2="233" y2="538.6" stroke="#5A7BBE" stroke-width="3.4"/>
<g stroke="#B7D0EA" stroke-width="3.6" stroke-linecap="round"><line x1="233" y1="538.6" x2="245" y2="528.3"/><line x1="233" y1="538.6" x2="245" y2="548.2"/></g>
<path d="M242.9,357.3C243.33,357.12 244.52,356.32 245.5,356.2C246.48,356.08 247.85,356.22 248.8,356.6C249.75,356.98 250.62,357.68 251.2,358.5C251.78,359.32 252.17,360.5 252.3,361.5C252.43,362.5 252.22,363.48 252,364.5C251.78,365.52 251.17,367.08 251,367.6" fill="none" stroke="#D9667A" stroke-width="1.6" stroke-linecap="round" stroke-linejoin="round"/><circle cx="242.3" cy="357.3" r="1.6" fill="#D9667A"/><circle cx="245.09" cy="356.5" r="1.6" fill="#D9667A"/><circle cx="245.98" cy="356.17" r="1.6" fill="#D9667A"/><circle cx="249.4" cy="356.6" r="1.6" fill="#D9667A"/><circle cx="249.93" cy="357.73" r="1.6" fill="#D9667A"/><circle cx="252.31" cy="359.42" r="1.6" fill="#D9667A"/><circle cx="251.7" cy="361.5" r="1.6" fill="#D9667A"/><circle cx="252.8" cy="363.49" r="1.6" fill="#D9667A"/><circle cx="251.08" cy="365.64" r="1.6" fill="#D9667A"/><circle cx="251.6" cy="367.6" r="1.6" fill="#D9667A"/><circle cx="251" cy="367.6" r="1.75" fill="#D9667A"/>
<path d="M243.5,359.5C243.92,359.75 245.58,360.75 246,361" fill="none" stroke="#D9667A" stroke-width="1.6" stroke-linecap="round" stroke-linejoin="round"/><circle cx="242.9" cy="359.5" r="1.6" fill="#D9667A"/><circle cx="245.86" cy="360.56" r="1.6" fill="#D9667A"/><circle cx="246" cy="361" r="1.75" fill="#D9667A"/>
<path d="M255.4,356.6C255.92,356.55 257.4,356.18 258.5,356.3C259.6,356.42 261.08,356.72 262,357.3C262.92,357.88 263.57,358.88 264,359.8C264.43,360.72 264.55,361.87 264.6,362.8C264.65,363.73 264.47,364.6 264.3,365.4C264.13,366.2 263.72,367.23 263.6,367.6" fill="none" stroke="#D9667A" stroke-width="1.6" stroke-linecap="round" stroke-linejoin="round"/><circle cx="254.8" cy="356.6" r="1.6" fill="#D9667A"/><circle cx="257.92" cy="356.31" r="1.6" fill="#D9667A"/><circle cx="259.09" cy="356.48" r="1.6" fill="#D9667A"/><circle cx="262.6" cy="357.3" r="1.6" fill="#D9667A"/><circle cx="262.89" cy="358.87" r="1.6" fill="#D9667A"/><circle cx="264.94" cy="360.78" r="1.6" fill="#D9667A"/><circle cx="264" cy="362.8" r="1.6" fill="#D9667A"/><circle cx="265.06" cy="364.58" r="1.6" fill="#D9667A"/><circle cx="263.47" cy="366.24" r="1.6" fill="#D9667A"/><circle cx="264.2" cy="367.6" r="1.6" fill="#D9667A"/><circle cx="263.6" cy="367.6" r="1.75" fill="#D9667A"/>
<path d="M256,358.8C256.42,359.08 258.08,360.22 258.5,360.5" fill="none" stroke="#D9667A" stroke-width="1.6" stroke-linecap="round" stroke-linejoin="round"/><circle cx="255.4" cy="358.8" r="1.6" fill="#D9667A"/><circle cx="258.36" cy="360" r="1.6" fill="#D9667A"/><circle cx="258.5" cy="360.5" r="1.75" fill="#D9667A"/>
<text x="241.3" y="38.9" font-size="12.6" text-anchor="start" fill="#222222" stroke="#222222" stroke-width="0.12">H1R</text>
<text x="196.8" y="101.4" font-size="12.6" text-anchor="start" fill="#222222" stroke="#222222" stroke-width="0.12">TRPA1</text>
<text x="518.8" y="37.1" font-size="12.6" text-anchor="start" fill="#222222" stroke="#222222" stroke-width="0.12">Histamine</text>
<text x="349.8" y="103.7" font-size="12.2" text-anchor="start" fill="#222222" stroke="#222222" stroke-width="0.12">IL-31</text>
<text x="372.8" y="134.7" font-size="12.2" text-anchor="start" fill="#222222" stroke="#222222" stroke-width="0.12">IL-13</text>
<text x="408.1" y="73.6" font-size="12.2" text-anchor="start" fill="#222222" stroke="#222222" stroke-width="0.12">IL-33</text>
<text x="421.9" y="119.3" font-size="12.2" text-anchor="start" fill="#222222" stroke="#222222" stroke-width="0.12">IL-4</text>
<text x="521.3" y="120.7" font-size="12.6" text-anchor="start" fill="#222222" stroke="#222222" stroke-width="0.12">NK1R</text>
<text x="536.5" y="160.6" font-size="12.6" text-anchor="start" fill="#222222" stroke="#222222" stroke-width="0.12">MRGPRX2</text>
<text x="217.8" y="161.7" font-size="12.6" text-anchor="start" fill="#222222" stroke="#222222" stroke-width="0.12">SP</text>
<text x="735.8" y="101.9" font-size="15" text-anchor="start" fill="#222222" stroke="#222222" stroke-width="0.12">MC</text>
<text x="752.3" y="185.8" font-size="12.6" text-anchor="start" fill="#222222" stroke="#222222" stroke-width="0.12">Serotonin</text>
<text x="185.3" y="225.1" font-size="12.6" text-anchor="start" fill="#222222" stroke="#222222" stroke-width="0.12">CRTH2R</text>
<text x="616.5" y="224.9" font-size="12.6" text-anchor="start" fill="#222222" stroke="#222222" stroke-width="0.12">PGD2</text>
<text x="35.8" y="277.3" font-size="15.6" text-anchor="start" fill="#222222" stroke="#222222" stroke-width="0.12">Nerve ending</text>
<text x="203.5" y="305.3" font-size="12.6" text-anchor="start" fill="#222222" stroke="#222222" stroke-width="0.12">BST2</text>
<text x="393.5" y="305.9" font-size="12.6" text-anchor="start" fill="#222222" stroke="#222222" stroke-width="0.12">IL-27</text>
<text x="602.7" y="262.4" font-size="12.6" text-anchor="start" fill="#222222" stroke="#222222" stroke-width="0.12">BST2</text>
<text x="602.7" y="340.6" font-size="12.6" text-anchor="start" fill="#222222" stroke="#222222" stroke-width="0.12">PAR2</text>
<text x="626.3" y="402.6" font-size="15.6" text-anchor="start" fill="#222222" stroke="#222222" stroke-width="0.12">Keratinocytes</text>
<text x="250" y="347.5" font-size="12.6" text-anchor="start" fill="#222222" stroke="#222222" stroke-width="0.12">CGRP</text>
<text x="191.3" y="385" font-size="12.5" text-anchor="middle" fill="#222222" stroke="#222222" stroke-width="0.12">Neurite</text>
<text x="191.3" y="400.7" font-size="12.5" text-anchor="middle" fill="#222222" stroke="#222222" stroke-width="0.12">branching</text>
<text x="171.3" y="470.1" font-size="12.6" text-anchor="start" fill="#222222" stroke="#222222" stroke-width="0.12">TRPV1</text>
<text x="405.5" y="404.1" font-size="12.2" text-anchor="start" fill="#222222" stroke="#222222" stroke-width="0.12">IL-33</text>
<text x="332.1" y="443.3" font-size="12.2" text-anchor="start" fill="#222222" stroke="#222222" stroke-width="0.12">IL-31</text>
<text x="361.8" y="481.5" font-size="12.2" text-anchor="start" fill="#222222" stroke="#222222" stroke-width="0.12">IL-13</text>
<text x="421.7" y="460.8" font-size="12.2" text-anchor="start" fill="#222222" stroke="#222222" stroke-width="0.12">IL-4</text>
<text x="619.3" y="543.7" font-size="15.6" text-anchor="start" fill="#222222" stroke="#222222" stroke-width="0.12">Eosinophil</text>
<text x="202.3" y="570.1" font-size="12.6" text-anchor="start" fill="#222222" stroke="#222222" stroke-width="0.12">CysLTR2</text>
<text x="319.6" y="587.3" font-size="12.6" text-anchor="start" fill="#222222" stroke="#222222" stroke-width="0.12">LTC4</text>
<text x="391.5" y="616.1" font-size="15.5" text-anchor="start" fill="#222222" stroke="#222222" stroke-width="0.12">Basophil</text>
<text x="515.1" y="587.9" font-size="12.6" text-anchor="start" fill="#222222" stroke="#222222" stroke-width="0.12">BH4</text>
<line x1="505" y1="34.7" x2="280.6" y2="34.7" stroke="#A08878" stroke-width="1"/><path d="M276.4,34.7 L283.4,37.85 L281.44,34.7 L283.4,31.55 Z" fill="#8A5E50"/>
<line x1="254.3" y1="42.5" x2="228.07" y2="80.83" stroke="#A08878" stroke-width="1"/><path d="M225.7,84.3 L232.25,80.3 L228.55,80.14 L227.05,76.74 Z" fill="#8A5E50"/>
<line x1="240" y1="156.5" x2="485.8" y2="158.5" stroke="#A08878" stroke-width="1"/>
<line x1="485.8" y1="158.5" x2="526.4" y2="158.5" stroke="#A08878" stroke-width="1"/><path d="M530.6,158.5 L523.6,155.35 L525.56,158.5 L523.6,161.65 Z" fill="#8A5E50"/>
<line x1="485.8" y1="158.5" x2="518.18" y2="125.02" stroke="#A08878" stroke-width="1"/><path d="M521.1,122 L513.97,124.84 L517.6,125.62 L518.5,129.22 Z" fill="#8A5E50"/>
<line x1="612" y1="221.2" x2="251.8" y2="221.2" stroke="#A08878" stroke-width="1"/><path d="M247.6,221.2 L254.6,224.35 L252.64,221.2 L254.6,218.05 Z" fill="#8A5E50"/>
<line x1="433.3" y1="299.8" x2="541" y2="299.8" stroke="#A08878" stroke-width="1"/>
<line x1="389.9" y1="299.8" x2="251.9" y2="300.09" stroke="#A08878" stroke-width="1"/><path d="M247.7,300.1 L254.71,303.24 L252.74,300.09 L254.69,296.94 Z" fill="#8A5E50"/>
<line x1="541" y1="299.8" x2="593.92" y2="267.2" stroke="#A08878" stroke-width="1"/><path d="M597.5,265 L589.89,265.99 L593.21,267.64 L593.19,271.35 Z" fill="#8A5E50"/>
<line x1="541" y1="299.8" x2="593.83" y2="329.35" stroke="#A08878" stroke-width="1"/><path d="M597.5,331.4 L592.93,325.23 L593.1,328.94 L589.85,330.73 Z" fill="#8A5E50"/>
<line x1="381" y1="565.2" x2="266.6" y2="565.2" stroke="#A08878" stroke-width="1"/><path d="M262.4,565.2 L269.4,568.35 L267.44,565.2 L269.4,562.05 Z" fill="#8A5E50"/>
<path d="M476.6,564.5 L748.3,564.5 L748.3,120" fill="none" stroke="#A08878" stroke-width="1.0"/>
<path d="M748.3,114.3 L745.15,121.3 L748.3,119.34 L751.45,121.3 Z" fill="#8A5E50"/>
<path d="M253.1,394.6 L270.4,388.3 L268.6,395.7 L297,404.9 L294.5,412.6 L266,403.4 L263.2,410.4 Z" fill="#FDFBF5" stroke="#BFAE9F" stroke-width="0.9" stroke-linejoin="round"/>
<path d="M480,460.5 L497.3,454.2 L495.5,461.6 L523.9,470.8 L521.4,478.5 L492.9,469.3 L490.1,476.3 Z" fill="#FDFBF5" stroke="#BFAE9F" stroke-width="0.9" stroke-linejoin="round"/>
<path d="M644.9,274.4C645.22,272.45 645.75,269.23 647.4,267.7C649.05,266.17 651.93,265.78 654.8,265.2C657.67,264.62 662.15,265.12 664.6,264.2C667.05,263.28 667.45,261.17 669.5,259.7C671.55,258.23 674.03,256.33 676.9,255.4C679.77,254.47 683.22,254 686.7,254.1C690.18,254.2 694.52,254.87 697.8,256C701.08,257.13 703.93,259.4 706.4,260.9C708.87,262.4 710.13,264.08 712.6,265C715.07,265.92 718.53,265.43 721.2,266.4C723.87,267.37 726.97,269.25 728.6,270.8C730.23,272.35 731,273.97 731,275.7C731,277.43 730.43,279.97 728.6,281.2C726.77,282.43 723.48,283.1 720,283.1C716.52,283.1 711.2,281.72 707.7,281.2C704.2,280.68 702.5,280.3 699,280C695.5,279.7 690.8,279.4 686.7,279.4C682.6,279.4 678.5,279.6 674.4,280C670.3,280.4 665.98,281.4 662.1,281.8C658.22,282.2 653.87,282.8 651.1,282.4C648.33,282 646.53,280.73 645.5,279.4C644.47,278.07 644.58,276.35 644.9,274.4Z" fill="#ABCDE4" stroke="#86ACCC" stroke-width="0.9" stroke-dasharray="2.2 0.8"/><path d="M700,280.5 C712,279 724,277 730,274 L731,277 C725,282 712,283 700,280.5Z" fill="#9EC3DF" opacity="0.6"/><ellipse cx="688" cy="267.7" rx="7.4" ry="5.9" fill="#5D95C8" stroke="#5088BC" stroke-width="0.6"/><path d="M683.5,265.5 Q685,263.3 687.5,263" fill="none" stroke="#8DB8E0" stroke-width="0.9"/><g transform="translate(653.5 254.5) rotate(58.7)"><line x1="13" y1="-1.3" x2="19.5" y2="-1.3" stroke="#E3A9B0" stroke-width="0.8"/><line x1="13" y1="1.3" x2="19.5" y2="1.3" stroke="#E3A9B0" stroke-width="0.8"/><rect x="1.5" y="-2.3" width="12" height="4.6" fill="#EDBDC2"/><circle cx="0.5" cy="0" r="1.7" fill="#CF8C92"/><g transform="rotate(-128)"><rect x="2.5" y="-2.5" width="8" height="5" fill="#F0C3C7"/></g><g transform="rotate(132)"><rect x="2.5" y="-2.5" width="8" height="5" fill="#F0C3C7"/></g></g>
<path d="M644.9,323C645.22,321.05 645.75,317.83 647.4,316.3C649.05,314.77 651.93,314.38 654.8,313.8C657.67,313.22 662.15,313.72 664.6,312.8C667.05,311.88 667.45,309.77 669.5,308.3C671.55,306.83 674.03,304.93 676.9,304C679.77,303.07 683.22,302.6 686.7,302.7C690.18,302.8 694.52,303.47 697.8,304.6C701.08,305.73 703.93,308 706.4,309.5C708.87,311 710.13,312.68 712.6,313.6C715.07,314.52 718.53,314.03 721.2,315C723.87,315.97 726.97,317.85 728.6,319.4C730.23,320.95 731,322.57 731,324.3C731,326.03 730.43,328.57 728.6,329.8C726.77,331.03 723.48,331.7 720,331.7C716.52,331.7 711.2,330.32 707.7,329.8C704.2,329.28 702.5,328.9 699,328.6C695.5,328.3 690.8,328 686.7,328C682.6,328 678.5,328.2 674.4,328.6C670.3,329 665.98,330 662.1,330.4C658.22,330.8 653.87,331.4 651.1,331C648.33,330.6 646.53,329.33 645.5,328C644.47,326.67 644.58,324.95 644.9,323Z" fill="#ABCDE4" stroke="#86ACCC" stroke-width="0.9" stroke-dasharray="2.2 0.8"/><path d="M700,329.1 C712,327.6 724,325.6 730,322.6 L731,325.6 C725,330.6 712,331.6 700,329.1Z" fill="#9EC3DF" opacity="0.6"/><ellipse cx="688" cy="316.3" rx="7.4" ry="5.9" fill="#5D95C8" stroke="#5088BC" stroke-width="0.6"/><path d="M683.5,314.1 Q685,311.9 687.5,311.6" fill="none" stroke="#8DB8E0" stroke-width="0.9"/><g transform="translate(653.5 303.1) rotate(58.7)"><line x1="13" y1="-1.3" x2="19.5" y2="-1.3" stroke="#E3A9B0" stroke-width="0.8"/><line x1="13" y1="1.3" x2="19.5" y2="1.3" stroke="#E3A9B0" stroke-width="0.8"/><rect x="1.5" y="-2.3" width="12" height="4.6" fill="#EDBDC2"/><circle cx="0.5" cy="0" r="1.7" fill="#CF8C92"/><g transform="rotate(-128)"><rect x="2.5" y="-2.5" width="8" height="5" fill="#F0C3C7"/></g><g transform="rotate(132)"><rect x="2.5" y="-2.5" width="8" height="5" fill="#F0C3C7"/></g></g>
<path d="M644.9,369.4C645.22,367.45 645.75,364.23 647.4,362.7C649.05,361.17 651.93,360.78 654.8,360.2C657.67,359.62 662.15,360.12 664.6,359.2C667.05,358.28 667.45,356.17 669.5,354.7C671.55,353.23 674.03,351.33 676.9,350.4C679.77,349.47 683.22,349 686.7,349.1C690.18,349.2 694.52,349.87 697.8,351C701.08,352.13 703.93,354.4 706.4,355.9C708.87,357.4 710.13,359.08 712.6,360C715.07,360.92 718.53,360.43 721.2,361.4C723.87,362.37 726.97,364.25 728.6,365.8C730.23,367.35 731,368.97 731,370.7C731,372.43 730.43,374.97 728.6,376.2C726.77,377.43 723.48,378.1 720,378.1C716.52,378.1 711.2,376.72 707.7,376.2C704.2,375.68 702.5,375.3 699,375C695.5,374.7 690.8,374.4 686.7,374.4C682.6,374.4 678.5,374.6 674.4,375C670.3,375.4 665.98,376.4 662.1,376.8C658.22,377.2 653.87,377.8 651.1,377.4C648.33,377 646.53,375.73 645.5,374.4C644.47,373.07 644.58,371.35 644.9,369.4Z" fill="#ABCDE4" stroke="#86ACCC" stroke-width="0.9" stroke-dasharray="2.2 0.8"/><path d="M700,375.5 C712,374 724,372 730,369 L731,372 C725,377 712,378 700,375.5Z" fill="#9EC3DF" opacity="0.6"/><ellipse cx="688" cy="362.7" rx="7.4" ry="5.9" fill="#5D95C8" stroke="#5088BC" stroke-width="0.6"/><path d="M683.5,360.5 Q685,358.3 687.5,358" fill="none" stroke="#8DB8E0" stroke-width="0.9"/><g transform="translate(653.5 349.5) rotate(58.7)"><line x1="13" y1="-1.3" x2="19.5" y2="-1.3" stroke="#E3A9B0" stroke-width="0.8"/><line x1="13" y1="1.3" x2="19.5" y2="1.3" stroke="#E3A9B0" stroke-width="0.8"/><rect x="1.5" y="-2.3" width="12" height="4.6" fill="#EDBDC2"/><circle cx="0.5" cy="0" r="1.7" fill="#CF8C92"/><g transform="rotate(-128)"><rect x="2.5" y="-2.5" width="8" height="5" fill="#F0C3C7"/></g><g transform="rotate(132)"><rect x="2.5" y="-2.5" width="8" height="5" fill="#F0C3C7"/></g></g>
<path d="M643.6,476.7C643.6,479.05 642.35,481.5 641.5,483.74C640.64,485.99 639.12,487.94 638.46,490.19C637.8,492.45 638.02,494.91 637.53,497.26C637.03,499.62 636.76,502.35 635.49,504.33C634.22,506.3 631.85,507.69 629.91,509.12C627.97,510.54 625.64,511.36 623.87,512.9C622.09,514.44 620.95,516.63 619.26,518.34C617.57,520.06 615.86,522.21 613.73,523.18C611.59,524.16 608.85,524.04 606.45,524.19C604.04,524.35 601.64,523.78 599.32,524.11C596.99,524.45 594.85,525.67 592.5,526.2C590.15,526.73 587.55,527.61 585.23,527.28C582.9,526.95 580.66,525.36 578.55,524.19C576.45,523.03 574.74,521.25 572.6,520.27C570.47,519.3 568,519.17 565.74,518.34C563.48,517.52 560.81,516.86 559.04,515.32C557.26,513.78 556.23,511.24 555.09,509.12C553.95,507 553.47,504.57 552.2,502.6C550.93,500.62 548.93,499.18 547.47,497.26C546.02,495.35 544.13,493.35 543.47,491.1C542.81,488.84 543.32,486.14 543.5,483.74C543.69,481.35 544.6,479.05 544.6,476.7C544.6,474.35 543.69,472.05 543.5,469.66C543.32,467.26 542.81,464.56 543.47,462.3C544.13,460.05 546.02,458.05 547.47,456.14C548.93,454.22 550.93,452.78 552.2,450.8C553.47,448.83 553.95,446.4 555.09,444.28C556.23,442.16 557.26,439.62 559.04,438.08C560.81,436.54 563.48,435.88 565.74,435.06C568,434.23 570.47,434.1 572.6,433.13C574.74,432.15 576.45,430.37 578.55,429.21C580.66,428.04 582.9,426.45 585.23,426.12C587.55,425.79 590.15,426.67 592.5,427.2C594.85,427.73 596.99,428.95 599.32,429.29C601.64,429.62 604.04,429.05 606.45,429.21C608.85,429.36 611.59,429.24 613.73,430.22C615.86,431.19 617.57,433.34 619.26,435.06C620.95,436.77 622.09,438.96 623.87,440.5C625.64,442.04 627.97,442.86 629.91,444.28C631.85,445.71 634.22,447.1 635.49,449.07C636.76,451.05 637.03,453.78 637.53,456.14C638.02,458.49 637.8,460.95 638.46,463.21C639.12,465.46 640.64,467.41 641.5,469.66C642.35,471.9 643.6,474.35 643.6,476.7Z" fill="#ACCDEC" stroke="#7F9FC4" stroke-width="0.9" stroke-dasharray="1.6 0.8"/>
<path d="M635.5,475.7C635.5,477.79 635.35,479.9 635.05,481.96C634.76,484.03 634.31,486.09 633.72,488.1C633.13,490.1 632.39,492.08 631.52,493.98C630.66,495.88 629.64,497.73 628.52,499.49C627.39,501.24 626.12,502.94 624.75,504.51C623.39,506.09 621.89,507.59 620.31,508.95C618.74,510.32 617.04,511.59 615.29,512.72C613.53,513.84 611.68,514.86 609.78,515.72C607.88,516.59 605.9,517.33 603.9,517.92C601.89,518.51 599.83,518.96 597.76,519.25C595.7,519.55 593.59,519.7 591.5,519.7C589.41,519.7 587.3,519.55 585.24,519.25C583.17,518.96 581.11,518.51 579.1,517.92C577.1,517.33 575.12,516.59 573.22,515.72C571.32,514.86 569.47,513.84 567.71,512.72C565.96,511.59 564.26,510.32 562.69,508.95C561.11,507.59 559.61,506.09 558.25,504.51C556.88,502.94 555.61,501.24 554.48,499.49C553.36,497.73 552.34,495.88 551.48,493.98C550.61,492.08 549.87,490.1 549.28,488.1C548.69,486.09 548.24,484.03 547.95,481.96C547.65,479.9 547.5,477.79 547.5,475.7C547.5,473.61 547.65,471.5 547.95,469.44C548.24,467.37 548.69,465.31 549.28,463.3C549.87,461.3 550.61,459.32 551.48,457.42C552.34,455.52 553.36,453.67 554.48,451.91C555.61,450.16 556.88,448.46 558.25,446.89C559.61,445.31 561.11,443.81 562.69,442.45C564.26,441.08 565.96,439.81 567.71,438.68C569.47,437.56 571.32,436.54 573.22,435.68C575.12,434.81 577.1,434.07 579.1,433.48C581.11,432.89 583.17,432.44 585.24,432.15C587.3,431.85 589.41,431.7 591.5,431.7C593.59,431.7 595.7,431.85 597.76,432.15C599.83,432.44 601.89,432.89 603.9,433.48C605.9,434.07 607.88,434.81 609.78,435.68C611.68,436.54 613.53,437.56 615.29,438.68C617.04,439.81 618.74,441.08 620.31,442.45C621.89,443.81 623.39,445.31 624.75,446.89C626.12,448.46 627.39,450.16 628.52,451.91C629.64,453.67 630.66,455.52 631.52,457.42C632.39,459.32 633.13,461.3 633.72,463.3C634.31,465.31 634.76,467.37 635.05,469.44C635.35,471.5 635.5,473.61 635.5,475.7Z" fill="#B6D4F0"/>
<g fill="#D6E3F0" stroke="#8193B2" stroke-width="0.75" stroke-dasharray="1.3 0.6"><ellipse cx="635.39" cy="474.9" rx="3.3" ry="2.2" transform="rotate(79.8 635.39 474.9)"/><ellipse cx="633.88" cy="489.04" rx="3.3" ry="2.2" transform="rotate(80.54 633.88 489.04)"/><ellipse cx="631.59" cy="496.48" rx="3.3" ry="2.2" transform="rotate(102.4 631.59 496.48)"/><ellipse cx="624.08" cy="507.75" rx="3.3" ry="2.2" transform="rotate(132.74 624.08 507.75)"/><ellipse cx="610.09" cy="515.64" rx="3.3" ry="2.2" transform="rotate(164.04 610.09 515.64)"/><ellipse cx="603.64" cy="518.44" rx="3.3" ry="2.2" transform="rotate(187.14 603.64 518.44)"/><ellipse cx="589.37" cy="520.11" rx="3.3" ry="2.2" transform="rotate(194.41 589.37 520.11)"/><ellipse cx="580.8" cy="518.68" rx="3.3" ry="2.2" transform="rotate(201.03 580.8 518.68)"/><ellipse cx="569.72" cy="511.26" rx="3.3" ry="2.2" transform="rotate(235.33 569.72 511.26)"/><ellipse cx="558.91" cy="504.27" rx="3.3" ry="2.2" transform="rotate(253.35 558.91 504.27)"/><ellipse cx="551.51" cy="492.86" rx="3.3" ry="2.2" transform="rotate(242.18 551.51 492.86)"/><ellipse cx="550.03" cy="480.47" rx="3.3" ry="2.2" transform="rotate(291.07 550.03 480.47)"/><ellipse cx="551.71" cy="468.55" rx="3.3" ry="2.2" transform="rotate(259.46 551.71 468.55)"/><ellipse cx="551.21" cy="460.95" rx="3.3" ry="2.2" transform="rotate(287.05 551.21 460.95)"/><ellipse cx="560.31" cy="449.41" rx="3.3" ry="2.2" transform="rotate(310.73 560.31 449.41)"/><ellipse cx="567.45" cy="442.55" rx="3.3" ry="2.2" transform="rotate(328.84 567.45 442.55)"/><ellipse cx="578.32" cy="435.03" rx="3.3" ry="2.2" transform="rotate(352.13 578.32 435.03)"/><ellipse cx="592.51" cy="432.83" rx="3.3" ry="2.2" transform="rotate(389.48 592.51 432.83)"/><ellipse cx="602.12" cy="436.03" rx="3.3" ry="2.2" transform="rotate(394.95 602.12 436.03)"/><ellipse cx="615.6" cy="439.23" rx="3.3" ry="2.2" transform="rotate(395.8 615.6 439.23)"/><ellipse cx="622.15" cy="447.05" rx="3.3" ry="2.2" transform="rotate(424.9 622.15 447.05)"/><ellipse cx="628.77" cy="455.22" rx="3.3" ry="2.2" transform="rotate(393.18 628.77 455.22)"/><ellipse cx="635.74" cy="467.19" rx="3.3" ry="2.2" transform="rotate(412.9 635.74 467.19)"/><ellipse cx="626.55" cy="483.54" rx="3.3" ry="2.2" transform="rotate(80.4 626.55 483.54)"/><ellipse cx="624.49" cy="492.79" rx="3.3" ry="2.2" transform="rotate(139.07 624.49 492.79)"/><ellipse cx="617.75" cy="501.44" rx="3.3" ry="2.2" transform="rotate(107.11 617.75 501.44)"/><ellipse cx="603.96" cy="509.23" rx="3.3" ry="2.2" transform="rotate(183.45 603.96 509.23)"/><ellipse cx="590.67" cy="511.67" rx="3.3" ry="2.2" transform="rotate(212.91 590.67 511.67)"/><ellipse cx="582.72" cy="508.98" rx="3.3" ry="2.2" transform="rotate(202.84 582.72 508.98)"/><ellipse cx="573.29" cy="504.86" rx="3.3" ry="2.2" transform="rotate(208.77 573.29 504.86)"/><ellipse cx="563.2" cy="493.89" rx="3.3" ry="2.2" transform="rotate(212.15 563.2 493.89)"/><ellipse cx="558.4" cy="481.51" rx="3.3" ry="2.2" transform="rotate(289.49 558.4 481.51)"/><ellipse cx="558.65" cy="469.36" rx="3.3" ry="2.2" transform="rotate(279.86 558.65 469.36)"/><ellipse cx="561.44" cy="459.64" rx="3.3" ry="2.2" transform="rotate(304.52 561.44 459.64)"/><ellipse cx="569.37" cy="449.96" rx="3.3" ry="2.2" transform="rotate(345.57 569.37 449.96)"/><ellipse cx="579.84" cy="444.29" rx="3.3" ry="2.2" transform="rotate(351.88 579.84 444.29)"/><ellipse cx="590.21" cy="442.37" rx="3.3" ry="2.2" transform="rotate(384.86 590.21 442.37)"/><ellipse cx="603.82" cy="443.43" rx="3.3" ry="2.2" transform="rotate(349.48 603.82 443.43)"/><ellipse cx="614.11" cy="448.86" rx="3.3" ry="2.2" transform="rotate(369.02 614.11 448.86)"/><ellipse cx="623.05" cy="458.82" rx="3.3" ry="2.2" transform="rotate(393.26 623.05 458.82)"/><ellipse cx="626.84" cy="470.5" rx="3.3" ry="2.2" transform="rotate(450.52 626.84 470.5)"/></g>
<path d="M624.3,464.5C623.4,461.9 620.43,454.42 617.1,451.4C613.77,448.38 608.82,447.23 604.3,446.4C599.78,445.57 594.77,445.8 590,446.4C585.23,447 579.75,447.5 575.7,450C571.65,452.5 567.83,457.12 565.7,461.4C563.57,465.68 562.67,470.7 562.9,475.7C563.13,480.7 564.02,486.63 567.1,491.4C570.18,496.17 576.4,501.68 581.4,504.3C586.4,506.92 592.1,507.33 597.1,507.1C602.1,506.87 607.58,505.52 611.4,502.9C615.22,500.28 618.45,494.98 620,491.4C621.55,487.82 621.2,484.3 620.7,481.4C620.2,478.5 619.45,475.82 617,474C614.55,472.18 610,470.58 606,470.5C602,470.42 596.92,473.28 593,473.5C589.08,473.72 584.95,473.22 582.5,471.8C580.05,470.38 578.72,467.38 578.3,465C577.88,462.62 578.55,459.4 580,457.5C581.45,455.6 584.15,453.93 587,453.6C589.85,453.27 593.27,454.47 597.1,455.5C600.93,456.53 606.42,458.13 610,459.8C613.58,461.47 616.52,464.3 618.6,465.5C620.68,466.7 621.55,467.17 622.5,467C623.45,466.83 625.2,467.1 624.3,464.5Z" fill="#6688C6" stroke="#5B7DBA" stroke-width="0.6"/>
<path d="M565,490 C575,503 600,510 618,495 C612,500 596,505 582,501 C575,498 569,495 565,490Z" fill="#5B7CBA" opacity="0.8"/>
<g fill="#D6E3F0" stroke="#8193B2" stroke-width="0.75" stroke-dasharray="1.3 0.6"><ellipse cx="584.5" cy="465.5" rx="2.9" ry="2" transform="rotate(30 584.5 465.5)"/><ellipse cx="591" cy="459.5" rx="2.9" ry="2" transform="rotate(10 591 459.5)"/><ellipse cx="599" cy="462.5" rx="2.9" ry="2" transform="rotate(20 599 462.5)"/><ellipse cx="606" cy="466.5" rx="2.9" ry="2" transform="rotate(30 606 466.5)"/><ellipse cx="598" cy="468" rx="2.9" ry="2" transform="rotate(20 598 468)"/></g>
<path d="M468.72,562.62C467.8,564.59 467.03,566.33 466.66,568.44C466.3,570.55 467.08,573.19 466.54,575.29C466.01,577.4 464.98,579.57 463.44,581.06C461.9,582.55 459.14,583.08 457.31,584.24C455.47,585.4 453.88,586.44 452.43,588.03C450.99,589.61 450.22,592.24 448.63,593.72C447.04,595.2 445,596.48 442.9,596.9C440.8,597.32 438.19,596.27 436.02,596.26C433.85,596.24 431.94,596.26 429.87,596.81C427.8,597.35 425.73,599.16 423.59,599.54C421.46,599.93 419.05,599.9 417.05,599.12C415.06,598.34 413.44,596.04 411.62,594.86C409.8,593.67 408.19,592.66 406.15,592C404.11,591.34 401.39,591.73 399.38,590.9C397.38,590.07 395.37,588.75 394.11,587.01C392.86,585.28 392.73,582.47 391.84,580.49C390.96,578.51 390.15,576.78 388.79,575.12C387.43,573.47 384.93,572.33 383.69,570.55C382.45,568.76 381.48,566.56 381.36,564.42C381.24,562.28 382.65,559.86 382.98,557.71C383.3,555.56 383.55,553.67 383.31,551.54C383.06,549.42 381.57,547.11 381.49,544.94C381.41,542.77 381.79,540.39 382.84,538.53C383.9,536.66 386.4,535.38 387.83,533.75C389.27,532.12 390.5,530.67 391.44,528.74C392.39,526.82 392.38,524.07 393.49,522.2C394.6,520.34 396.19,518.54 398.09,517.54C399.99,516.54 402.78,516.82 404.87,516.22C406.96,515.63 408.78,515.07 410.62,513.96C412.45,512.85 413.93,510.54 415.87,509.57C417.81,508.59 420.13,507.95 422.26,508.13C424.4,508.32 426.6,510.06 428.68,510.69C430.76,511.32 432.59,511.83 434.74,511.89C436.88,511.95 439.37,510.8 441.53,511.04C443.69,511.27 445.99,511.97 447.69,513.29C449.38,514.6 450.29,517.25 451.7,518.91C453.11,520.56 454.37,521.98 456.15,523.19C457.92,524.4 460.64,524.78 462.33,526.15C464.02,527.51 465.57,529.35 466.29,531.37C467,533.39 466.33,536.11 466.63,538.26C466.92,540.42 467.21,542.3 468.05,544.27C468.89,546.24 470.97,548.04 471.65,550.1C472.34,552.16 472.65,554.55 472.16,556.63C471.67,558.72 469.63,560.65 468.72,562.62Z" fill="#F2AA9F" stroke="#E79689" stroke-width="1"/>
<path d="M465.2,553C465.2,555.09 465.03,557.2 464.71,559.26C464.38,561.32 463.89,563.38 463.24,565.36C462.6,567.34 461.79,569.3 460.84,571.16C459.89,573.02 458.79,574.82 457.56,576.51C456.33,578.2 454.96,579.81 453.48,581.28C452.01,582.76 450.4,584.13 448.71,585.36C447.02,586.59 445.22,587.69 443.36,588.64C441.5,589.59 439.54,590.4 437.56,591.04C435.58,591.69 433.52,592.18 431.46,592.51C429.4,592.83 427.29,593 425.2,593C423.11,593 421,592.83 418.94,592.51C416.88,592.18 414.82,591.69 412.84,591.04C410.86,590.4 408.9,589.59 407.04,588.64C405.18,587.69 403.38,586.59 401.69,585.36C400,584.13 398.39,582.76 396.92,581.28C395.44,579.81 394.07,578.2 392.84,576.51C391.61,574.82 390.51,573.02 389.56,571.16C388.61,569.3 387.8,567.34 387.16,565.36C386.51,563.38 386.02,561.32 385.69,559.26C385.37,557.2 385.2,555.09 385.2,553C385.2,550.91 385.37,548.8 385.69,546.74C386.02,544.68 386.51,542.62 387.16,540.64C387.8,538.66 388.61,536.7 389.56,534.84C390.51,532.98 391.61,531.18 392.84,529.49C394.07,527.8 395.44,526.19 396.92,524.72C398.39,523.24 400,521.87 401.69,520.64C403.38,519.41 405.18,518.31 407.04,517.36C408.9,516.41 410.86,515.6 412.84,514.96C414.82,514.31 416.88,513.82 418.94,513.49C421,513.17 423.11,513 425.2,513C427.29,513 429.4,513.17 431.46,513.49C433.52,513.82 435.58,514.31 437.56,514.96C439.54,515.6 441.5,516.41 443.36,517.36C445.22,518.31 447.02,519.41 448.71,520.64C450.4,521.87 452.01,523.24 453.48,524.72C454.96,526.19 456.33,527.8 457.56,529.49C458.79,531.18 459.89,532.98 460.84,534.84C461.79,536.7 462.6,538.66 463.24,540.64C463.89,542.62 464.38,544.68 464.71,546.74C465.03,548.8 465.2,550.91 465.2,553Z" fill="#F4B5AA"/>
<g fill="#F8CEC4" stroke="#C97B70" stroke-width="0.8" stroke-dasharray="1.2 0.5"><ellipse cx="415.3" cy="520.1" rx="2.5" ry="1.8" transform="rotate(81.43 415.3 520.1)"/><ellipse cx="427.3" cy="520.1" rx="2.5" ry="1.8" transform="rotate(100.76 427.3 520.1)"/><ellipse cx="437.1" cy="523.1" rx="2.5" ry="1.8" transform="rotate(166.36 437.1 523.1)"/><ellipse cx="447.7" cy="523.9" rx="2.5" ry="1.8" transform="rotate(83.82 447.7 523.9)"/><ellipse cx="422.8" cy="528.4" rx="2.5" ry="1.8" transform="rotate(91.41 422.8 528.4)"/><ellipse cx="408.5" cy="524.6" rx="2.5" ry="1.8" transform="rotate(105.73 408.5 524.6)"/><ellipse cx="413" cy="532.9" rx="2.5" ry="1.8" transform="rotate(33.24 413 532.9)"/><ellipse cx="399.4" cy="532.2" rx="2.5" ry="1.8" transform="rotate(92.14 399.4 532.2)"/><ellipse cx="401.7" cy="540.5" rx="2.5" ry="1.8" transform="rotate(113.38 401.7 540.5)"/><ellipse cx="410.7" cy="542" rx="2.5" ry="1.8" transform="rotate(142.74 410.7 542)"/><ellipse cx="419.8" cy="542" rx="2.5" ry="1.8" transform="rotate(16.94 419.8 542)"/><ellipse cx="392.6" cy="535.9" rx="2.5" ry="1.8" transform="rotate(54.61 392.6 535.9)"/><ellipse cx="394.1" cy="545" rx="2.5" ry="1.8" transform="rotate(16.32 394.1 545)"/><ellipse cx="404" cy="550.3" rx="2.5" ry="1.8" transform="rotate(145.74 404 550.3)"/><ellipse cx="419.8" cy="550.3" rx="2.5" ry="1.8" transform="rotate(124.82 419.8 550.3)"/><ellipse cx="395.7" cy="553.3" rx="2.5" ry="1.8" transform="rotate(7.54 395.7 553.3)"/><ellipse cx="388.1" cy="558.6" rx="2.5" ry="1.8" transform="rotate(176.79 388.1 558.6)"/><ellipse cx="394.9" cy="563.1" rx="2.5" ry="1.8" transform="rotate(173.66 394.9 563.1)"/><ellipse cx="394.9" cy="575.2" rx="2.5" ry="1.8" transform="rotate(117.71 394.9 575.2)"/><ellipse cx="400.9" cy="583.5" rx="2.5" ry="1.8" transform="rotate(110.8 400.9 583.5)"/><ellipse cx="408.5" cy="587.2" rx="2.5" ry="1.8" transform="rotate(28.35 408.5 587.2)"/><ellipse cx="416.8" cy="589.5" rx="2.5" ry="1.8" transform="rotate(2.7 416.8 589.5)"/><ellipse cx="422.8" cy="587.2" rx="2.5" ry="1.8" transform="rotate(95.11 422.8 587.2)"/><ellipse cx="430.4" cy="591" rx="2.5" ry="1.8" transform="rotate(10.72 430.4 591)"/><ellipse cx="438.7" cy="587.2" rx="2.5" ry="1.8" transform="rotate(34.24 438.7 587.2)"/><ellipse cx="445.4" cy="587.2" rx="2.5" ry="1.8" transform="rotate(43.55 445.4 587.2)"/><ellipse cx="451.5" cy="580.4" rx="2.5" ry="1.8" transform="rotate(5.41 451.5 580.4)"/><ellipse cx="459" cy="569.9" rx="2.5" ry="1.8" transform="rotate(83.51 459 569.9)"/><ellipse cx="459" cy="562.3" rx="2.5" ry="1.8" transform="rotate(79.3 459 562.3)"/><ellipse cx="460.5" cy="553.3" rx="2.5" ry="1.8" transform="rotate(151.64 460.5 553.3)"/><ellipse cx="457.5" cy="542" rx="2.5" ry="1.8" transform="rotate(93.44 457.5 542)"/><ellipse cx="463.6" cy="545.7" rx="2.5" ry="1.8" transform="rotate(115.25 463.6 545.7)"/><ellipse cx="452.2" cy="532.9" rx="2.5" ry="1.8" transform="rotate(89.96 452.2 532.9)"/><ellipse cx="455" cy="527" rx="2.5" ry="1.8" transform="rotate(119.24 455 527)"/></g>
<path d="M431.9,529.1C429.63,530.12 426.68,532.68 425.8,535.2C424.92,537.72 425.33,540.93 426.6,544.2C427.87,547.47 431.38,551.78 433.4,554.8C435.42,557.82 439.72,560.67 438.7,562.3C437.68,563.93 431.2,565.6 427.3,564.6C423.4,563.6 418.82,557.68 415.3,556.3C411.78,554.92 408.72,555.3 406.2,556.3C403.68,557.3 401.33,560.03 400.2,562.3C399.07,564.57 398.65,567.38 399.4,569.9C400.15,572.42 402.05,575.38 404.7,577.4C407.35,579.42 411.02,581.23 415.3,582C419.58,582.77 425.38,583.02 430.4,582C435.42,580.98 441.63,579.18 445.4,575.9C449.17,572.62 451.62,567.07 453,562.3C454.38,557.53 454.45,551.82 453.7,547.3C452.95,542.78 450.88,538.23 448.5,535.2C446.12,532.17 442.17,530.12 439.4,529.1C436.63,528.08 434.17,528.08 431.9,529.1Z" fill="#E0695B" stroke="#CF5A4D" stroke-width="0.7"/>
<path d="M452,552 C454,568 444,580 420,582.5 C438,576 448,566 450,548Z" fill="#C84F43" opacity="0.8"/>
<rect x="0" y="0" width="9" height="630" fill="#fff"/><rect x="0" y="0" width="813" height="4" fill="#fff"/><rect x="0" y="627" width="813" height="3" fill="#fff"/></svg></body></html>
